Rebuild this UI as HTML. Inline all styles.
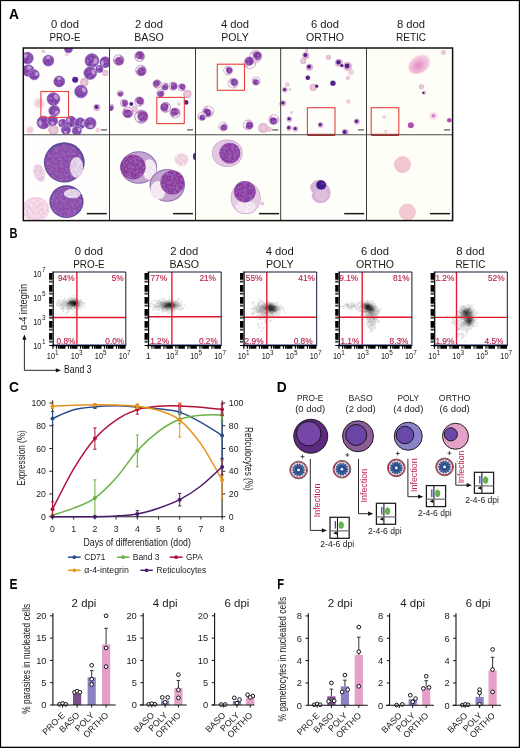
<!DOCTYPE html>
<html><head><meta charset="utf-8"><style>
html,body{margin:0;padding:0;background:#fff;}
svg{display:block;will-change:transform;}
text{font-family:"Liberation Sans",sans-serif;}
</style></head><body>
<svg width="520" height="748" viewBox="0 0 520 748">
<rect width="520" height="748" fill="#fff"/>
<text x="9.0" y="18.8" font-size="13.8" fill="#000" font-weight="bold" >A</text>
<text x="65" y="27.9" font-size="11.3" fill="#1a1a1a" text-anchor="middle" textLength="28.2" lengthAdjust="spacingAndGlyphs" >0 dod</text>
<text x="65" y="40.6" font-size="10.6" fill="#1a1a1a" text-anchor="middle" textLength="30.9" lengthAdjust="spacingAndGlyphs" >PRO-E</text>
<text x="149" y="27.9" font-size="11.3" fill="#1a1a1a" text-anchor="middle" textLength="28.2" lengthAdjust="spacingAndGlyphs" >2 dod</text>
<text x="149" y="40.6" font-size="10.6" fill="#1a1a1a" text-anchor="middle" textLength="29.5" lengthAdjust="spacingAndGlyphs" >BASO</text>
<text x="235" y="27.9" font-size="11.3" fill="#1a1a1a" text-anchor="middle" textLength="28.2" lengthAdjust="spacingAndGlyphs" >4 dod</text>
<text x="235" y="40.6" font-size="10.6" fill="#1a1a1a" text-anchor="middle" textLength="27.5" lengthAdjust="spacingAndGlyphs" >POLY</text>
<text x="325" y="27.9" font-size="11.3" fill="#1a1a1a" text-anchor="middle" textLength="28.2" lengthAdjust="spacingAndGlyphs" >6 dod</text>
<text x="325" y="40.6" font-size="10.6" fill="#1a1a1a" text-anchor="middle" textLength="38" lengthAdjust="spacingAndGlyphs" >ORTHO</text>
<text x="411" y="27.9" font-size="11.3" fill="#1a1a1a" text-anchor="middle" textLength="28.2" lengthAdjust="spacingAndGlyphs" >8 dod</text>
<text x="411" y="40.6" font-size="10.6" fill="#1a1a1a" text-anchor="middle" textLength="30" lengthAdjust="spacingAndGlyphs" >RETIC</text>
<defs>
<filter id="bl" x="-10%" y="-10%" width="120%" height="120%"><feGaussianBlur stdDeviation="0.45"/></filter>
<filter id="bl2" x="-50%" y="-50%" width="200%" height="200%"><feGaussianBlur stdDeviation="1.6"/></filter>
<filter id="bl3" x="-50%" y="-50%" width="200%" height="200%"><feGaussianBlur stdDeviation="0.8"/></filter>
<clipPath id="cp00"><rect x="23.3" y="48" width="86.2" height="86.80000000000001"/></clipPath>
<clipPath id="cp01"><rect x="23.3" y="134.8" width="86.2" height="85.79999999999998"/></clipPath>
<clipPath id="cp10"><rect x="109.5" y="48" width="86.0" height="86.80000000000001"/></clipPath>
<clipPath id="cp11"><rect x="109.5" y="134.8" width="86.0" height="85.79999999999998"/></clipPath>
<clipPath id="cp20"><rect x="195.5" y="48" width="85.19999999999999" height="86.80000000000001"/></clipPath>
<clipPath id="cp21"><rect x="195.5" y="134.8" width="85.19999999999999" height="85.79999999999998"/></clipPath>
<clipPath id="cp30"><rect x="280.7" y="48" width="85.80000000000001" height="86.80000000000001"/></clipPath>
<clipPath id="cp31"><rect x="280.7" y="134.8" width="85.80000000000001" height="85.79999999999998"/></clipPath>
<clipPath id="cp40"><rect x="366.5" y="48" width="86.10000000000002" height="86.80000000000001"/></clipPath>
<clipPath id="cp41"><rect x="366.5" y="134.8" width="86.10000000000002" height="85.79999999999998"/></clipPath>
<radialGradient id="gP" cx="45%" cy="45%" r="55%"><stop offset="0" stop-color="#9a5cb6"/><stop offset="0.75" stop-color="#8048a8"/><stop offset="1" stop-color="#5c3c94"/></radialGradient>
<radialGradient id="gQ" cx="50%" cy="50%" r="50%"><stop offset="0" stop-color="#7a3aa0"/><stop offset="1" stop-color="#5a2a8c"/></radialGradient>
<radialGradient id="gK" cx="50%" cy="50%" r="50%"><stop offset="0" stop-color="#eed0de"/><stop offset="0.75" stop-color="#e6bcd2"/><stop offset="1" stop-color="#d8a4c2"/></radialGradient>
<radialGradient id="gKL" cx="50%" cy="50%" r="50%"><stop offset="0" stop-color="#f0c4dc"/><stop offset="0.6" stop-color="#f4d6e4"/><stop offset="1" stop-color="#fbf0f2" stop-opacity="0"/></radialGradient>
<radialGradient id="gBig" cx="40%" cy="55%" r="55%"><stop offset="0" stop-color="#e488c4"/><stop offset="0.45" stop-color="#eeb0d6"/><stop offset="0.8" stop-color="#f5cfe3"/><stop offset="1" stop-color="#fbeef2" stop-opacity="0"/></radialGradient>
<filter id="mot" x="-10%" y="-10%" width="120%" height="120%"><feTurbulence type="fractalNoise" baseFrequency="0.38" numOctaves="2" seed="4" result="n0"/><feGaussianBlur in="n0" stdDeviation="0.35" result="n"/><feColorMatrix in="n" type="matrix" values="0 0 0 0 0.36  0 0 0 0 0.16  0 0 0 0 0.56  2.2 0 0 0 -0.9" result="dk"/><feComposite in="dk" in2="SourceGraphic" operator="in" result="dk2"/><feMerge><feMergeNode in="SourceGraphic"/><feMergeNode in="dk2"/></feMerge></filter>
<filter id="motl" x="-10%" y="-10%" width="120%" height="120%"><feTurbulence type="fractalNoise" baseFrequency="0.45" numOctaves="2" seed="9" result="n0"/><feGaussianBlur in="n0" stdDeviation="0.4" result="n"/><feColorMatrix in="n" type="matrix" values="0 0 0 0 1  0 0 0 0 1  0 0 0 0 1  1.6 0 0 0 -0.65" result="dk"/><feComposite in="dk" in2="SourceGraphic" operator="in" result="dk2"/><feMerge><feMergeNode in="SourceGraphic"/><feMergeNode in="dk2"/></feMerge></filter>
</defs>
<rect x="23.30" y="48.00" width="86.20" height="86.80" fill="#fffefd" />
<rect x="23.30" y="134.80" width="86.20" height="85.80" fill="#fffefd" />
<rect x="109.50" y="48.00" width="86.00" height="86.80" fill="#fefefb" />
<rect x="109.50" y="134.80" width="86.00" height="85.80" fill="#fefefb" />
<rect x="195.50" y="48.00" width="85.20" height="86.80" fill="#fefef8" />
<rect x="195.50" y="134.80" width="85.20" height="85.80" fill="#fefef8" />
<rect x="280.70" y="48.00" width="85.80" height="86.80" fill="#fefefa" />
<rect x="280.70" y="134.80" width="85.80" height="85.80" fill="#fefefa" />
<rect x="366.50" y="48.00" width="86.10" height="86.80" fill="#fffef6" />
<rect x="366.50" y="134.80" width="86.10" height="85.80" fill="#fffef6" />
<g clip-path="url(#cp00)"><g filter="url(#bl)">
<circle cx="39.19" cy="103.21" r="6.69" fill="url(#gKL)" />
<circle cx="29.99" cy="129.98" r="5.02" fill="url(#gKL)" />
<circle cx="66.80" cy="54.69" r="2.51" fill="url(#gKL)" />
<circle cx="97.75" cy="129.98" r="3.35" fill="url(#gKL)" />
<circle cx="53.42" cy="129.98" r="5.02" fill="url(#gK)" />
<circle cx="43.38" cy="51.35" r="1.67" fill="url(#gK)" />
<circle cx="84.37" cy="82.30" r="4.18" fill="url(#gK)" />
<circle cx="105.28" cy="73.10" r="3.01" fill="url(#gK)" />
<circle cx="96.92" cy="107.39" r="3.37" fill="#e0b4d2" stroke="#cc9cc4" stroke-width="0.4" />
<circle cx="96.51" cy="106.99" r="2.02" fill="#54248c" />
<circle cx="27.48" cy="58.04" r="6.28" fill="#fdf8fc" />
<circle cx="27.48" cy="58.04" r="5.78" fill="#9254b6" stroke="#5e4aa8" stroke-width="0.6" />
<circle cx="27.19" cy="58.27" r="4.63" fill="#803ca6" filter="url(#mot)"/>
<ellipse cx="25.33" cy="55.94" rx="1.73" ry="2.43" transform="rotate(224 25.33 55.94)" fill="#ecd8ee" opacity="0.55"/>
<circle cx="48.40" cy="60.55" r="5.92" fill="#fdf8fc" />
<circle cx="48.40" cy="60.55" r="5.42" fill="#9254b6" stroke="#5e4aa8" stroke-width="0.6" />
<circle cx="48.13" cy="60.76" r="4.34" fill="#803ca6" filter="url(#mot)"/>
<ellipse cx="48.25" cy="57.73" rx="1.63" ry="2.28" transform="rotate(267 48.25 57.73)" fill="#ecd8ee" opacity="0.55"/>
<circle cx="28.32" cy="70.59" r="6.28" fill="#fdf8fc" />
<circle cx="28.32" cy="70.59" r="5.78" fill="#9254b6" stroke="#5e4aa8" stroke-width="0.6" />
<circle cx="28.03" cy="70.82" r="4.63" fill="#803ca6" filter="url(#mot)"/>
<ellipse cx="29.16" cy="67.70" rx="1.73" ry="2.43" transform="rotate(286 29.16 67.70)" fill="#ecd8ee" opacity="0.55"/>
<circle cx="34.18" cy="74.77" r="5.56" fill="#fdf8fc" />
<circle cx="34.18" cy="74.77" r="5.06" fill="#9254b6" stroke="#5e4aa8" stroke-width="0.6" />
<circle cx="33.92" cy="74.97" r="4.05" fill="#803ca6" filter="url(#mot)"/>
<ellipse cx="36.64" cy="73.84" rx="1.52" ry="2.12" transform="rotate(339 36.64 73.84)" fill="#ecd8ee" opacity="0.55"/>
<circle cx="59.27" cy="81.46" r="5.92" fill="#fdf8fc" />
<circle cx="59.27" cy="81.46" r="5.42" fill="#9254b6" stroke="#5e4aa8" stroke-width="0.6" />
<circle cx="59.00" cy="81.68" r="4.34" fill="#803ca6" filter="url(#mot)"/>
<ellipse cx="59.09" cy="78.65" rx="1.63" ry="2.28" transform="rotate(266 59.09 78.65)" fill="#ecd8ee" opacity="0.55"/>
<circle cx="75.17" cy="79.79" r="3.01" fill="#52248c" />
<circle cx="81.02" cy="91.50" r="6.82" fill="#fdf8fc" />
<circle cx="81.02" cy="91.50" r="6.32" fill="#9254b6" stroke="#5e4aa8" stroke-width="0.6" />
<circle cx="80.71" cy="91.75" r="5.06" fill="#803ca6" filter="url(#mot)"/>
<ellipse cx="83.93" cy="89.96" rx="1.90" ry="2.66" transform="rotate(332 83.93 89.96)" fill="#ecd8ee" opacity="0.55"/>
<circle cx="91.90" cy="60.55" r="7.37" fill="#fdf8fc" />
<circle cx="91.90" cy="60.55" r="6.87" fill="#9254b6" stroke="#5e4aa8" stroke-width="0.6" />
<circle cx="91.55" cy="60.82" r="5.49" fill="#803ca6" filter="url(#mot)"/>
<ellipse cx="95.41" cy="61.20" rx="2.06" ry="2.88" transform="rotate(10 95.41 61.20)" fill="#ecd8ee" opacity="0.55"/>
<circle cx="105.28" cy="62.22" r="5.92" fill="#fdf8fc" />
<circle cx="105.28" cy="62.22" r="5.42" fill="#9254b6" stroke="#5e4aa8" stroke-width="0.6" />
<circle cx="105.01" cy="62.44" r="4.34" fill="#803ca6" filter="url(#mot)"/>
<ellipse cx="102.53" cy="62.83" rx="1.63" ry="2.28" transform="rotate(168 102.53 62.83)" fill="#ecd8ee" opacity="0.55"/>
<circle cx="90.22" cy="73.10" r="6.82" fill="#fdf8fc" />
<circle cx="90.22" cy="73.10" r="6.32" fill="#9254b6" stroke="#5e4aa8" stroke-width="0.6" />
<circle cx="89.91" cy="73.35" r="5.06" fill="#803ca6" filter="url(#mot)"/>
<ellipse cx="93.31" cy="71.95" rx="1.90" ry="2.66" transform="rotate(340 93.31 71.95)" fill="#ecd8ee" opacity="0.55"/>
<circle cx="99.43" cy="68.91" r="4.11" fill="#fdf8fc" />
<circle cx="99.43" cy="68.91" r="3.61" fill="#9254b6" stroke="#5e4aa8" stroke-width="0.6" />
<circle cx="99.24" cy="69.06" r="2.89" fill="#803ca6" filter="url(#mot)"/>
<ellipse cx="98.31" cy="67.40" rx="1.08" ry="1.52" transform="rotate(234 98.31 67.40)" fill="#ecd8ee" opacity="0.55"/>
<circle cx="53.42" cy="99.03" r="6.82" fill="#fdf8fc" />
<circle cx="53.42" cy="99.03" r="6.32" fill="#9254b6" stroke="#5e4aa8" stroke-width="0.6" />
<circle cx="53.10" cy="99.28" r="5.06" fill="#803ca6" filter="url(#mot)"/>
<ellipse cx="56.09" cy="97.11" rx="1.90" ry="2.66" transform="rotate(324 56.09 97.11)" fill="#ecd8ee" opacity="0.55"/>
<circle cx="54.25" cy="110.74" r="5.92" fill="#fdf8fc" />
<circle cx="54.25" cy="110.74" r="5.42" fill="#9254b6" stroke="#5e4aa8" stroke-width="0.6" />
<circle cx="53.98" cy="110.96" r="4.34" fill="#803ca6" filter="url(#mot)"/>
<ellipse cx="56.39" cy="112.58" rx="1.63" ry="2.28" transform="rotate(41 56.39 112.58)" fill="#ecd8ee" opacity="0.55"/>
<circle cx="43.38" cy="122.45" r="6.82" fill="#fdf8fc" />
<circle cx="43.38" cy="122.45" r="6.32" fill="#9254b6" stroke="#5e4aa8" stroke-width="0.6" />
<circle cx="43.06" cy="122.71" r="5.06" fill="#803ca6" filter="url(#mot)"/>
<ellipse cx="40.15" cy="123.09" rx="1.90" ry="2.66" transform="rotate(169 40.15 123.09)" fill="#ecd8ee" opacity="0.55"/>
<circle cx="52.58" cy="120.78" r="5.56" fill="#fdf8fc" />
<circle cx="52.58" cy="120.78" r="5.06" fill="#9254b6" stroke="#5e4aa8" stroke-width="0.6" />
<circle cx="52.33" cy="120.98" r="4.05" fill="#803ca6" filter="url(#mot)"/>
<ellipse cx="52.64" cy="123.41" rx="1.52" ry="2.12" transform="rotate(89 52.64 123.41)" fill="#ecd8ee" opacity="0.55"/>
<circle cx="62.62" cy="123.29" r="4.48" fill="#fdf8fc" />
<circle cx="62.62" cy="123.29" r="3.98" fill="#9254b6" stroke="#5e4aa8" stroke-width="0.6" />
<circle cx="62.42" cy="123.45" r="3.18" fill="#803ca6" filter="url(#mot)"/>
<ellipse cx="60.63" cy="122.73" rx="1.19" ry="1.67" transform="rotate(196 60.63 122.73)" fill="#ecd8ee" opacity="0.55"/>
<circle cx="70.98" cy="121.62" r="5.92" fill="#fdf8fc" />
<circle cx="70.98" cy="121.62" r="5.42" fill="#9254b6" stroke="#5e4aa8" stroke-width="0.6" />
<circle cx="70.71" cy="121.83" r="4.34" fill="#803ca6" filter="url(#mot)"/>
<ellipse cx="68.46" cy="120.35" rx="1.63" ry="2.28" transform="rotate(207 68.46 120.35)" fill="#ecd8ee" opacity="0.55"/>
<circle cx="80.18" cy="123.29" r="5.92" fill="#fdf8fc" />
<circle cx="80.18" cy="123.29" r="5.42" fill="#9254b6" stroke="#5e4aa8" stroke-width="0.6" />
<circle cx="79.91" cy="123.51" r="4.34" fill="#803ca6" filter="url(#mot)"/>
<ellipse cx="82.99" cy="123.52" rx="1.63" ry="2.28" transform="rotate(5 82.99 123.52)" fill="#ecd8ee" opacity="0.55"/>
<circle cx="90.22" cy="123.29" r="6.28" fill="#fdf8fc" />
<circle cx="90.22" cy="123.29" r="5.78" fill="#9254b6" stroke="#5e4aa8" stroke-width="0.6" />
<circle cx="89.93" cy="123.52" r="4.63" fill="#803ca6" filter="url(#mot)"/>
<ellipse cx="90.85" cy="126.23" rx="1.73" ry="2.43" transform="rotate(78 90.85 126.23)" fill="#ecd8ee" opacity="0.55"/>
<circle cx="65.96" cy="129.98" r="5.02" fill="#fdf8fc" />
<circle cx="65.96" cy="129.98" r="4.52" fill="#9254b6" stroke="#5e4aa8" stroke-width="0.6" />
<circle cx="65.74" cy="130.16" r="3.61" fill="#803ca6" filter="url(#mot)"/>
<ellipse cx="65.53" cy="132.29" rx="1.36" ry="1.90" transform="rotate(101 65.53 132.29)" fill="#ecd8ee" opacity="0.55"/>
<circle cx="76.84" cy="130.82" r="5.02" fill="#fdf8fc" />
<circle cx="76.84" cy="130.82" r="4.52" fill="#9254b6" stroke="#5e4aa8" stroke-width="0.6" />
<circle cx="76.61" cy="131.00" r="3.61" fill="#803ca6" filter="url(#mot)"/>
<ellipse cx="78.87" cy="129.64" rx="1.36" ry="1.90" transform="rotate(330 78.87 129.64)" fill="#ecd8ee" opacity="0.55"/>
<circle cx="68.47" cy="48.84" r="4.48" fill="#fdf8fc" />
<circle cx="68.47" cy="48.84" r="3.98" fill="#9254b6" stroke="#5e4aa8" stroke-width="0.6" />
<circle cx="68.27" cy="49.00" r="3.18" fill="#803ca6" filter="url(#mot)"/>
<ellipse cx="68.68" cy="46.78" rx="1.19" ry="1.67" transform="rotate(276 68.68 46.78)" fill="#ecd8ee" opacity="0.55"/>
</g></g>
<g clip-path="url(#cp10)"><g filter="url(#bl)">
<circle cx="187.30" cy="94.01" r="4.18" fill="url(#gK)" />
<circle cx="134.60" cy="109.07" r="3.01" fill="url(#gK)" />
<circle cx="178.93" cy="104.05" r="1.67" fill="url(#gK)" />
<circle cx="118.70" cy="60.05" r="5.85" fill="#fdf8fc" />
<circle cx="118.70" cy="60.05" r="5.35" fill="#c690ca" stroke="#9a78b8" stroke-width="0.5" />
<ellipse cx="116.97" cy="57.34" rx="1.61" ry="3.21" transform="rotate(57 116.97 57.34)" fill="#f6ecf4"/>
<circle cx="119.28" cy="60.95" r="4.07" fill="#8a3c9c" filter="url(#mot)"/>
<circle cx="139.62" cy="56.37" r="5.52" fill="#fdf8fc" />
<circle cx="139.62" cy="56.37" r="5.02" fill="#c690ca" stroke="#9a78b8" stroke-width="0.5" />
<ellipse cx="138.74" cy="59.25" rx="1.51" ry="3.01" transform="rotate(287 138.74 59.25)" fill="#f6ecf4"/>
<circle cx="139.91" cy="55.41" r="3.81" fill="#8a3c9c" filter="url(#mot)"/>
<circle cx="140.95" cy="70.59" r="5.85" fill="#fdf8fc" />
<circle cx="140.95" cy="70.59" r="5.35" fill="#c690ca" stroke="#9a78b8" stroke-width="0.5" />
<ellipse cx="138.89" cy="68.13" rx="1.61" ry="3.21" transform="rotate(50 138.89 68.13)" fill="#f6ecf4"/>
<circle cx="141.64" cy="71.41" r="4.07" fill="#8a3c9c" filter="url(#mot)"/>
<circle cx="157.18" cy="83.97" r="4.68" fill="#fdf8fc" />
<circle cx="157.18" cy="83.97" r="4.18" fill="#c690ca" stroke="#9a78b8" stroke-width="0.5" />
<ellipse cx="159.04" cy="85.66" rx="1.25" ry="2.51" transform="rotate(222 159.04 85.66)" fill="#f6ecf4"/>
<circle cx="156.56" cy="83.41" r="3.18" fill="#8a3c9c" filter="url(#mot)"/>
<circle cx="164.71" cy="86.48" r="4.18" fill="#fdf8fc" />
<circle cx="164.71" cy="86.48" r="3.68" fill="#c690ca" stroke="#9a78b8" stroke-width="0.5" />
<ellipse cx="163.17" cy="84.90" rx="1.10" ry="2.21" transform="rotate(46 163.17 84.90)" fill="#f6ecf4"/>
<circle cx="165.23" cy="87.01" r="2.80" fill="#8a3c9c" filter="url(#mot)"/>
<circle cx="173.08" cy="86.15" r="4.68" fill="#fdf8fc" />
<circle cx="173.08" cy="86.15" r="4.18" fill="#c690ca" stroke="#9a78b8" stroke-width="0.5" />
<ellipse cx="170.57" cy="86.12" rx="1.25" ry="2.51" transform="rotate(1 170.57 86.12)" fill="#f6ecf4"/>
<circle cx="173.91" cy="86.16" r="3.18" fill="#8a3c9c" filter="url(#mot)"/>
<circle cx="181.78" cy="87.32" r="4.18" fill="#fdf8fc" />
<circle cx="181.78" cy="87.32" r="3.68" fill="#c690ca" stroke="#9a78b8" stroke-width="0.5" />
<ellipse cx="180.25" cy="88.91" rx="1.10" ry="2.21" transform="rotate(314 180.25 88.91)" fill="#f6ecf4"/>
<circle cx="182.29" cy="86.79" r="2.80" fill="#8a3c9c" filter="url(#mot)"/>
<circle cx="160.53" cy="93.17" r="4.18" fill="#fdf8fc" />
<circle cx="160.53" cy="93.17" r="3.68" fill="#c690ca" stroke="#9a78b8" stroke-width="0.5" />
<ellipse cx="159.97" cy="91.04" rx="1.10" ry="2.21" transform="rotate(75 159.97 91.04)" fill="#f6ecf4"/>
<circle cx="160.71" cy="93.89" r="2.80" fill="#8a3c9c" filter="url(#mot)"/>
<circle cx="186.13" cy="102.38" r="2.34" fill="#52248c" />
<circle cx="120.38" cy="93.51" r="3.51" fill="#fdf8fc" />
<circle cx="120.38" cy="93.51" r="3.01" fill="#c690ca" stroke="#9a78b8" stroke-width="0.5" />
<ellipse cx="119.99" cy="91.74" rx="0.90" ry="1.81" transform="rotate(78 119.99 91.74)" fill="#f6ecf4"/>
<circle cx="120.50" cy="94.10" r="2.29" fill="#8a3c9c" filter="url(#mot)"/>
<circle cx="124.22" cy="103.21" r="4.18" fill="#fdf8fc" />
<circle cx="124.22" cy="103.21" r="3.68" fill="#c690ca" stroke="#9a78b8" stroke-width="0.5" />
<ellipse cx="122.03" cy="103.46" rx="1.10" ry="2.21" transform="rotate(354 122.03 103.46)" fill="#f6ecf4"/>
<circle cx="124.95" cy="103.13" r="2.80" fill="#8a3c9c" filter="url(#mot)"/>
<circle cx="131.25" cy="104.05" r="2.01" fill="#52248c" />
<circle cx="139.28" cy="101.54" r="5.18" fill="#fdf8fc" />
<circle cx="139.28" cy="101.54" r="4.68" fill="#c690ca" stroke="#9a78b8" stroke-width="0.5" />
<ellipse cx="137.33" cy="103.56" rx="1.41" ry="2.81" transform="rotate(314 137.33 103.56)" fill="#f6ecf4"/>
<circle cx="139.93" cy="100.87" r="3.56" fill="#8a3c9c" filter="url(#mot)"/>
<circle cx="127.90" cy="112.41" r="5.85" fill="#fdf8fc" />
<circle cx="127.90" cy="112.41" r="5.35" fill="#c690ca" stroke="#9a78b8" stroke-width="0.5" />
<ellipse cx="128.69" cy="109.30" rx="1.61" ry="3.21" transform="rotate(104 128.69 109.30)" fill="#f6ecf4"/>
<circle cx="127.64" cy="113.45" r="4.07" fill="#8a3c9c" filter="url(#mot)"/>
<circle cx="141.29" cy="116.60" r="7.19" fill="#fdf8fc" />
<circle cx="141.29" cy="116.60" r="6.69" fill="#c690ca" stroke="#9a78b8" stroke-width="0.5" />
<ellipse cx="137.39" cy="117.56" rx="2.01" ry="4.02" transform="rotate(346 137.39 117.56)" fill="#f6ecf4"/>
<circle cx="142.59" cy="116.28" r="5.09" fill="#8a3c9c" filter="url(#mot)"/>
<circle cx="165.55" cy="107.39" r="5.52" fill="#fdf8fc" />
<circle cx="165.55" cy="107.39" r="5.02" fill="#c690ca" stroke="#9a78b8" stroke-width="0.5" />
<ellipse cx="168.47" cy="108.13" rx="1.51" ry="3.01" transform="rotate(194 168.47 108.13)" fill="#f6ecf4"/>
<circle cx="164.57" cy="107.15" r="3.81" fill="#8a3c9c" filter="url(#mot)"/>
<circle cx="175.08" cy="112.92" r="5.52" fill="#fdf8fc" />
<circle cx="175.08" cy="112.92" r="5.02" fill="#c690ca" stroke="#9a78b8" stroke-width="0.5" />
<ellipse cx="176.40" cy="115.62" rx="1.51" ry="3.01" transform="rotate(244 176.40 115.62)" fill="#f6ecf4"/>
<circle cx="174.64" cy="112.01" r="3.81" fill="#8a3c9c" filter="url(#mot)"/>
<circle cx="110.34" cy="107.39" r="3.85" fill="#fdf8fc" />
<circle cx="110.34" cy="107.39" r="3.35" fill="#c690ca" stroke="#9a78b8" stroke-width="0.5" />
<ellipse cx="109.77" cy="105.47" rx="1.00" ry="2.01" transform="rotate(74 109.77 105.47)" fill="#f6ecf4"/>
<circle cx="110.52" cy="108.04" r="2.54" fill="#8a3c9c" filter="url(#mot)"/>
</g></g>
<g clip-path="url(#cp20)"><g filter="url(#bl)">
<circle cx="263.26" cy="127.97" r="5.02" fill="url(#gK)" />
<circle cx="269.12" cy="129.14" r="2.51" fill="url(#gK)" />
<circle cx="255.73" cy="56.37" r="6.52" fill="#fdf8fb" />
<circle cx="255.73" cy="56.37" r="6.12" fill="#dcbcdc" stroke="#c09cc8" stroke-width="0.5" />
<ellipse cx="252.42" cy="57.65" rx="1.84" ry="3.67" transform="rotate(339 252.42 57.65)" fill="#faf2f6"/>
<circle cx="257.21" cy="55.79" r="4.16" fill="#7e349e" filter="url(#mot)"/>
<circle cx="249.88" cy="62.72" r="6.52" fill="#fdf8fb" />
<circle cx="249.88" cy="62.72" r="6.12" fill="#dcbcdc" stroke="#c09cc8" stroke-width="0.5" />
<ellipse cx="251.17" cy="66.03" rx="1.84" ry="3.67" transform="rotate(249 251.17 66.03)" fill="#faf2f6"/>
<circle cx="249.29" cy="61.24" r="4.16" fill="#7e349e" filter="url(#mot)"/>
<circle cx="228.13" cy="70.59" r="4.89" fill="#fdf8fb" />
<circle cx="228.13" cy="70.59" r="4.49" fill="#dcbcdc" stroke="#c09cc8" stroke-width="0.5" />
<ellipse cx="225.58" cy="71.13" rx="1.35" ry="2.69" transform="rotate(348 225.58 71.13)" fill="#faf2f6"/>
<circle cx="229.27" cy="70.34" r="3.05" fill="#7e349e" filter="url(#mot)"/>
<circle cx="233.14" cy="83.13" r="5.50" fill="#fdf8fb" />
<circle cx="233.14" cy="83.13" r="5.10" fill="#dcbcdc" stroke="#c09cc8" stroke-width="0.5" />
<ellipse cx="230.82" cy="84.97" rx="1.53" ry="3.06" transform="rotate(322 230.82 84.97)" fill="#faf2f6"/>
<circle cx="234.19" cy="82.31" r="3.47" fill="#7e349e" filter="url(#mot)"/>
<circle cx="256.07" cy="81.13" r="4.48" fill="#fdf8fb" />
<circle cx="256.07" cy="81.13" r="4.08" fill="#dcbcdc" stroke="#c09cc8" stroke-width="0.5" />
<ellipse cx="256.78" cy="78.87" rx="1.22" ry="2.45" transform="rotate(108 256.78 78.87)" fill="#faf2f6"/>
<circle cx="255.75" cy="82.14" r="2.78" fill="#7e349e" filter="url(#mot)"/>
<circle cx="208.05" cy="111.58" r="6.12" fill="#fdf8fb" />
<circle cx="208.05" cy="111.58" r="5.72" fill="#dcbcdc" stroke="#c09cc8" stroke-width="0.5" />
<ellipse cx="210.18" cy="109.04" rx="1.71" ry="3.43" transform="rotate(130 210.18 109.04)" fill="#faf2f6"/>
<circle cx="207.09" cy="112.71" r="3.89" fill="#7e349e" filter="url(#mot)"/>
<circle cx="201.86" cy="116.60" r="4.48" fill="#fdf8fb" />
<circle cx="201.86" cy="116.60" r="4.08" fill="#dcbcdc" stroke="#c09cc8" stroke-width="0.5" />
<ellipse cx="200.66" cy="114.55" rx="1.22" ry="2.45" transform="rotate(60 200.66 114.55)" fill="#faf2f6"/>
<circle cx="202.39" cy="117.51" r="2.78" fill="#7e349e" filter="url(#mot)"/>
<circle cx="223.11" cy="126.63" r="4.89" fill="#fdf8fb" />
<circle cx="223.11" cy="126.63" r="4.49" fill="#dcbcdc" stroke="#c09cc8" stroke-width="0.5" />
<ellipse cx="221.52" cy="124.57" rx="1.35" ry="2.69" transform="rotate(52 221.52 124.57)" fill="#faf2f6"/>
<circle cx="223.82" cy="127.56" r="3.05" fill="#7e349e" filter="url(#mot)"/>
<circle cx="248.20" cy="124.96" r="5.50" fill="#fdf8fb" />
<circle cx="248.20" cy="124.96" r="5.10" fill="#dcbcdc" stroke="#c09cc8" stroke-width="0.5" />
<ellipse cx="245.49" cy="123.78" rx="1.53" ry="3.06" transform="rotate(23 245.49 123.78)" fill="#faf2f6"/>
<circle cx="249.42" cy="125.49" r="3.47" fill="#7e349e" filter="url(#mot)"/>
<circle cx="273.80" cy="119.61" r="5.50" fill="#fdf8fb" />
<circle cx="273.80" cy="119.61" r="5.10" fill="#dcbcdc" stroke="#c09cc8" stroke-width="0.5" />
<ellipse cx="274.74" cy="116.80" rx="1.53" ry="3.06" transform="rotate(108 274.74 116.80)" fill="#faf2f6"/>
<circle cx="273.38" cy="120.87" r="3.47" fill="#7e349e" filter="url(#mot)"/>
<circle cx="281.66" cy="104.05" r="2.44" fill="#fdf8fb" />
<circle cx="281.66" cy="104.05" r="2.04" fill="#dcbcdc" stroke="#c09cc8" stroke-width="0.5" />
<ellipse cx="282.61" cy="104.76" rx="0.61" ry="1.22" transform="rotate(217 282.61 104.76)" fill="#faf2f6"/>
<circle cx="281.24" cy="103.73" r="1.39" fill="#7e349e" filter="url(#mot)"/>
</g></g>
<g clip-path="url(#cp30)"><g filter="url(#bl)">
<circle cx="350.97" cy="72.26" r="4.18" fill="url(#gKL)" />
<circle cx="348.46" cy="101.54" r="3.35" fill="url(#gKL)" />
<circle cx="303.29" cy="61.05" r="3.01" fill="url(#gK)" />
<circle cx="328.38" cy="57.20" r="2.51" fill="url(#gK)" />
<circle cx="347.96" cy="78.12" r="2.01" fill="url(#gK)" />
<circle cx="313.33" cy="87.32" r="3.68" fill="url(#gK)" />
<circle cx="287.39" cy="84.47" r="2.01" fill="url(#gK)" />
<circle cx="289.90" cy="89.49" r="1.34" fill="url(#gK)" />
<circle cx="291.58" cy="112.41" r="1.34" fill="url(#gK)" />
<circle cx="306.63" cy="50.51" r="1.67" fill="url(#gK)" />
<circle cx="305.80" cy="55.53" r="3.37" fill="#e0b4d2" stroke="#cc9cc4" stroke-width="0.4" />
<circle cx="305.39" cy="55.12" r="2.02" fill="#54248c" />
<circle cx="309.48" cy="67.24" r="3.37" fill="#e0b4d2" stroke="#cc9cc4" stroke-width="0.4" />
<circle cx="309.07" cy="66.84" r="2.02" fill="#54248c" />
<circle cx="338.92" cy="62.72" r="3.75" fill="#e0b4d2" stroke="#cc9cc4" stroke-width="0.4" />
<circle cx="338.47" cy="62.27" r="2.25" fill="#54248c" />
<circle cx="347.62" cy="66.40" r="4.12" fill="#e0b4d2" stroke="#cc9cc4" stroke-width="0.4" />
<circle cx="347.13" cy="65.91" r="2.47" fill="#54248c" />
<circle cx="307.80" cy="77.78" r="2.34" fill="#52248c" />
<circle cx="332.90" cy="83.13" r="2.68" fill="#52248c" />
<circle cx="316.67" cy="86.15" r="1.67" fill="#52248c" />
<circle cx="284.88" cy="89.83" r="2.62" fill="#e0b4d2" stroke="#cc9cc4" stroke-width="0.4" />
<circle cx="284.57" cy="89.51" r="1.57" fill="#54248c" />
<circle cx="283.21" cy="103.21" r="2.81" fill="#e0b4d2" stroke="#cc9cc4" stroke-width="0.4" />
<circle cx="282.87" cy="102.87" r="1.69" fill="#54248c" />
<circle cx="289.40" cy="119.11" r="2.62" fill="#e0b4d2" stroke="#cc9cc4" stroke-width="0.4" />
<circle cx="289.09" cy="118.79" r="1.57" fill="#54248c" />
<circle cx="289.07" cy="127.97" r="2.62" fill="#e0b4d2" stroke="#cc9cc4" stroke-width="0.4" />
<circle cx="288.75" cy="127.66" r="1.57" fill="#54248c" />
<circle cx="295.42" cy="128.81" r="2.62" fill="#e0b4d2" stroke="#cc9cc4" stroke-width="0.4" />
<circle cx="295.11" cy="128.49" r="1.57" fill="#54248c" />
<circle cx="320.52" cy="124.96" r="2.62" fill="#e0b4d2" stroke="#cc9cc4" stroke-width="0.4" />
<circle cx="320.20" cy="124.65" r="1.57" fill="#54248c" />
<circle cx="356.83" cy="121.62" r="2.81" fill="#e0b4d2" stroke="#cc9cc4" stroke-width="0.4" />
<circle cx="356.49" cy="121.28" r="1.69" fill="#54248c" />
<circle cx="345.11" cy="132.49" r="3.37" fill="#e0b4d2" stroke="#cc9cc4" stroke-width="0.4" />
<circle cx="344.71" cy="132.09" r="2.02" fill="#54248c" />
<circle cx="341.77" cy="65.57" r="1.67" fill="#52248c" />
</g></g>
<g clip-path="url(#cp40)"><g filter="url(#bl)">
<ellipse cx="420.04" cy="63.06" rx="13.05" ry="9.37" transform="rotate(-40 420.04 63.06)" fill="url(#gBig)"/>
<circle cx="443.46" cy="52.52" r="2.34" fill="url(#gK)" />
<circle cx="421.38" cy="86.82" r="2.51" fill="url(#gK)" />
<circle cx="424.22" cy="92.84" r="2.01" fill="url(#gK)" />
<circle cx="423.38" cy="92.84" r="1.17" fill="#52248c" />
<circle cx="433.42" cy="115.76" r="5.02" fill="url(#gKL)" />
<circle cx="384.07" cy="116.93" r="2.51" fill="url(#gKL)" />
<circle cx="385.74" cy="131.32" r="2.34" fill="url(#gKL)" />
<circle cx="449.32" cy="120.28" r="2.34" fill="#b050b0" />
<circle cx="410.84" cy="125.30" r="3.01" fill="#b050b0" />
<circle cx="433.42" cy="115.76" r="1.34" fill="#c060b8" />
</g></g>
<g clip-path="url(#cp01)"><g filter="url(#bl)">
<ellipse cx="35.85" cy="209.25" rx="13.38" ry="12.55" fill="#f0cce0" filter="url(#motl)"/>
<ellipse cx="39.19" cy="172.95" rx="5.35" ry="9.20" fill="#e6c2dc" transform="rotate(-20 39.19 172.95)" filter="url(#motl)"/>
<ellipse cx="64.29" cy="162.41" rx="20.41" ry="20.08" fill="#5e4c9e" />
<ellipse cx="63.96" cy="162.91" rx="18.74" ry="18.40" fill="#8a4ca6" filter="url(#mot)"/>
<ellipse cx="76.50" cy="167.43" rx="6.69" ry="10.37" fill="#dcc6e2" filter="url(#motl)"/>
<ellipse cx="66.47" cy="201.72" rx="17.07" ry="16.40" fill="#5a4a9c" />
<ellipse cx="66.30" cy="202.06" rx="15.73" ry="15.06" fill="#8a4ca6" filter="url(#mot)"/>
<ellipse cx="72.15" cy="193.69" rx="8.37" ry="4.68" fill="#dcc8e4" filter="url(#motl)"/>
</g></g>
<g clip-path="url(#cp11)"><g filter="url(#bl)">
<ellipse cx="181.44" cy="159.56" rx="7.03" ry="6.36" fill="#ecccdc" filter="url(#motl)"/>
<ellipse cx="195.66" cy="156.55" rx="2.68" ry="3.68" fill="#4a2a88" />
<ellipse cx="138.78" cy="167.43" rx="18.40" ry="16.23" fill="#8a6cb0" />
<ellipse cx="138.78" cy="167.43" rx="17.40" ry="15.23" fill="#c4a4d0" />
<ellipse cx="149.32" cy="169.60" rx="7.03" ry="10.37" fill="#f2e4ee" filter="url(#motl)"/>
<ellipse cx="132.92" cy="167.09" rx="12.72" ry="12.38" fill="#8a3a98" filter="url(#mot)"/>
<ellipse cx="167.22" cy="185.33" rx="17.73" ry="16.40" fill="#8a6cb0" />
<ellipse cx="167.22" cy="185.33" rx="16.73" ry="15.39" fill="#c4a4d0" />
<ellipse cx="158.02" cy="190.35" rx="7.70" ry="9.37" fill="#f2e4ee" filter="url(#motl)"/>
<ellipse cx="172.41" cy="182.48" rx="12.05" ry="12.05" fill="#8a3a98" filter="url(#mot)"/>
</g></g>
<g clip-path="url(#cp21)"><g filter="url(#bl)">
<ellipse cx="227.29" cy="153.20" rx="15.39" ry="13.72" fill="#c8a0cc" />
<ellipse cx="227.29" cy="153.20" rx="14.72" ry="13.05" fill="#e2c8e2" />
<ellipse cx="229.80" cy="153.20" rx="10.54" ry="10.37" fill="#8c3a9e" filter="url(#mot)"/>
<ellipse cx="245.69" cy="198.04" rx="15.06" ry="16.06" fill="#c8a0cc" />
<ellipse cx="245.69" cy="198.04" rx="14.39" ry="15.39" fill="#e4cce2" />
<ellipse cx="245.69" cy="206.74" rx="10.04" ry="6.36" fill="#f0e2ee" filter="url(#motl)"/>
<ellipse cx="244.86" cy="191.68" rx="10.88" ry="10.71" fill="#8c3a9e" filter="url(#mot)"/>
<circle cx="262.42" cy="203.40" r="2.01" fill="#e0c8e0" />
</g></g>
<g clip-path="url(#cp31)"><g filter="url(#bl)">
<path d="M314.16 181.65 C309.14 184.99 309.98 190.01 313.33 192.52 C309.98 196.70 314.16 203.40 321.69 202.56 C330.89 201.72 332.57 190.01 326.71 184.99 C324.20 179.97 318.34 179.14 314.16 181.65 Z" fill="#d8b2d8" stroke="#c898c4" stroke-width="0.6"/>
<ellipse cx="321.69" cy="195.03" rx="6.69" ry="5.86" fill="#dfc0dc" />
<ellipse cx="321.19" cy="184.99" rx="5.02" ry="4.68" fill="#3c1c8a" />
<ellipse cx="322.53" cy="183.32" rx="2.01" ry="1.67" fill="#5a2a98" />
<rect x="307.47" y="134.8" width="27.61" height="1.2" fill="#c02020"/>
</g></g>
<g clip-path="url(#cp41)"><g filter="url(#bl)">
<circle cx="402.47" cy="164.58" r="8.03" fill="#f2c6d2" stroke="#eab0c0" stroke-width="0.6" />
<circle cx="407.49" cy="212.10" r="8.03" fill="#f4cad2" stroke="#eab0c0" stroke-width="0.6" />
<rect x="371.18" y="134.8" width="27.61" height="1.2" fill="#c02020"/>
</g></g>
<rect x="40.90" y="91.50" width="27.60" height="25.90" fill="none" stroke="#e8403e" stroke-width="1.1" />
<rect x="156.80" y="97.40" width="27.50" height="26.20" fill="none" stroke="#e8403e" stroke-width="1.1" />
<rect x="217.30" y="64.20" width="27.20" height="26.10" fill="none" stroke="#e8403e" stroke-width="1.1" />
<rect x="307.40" y="107.70" width="27.60" height="26.60" fill="none" stroke="#e8403e" stroke-width="1.1" />
<rect x="371.20" y="107.70" width="27.60" height="26.60" fill="none" stroke="#e8403e" stroke-width="1.1" />
<rect x="101.00" y="129.30" width="6.00" height="1.20" fill="#555" />
<rect x="86.80" y="212.90" width="20.00" height="1.50" fill="#1a1a1a" />
<rect x="187.00" y="129.30" width="6.00" height="1.20" fill="#555" />
<rect x="173.00" y="212.90" width="20.00" height="1.50" fill="#1a1a1a" />
<rect x="272.20" y="129.30" width="6.00" height="1.20" fill="#555" />
<rect x="259.00" y="212.90" width="20.00" height="1.50" fill="#1a1a1a" />
<rect x="358.00" y="129.30" width="6.00" height="1.20" fill="#555" />
<rect x="344.20" y="212.90" width="20.00" height="1.50" fill="#1a1a1a" />
<rect x="444.10" y="129.30" width="6.00" height="1.20" fill="#555" />
<rect x="430.00" y="212.90" width="20.00" height="1.50" fill="#1a1a1a" />
<line x1="109.50" y1="48.00" x2="109.50" y2="220.60" stroke="#3a3a3a" stroke-width="1" />
<line x1="195.50" y1="48.00" x2="195.50" y2="220.60" stroke="#3a3a3a" stroke-width="1" />
<line x1="280.70" y1="48.00" x2="280.70" y2="220.60" stroke="#3a3a3a" stroke-width="1" />
<line x1="366.50" y1="48.00" x2="366.50" y2="220.60" stroke="#3a3a3a" stroke-width="1" />
<line x1="23.30" y1="134.80" x2="452.60" y2="134.80" stroke="#4a4a4a" stroke-width="1.1" />
<rect x="23.30" y="48.00" width="429.30" height="172.60" fill="none" stroke="#111" stroke-width="1.5" />
<text x="9.4" y="237.9" font-size="13.8" fill="#000" font-weight="bold" textLength="8.0" lengthAdjust="spacingAndGlyphs" >B</text>
<defs><radialGradient id="gD"><stop offset="0" stop-color="#000" stop-opacity="0.95"/><stop offset="0.35" stop-color="#000" stop-opacity="0.55"/><stop offset="0.7" stop-color="#000" stop-opacity="0.18"/><stop offset="1" stop-color="#000" stop-opacity="0"/></radialGradient></defs>
<text x="88.9" y="254.6" font-size="11.3" fill="#1a1a1a" text-anchor="middle" textLength="28.2" lengthAdjust="spacingAndGlyphs" >0 dod</text>
<text x="88.9" y="267.6" font-size="10.6" fill="#1a1a1a" text-anchor="middle" textLength="31.5" lengthAdjust="spacingAndGlyphs" >PRO-E</text>
<rect x="52.00" y="272.00" width="73.80" height="74.00" fill="#fff" />
<path d="M73 295h1v1h-1zM74 295h1v1h-1zM60 296h1v1h-1zM61 296h1v1h-1zM73 296h1v1h-1zM64 297h1v1h-1zM70 297h1v1h-1zM71 297h1v1h-1zM72 297h1v1h-1zM73 297h1v1h-1zM74 297h1v1h-1zM75 297h1v1h-1zM64 298h1v1h-1zM67 298h1v1h-1zM68 298h1v1h-1zM69 298h1v1h-1zM76 298h1v1h-1zM89 298h1v1h-1zM58 299h1v1h-1zM59 299h1v1h-1zM62 299h1v1h-1zM63 299h1v1h-1zM64 299h1v1h-1zM65 299h1v1h-1zM66 299h1v1h-1zM67 299h1v1h-1zM78 299h1v1h-1zM79 299h1v1h-1zM80 299h1v1h-1zM81 299h1v1h-1zM57 300h1v1h-1zM58 300h1v1h-1zM60 300h1v1h-1zM61 300h1v1h-1zM62 300h1v1h-1zM63 300h1v1h-1zM64 300h1v1h-1zM65 300h1v1h-1zM66 300h1v1h-1zM81 300h1v1h-1zM57 301h1v1h-1zM58 301h1v1h-1zM59 301h1v1h-1zM60 301h1v1h-1zM61 301h1v1h-1zM62 301h1v1h-1zM81 301h1v1h-1zM82 301h1v1h-1zM56 302h1v1h-1zM57 302h1v1h-1zM58 302h1v1h-1zM59 302h1v1h-1zM60 302h1v1h-1zM61 302h1v1h-1zM83 302h1v1h-1zM84 302h1v1h-1zM56 303h1v1h-1zM57 303h1v1h-1zM58 303h1v1h-1zM59 303h1v1h-1zM60 303h1v1h-1zM81 303h1v1h-1zM82 303h1v1h-1zM83 303h1v1h-1zM84 303h1v1h-1zM56 304h1v1h-1zM57 304h1v1h-1zM58 304h1v1h-1zM59 304h1v1h-1zM81 304h1v1h-1zM82 304h1v1h-1zM83 304h1v1h-1zM84 304h1v1h-1zM56 305h1v1h-1zM57 305h1v1h-1zM58 305h1v1h-1zM59 305h1v1h-1zM81 305h1v1h-1zM82 305h1v1h-1zM83 305h1v1h-1zM57 306h1v1h-1zM58 306h1v1h-1zM59 306h1v1h-1zM60 306h1v1h-1zM61 306h1v1h-1zM63 306h1v1h-1zM64 306h1v1h-1zM80 306h1v1h-1zM81 306h1v1h-1zM82 306h1v1h-1zM85 306h1v1h-1zM60 307h1v1h-1zM61 307h1v1h-1zM64 307h1v1h-1zM65 307h1v1h-1zM66 307h1v1h-1zM79 307h1v1h-1zM80 307h1v1h-1zM81 307h1v1h-1zM82 307h1v1h-1zM84 307h1v1h-1zM85 307h1v1h-1zM60 308h1v1h-1zM61 308h1v1h-1zM64 308h1v1h-1zM65 308h1v1h-1zM66 308h1v1h-1zM72 308h1v1h-1zM73 308h1v1h-1zM76 308h1v1h-1zM77 308h1v1h-1zM78 308h1v1h-1zM79 308h1v1h-1zM80 308h1v1h-1zM60 309h1v1h-1zM61 309h1v1h-1zM62 309h1v1h-1zM63 309h1v1h-1zM64 309h1v1h-1zM66 309h1v1h-1zM67 309h1v1h-1zM69 309h1v1h-1zM70 309h1v1h-1zM71 309h1v1h-1zM72 309h1v1h-1zM73 309h1v1h-1zM74 309h1v1h-1zM75 309h1v1h-1zM76 309h1v1h-1zM77 309h1v1h-1zM78 309h1v1h-1zM82 309h1v1h-1zM63 310h1v1h-1zM67 310h1v1h-1zM68 310h1v1h-1zM69 310h1v1h-1zM72 310h1v1h-1zM77 310h1v1h-1zM62 311h1v1h-1zM63 311h1v1h-1zM67 311h1v1h-1zM68 311h1v1h-1zM69 311h1v1h-1zM74 311h1v1h-1zM75 311h1v1h-1zM66 312h1v1h-1zM67 312h1v1h-1zM68 312h1v1h-1zM74 312h1v1h-1zM75 312h1v1h-1zM65 313h1v1h-1zM66 313h1v1h-1zM75 313h1v1h-1zM72 314h1v1h-1zM73 314h1v1h-1zM74 314h1v1h-1zM75 314h1v1h-1z" fill="#000" fill-opacity="0.1"/>
<path d="M70 298h1v1h-1zM71 298h1v1h-1zM72 298h1v1h-1zM73 298h1v1h-1zM74 298h1v1h-1zM75 298h1v1h-1zM68 299h1v1h-1zM69 299h1v1h-1zM70 299h1v1h-1zM71 299h1v1h-1zM76 299h1v1h-1zM77 299h1v1h-1zM67 300h1v1h-1zM68 300h1v1h-1zM79 300h1v1h-1zM80 300h1v1h-1zM63 301h1v1h-1zM64 301h1v1h-1zM66 301h1v1h-1zM67 301h1v1h-1zM79 301h1v1h-1zM80 301h1v1h-1zM62 302h1v1h-1zM63 302h1v1h-1zM64 302h1v1h-1zM65 302h1v1h-1zM80 302h1v1h-1zM81 302h1v1h-1zM82 302h1v1h-1zM61 303h1v1h-1zM62 303h1v1h-1zM63 303h1v1h-1zM64 303h1v1h-1zM65 303h1v1h-1zM80 303h1v1h-1zM60 304h1v1h-1zM61 304h1v1h-1zM62 304h1v1h-1zM63 304h1v1h-1zM64 304h1v1h-1zM65 304h1v1h-1zM80 304h1v1h-1zM60 305h1v1h-1zM61 305h1v1h-1zM62 305h1v1h-1zM63 305h1v1h-1zM64 305h1v1h-1zM80 305h1v1h-1zM62 306h1v1h-1zM65 306h1v1h-1zM66 306h1v1h-1zM79 306h1v1h-1zM62 307h1v1h-1zM63 307h1v1h-1zM67 307h1v1h-1zM72 307h1v1h-1zM73 307h1v1h-1zM76 307h1v1h-1zM77 307h1v1h-1zM78 307h1v1h-1zM62 308h1v1h-1zM63 308h1v1h-1zM67 308h1v1h-1zM68 308h1v1h-1zM69 308h1v1h-1zM70 308h1v1h-1zM71 308h1v1h-1zM74 308h1v1h-1zM75 308h1v1h-1zM68 309h1v1h-1z" fill="#000" fill-opacity="0.2"/>
<path d="M72 299h1v1h-1zM73 299h1v1h-1zM74 299h1v1h-1zM75 299h1v1h-1zM69 300h1v1h-1zM77 300h1v1h-1zM78 300h1v1h-1zM65 301h1v1h-1zM68 301h1v1h-1zM78 301h1v1h-1zM66 302h1v1h-1zM79 302h1v1h-1zM66 303h1v1h-1zM79 303h1v1h-1zM66 304h1v1h-1zM79 304h1v1h-1zM65 305h1v1h-1zM66 305h1v1h-1zM67 305h1v1h-1zM79 305h1v1h-1zM67 306h1v1h-1zM68 306h1v1h-1zM69 306h1v1h-1zM70 306h1v1h-1zM76 306h1v1h-1zM77 306h1v1h-1zM78 306h1v1h-1zM68 307h1v1h-1zM69 307h1v1h-1zM70 307h1v1h-1zM71 307h1v1h-1zM74 307h1v1h-1zM75 307h1v1h-1z" fill="#000" fill-opacity="0.3"/>
<path d="M70 300h1v1h-1zM67 302h1v1h-1zM78 302h1v1h-1zM78 303h1v1h-1zM67 304h1v1h-1zM78 304h1v1h-1zM68 305h1v1h-1zM69 305h1v1h-1zM77 305h1v1h-1zM78 305h1v1h-1zM71 306h1v1h-1zM72 306h1v1h-1zM73 306h1v1h-1zM74 306h1v1h-1zM75 306h1v1h-1z" fill="#000" fill-opacity="0.4"/>
<path d="M71 300h1v1h-1zM72 300h1v1h-1zM73 300h1v1h-1zM74 300h1v1h-1zM75 300h1v1h-1zM76 300h1v1h-1zM69 301h1v1h-1zM77 301h1v1h-1zM68 302h1v1h-1zM67 303h1v1h-1zM68 304h1v1h-1zM69 304h1v1h-1zM77 304h1v1h-1zM70 305h1v1h-1zM76 305h1v1h-1z" fill="#000" fill-opacity="0.5"/>
<path d="M76 301h1v1h-1zM77 302h1v1h-1zM68 303h1v1h-1zM77 303h1v1h-1zM70 304h1v1h-1zM71 305h1v1h-1zM75 305h1v1h-1z" fill="#000" fill-opacity="0.6"/>
<path d="M70 301h1v1h-1zM71 301h1v1h-1zM74 301h1v1h-1zM75 301h1v1h-1zM69 302h1v1h-1zM76 302h1v1h-1zM69 303h1v1h-1zM70 303h1v1h-1zM71 304h1v1h-1zM72 304h1v1h-1zM76 304h1v1h-1zM72 305h1v1h-1zM73 305h1v1h-1zM74 305h1v1h-1z" fill="#000" fill-opacity="0.7"/>
<path d="M72 301h1v1h-1zM73 301h1v1h-1zM70 302h1v1h-1zM71 302h1v1h-1zM72 302h1v1h-1zM75 302h1v1h-1zM71 303h1v1h-1zM72 303h1v1h-1zM76 303h1v1h-1zM73 304h1v1h-1zM75 304h1v1h-1z" fill="#000" fill-opacity="0.8"/>
<path d="M73 302h1v1h-1zM74 302h1v1h-1zM73 303h1v1h-1zM74 303h1v1h-1zM75 303h1v1h-1zM74 304h1v1h-1z" fill="#000" fill-opacity="0.9"/>
<line x1="76.90" y1="272.00" x2="76.90" y2="346.00" stroke="#e5142f" stroke-width="1.35" />
<line x1="52.00" y1="317.50" x2="125.80" y2="317.50" stroke="#e5142f" stroke-width="1.35" />
<line x1="52.00" y1="272.00" x2="125.80" y2="272.00" stroke="#151535" stroke-width="1" />
<line x1="125.80" y1="272.00" x2="125.80" y2="346.00" stroke="#151535" stroke-width="1" />
<line x1="52.00" y1="344.70" x2="125.80" y2="344.70" stroke="#5a68a8" stroke-width="0.9" />
<line x1="53.20" y1="272.00" x2="53.20" y2="346.00" stroke="#000" stroke-width="1.2" />
<line x1="51.50" y1="345.70" x2="125.80" y2="345.70" stroke="#000" stroke-width="1.2" />
<path d="M49.10 344.90h3.4v1.2h-3.4zM52.30 346.00h1.2v2.8h-1.2zM49.10 341.29h3.4v1.2h-3.4zM55.91 346.00h1.2v2.8h-1.2zM49.10 339.17h3.4v1.2h-3.4zM58.03 346.00h1.2v2.8h-1.2zM49.10 337.68h3.4v1.2h-3.4zM59.52 346.00h1.2v2.8h-1.2zM49.10 336.51h3.4v1.2h-3.4zM60.69 346.00h1.2v2.8h-1.2zM49.10 335.56h3.4v1.2h-3.4zM61.64 346.00h1.2v2.8h-1.2zM49.10 334.76h3.4v1.2h-3.4zM62.44 346.00h1.2v2.8h-1.2zM49.10 334.06h3.4v1.2h-3.4zM63.14 346.00h1.2v2.8h-1.2zM49.10 333.45h3.4v1.2h-3.4zM63.75 346.00h1.2v2.8h-1.2zM49.10 332.90h3.4v1.2h-3.4zM64.30 346.00h1.2v2.8h-1.2zM49.10 329.29h3.4v1.2h-3.4zM67.91 346.00h1.2v2.8h-1.2zM49.10 327.17h3.4v1.2h-3.4zM70.03 346.00h1.2v2.8h-1.2zM49.10 325.68h3.4v1.2h-3.4zM71.52 346.00h1.2v2.8h-1.2zM49.10 324.51h3.4v1.2h-3.4zM72.69 346.00h1.2v2.8h-1.2zM49.10 323.56h3.4v1.2h-3.4zM73.64 346.00h1.2v2.8h-1.2zM49.10 322.76h3.4v1.2h-3.4zM74.44 346.00h1.2v2.8h-1.2zM49.10 322.06h3.4v1.2h-3.4zM75.14 346.00h1.2v2.8h-1.2zM49.10 321.45h3.4v1.2h-3.4zM75.75 346.00h1.2v2.8h-1.2zM49.10 320.90h3.4v1.2h-3.4zM76.30 346.00h1.2v2.8h-1.2zM49.10 317.29h3.4v1.2h-3.4zM79.91 346.00h1.2v2.8h-1.2zM49.10 315.17h3.4v1.2h-3.4zM82.03 346.00h1.2v2.8h-1.2zM49.10 313.68h3.4v1.2h-3.4zM83.52 346.00h1.2v2.8h-1.2zM49.10 312.51h3.4v1.2h-3.4zM84.69 346.00h1.2v2.8h-1.2zM49.10 311.56h3.4v1.2h-3.4zM85.64 346.00h1.2v2.8h-1.2zM49.10 310.76h3.4v1.2h-3.4zM86.44 346.00h1.2v2.8h-1.2zM49.10 310.06h3.4v1.2h-3.4zM87.14 346.00h1.2v2.8h-1.2zM49.10 309.45h3.4v1.2h-3.4zM87.75 346.00h1.2v2.8h-1.2zM49.10 308.90h3.4v1.2h-3.4zM88.30 346.00h1.2v2.8h-1.2zM49.10 305.29h3.4v1.2h-3.4zM91.91 346.00h1.2v2.8h-1.2zM49.10 303.17h3.4v1.2h-3.4zM94.03 346.00h1.2v2.8h-1.2zM49.10 301.68h3.4v1.2h-3.4zM95.52 346.00h1.2v2.8h-1.2zM49.10 300.51h3.4v1.2h-3.4zM96.69 346.00h1.2v2.8h-1.2zM49.10 299.56h3.4v1.2h-3.4zM97.64 346.00h1.2v2.8h-1.2zM49.10 298.76h3.4v1.2h-3.4zM98.44 346.00h1.2v2.8h-1.2zM49.10 298.06h3.4v1.2h-3.4zM99.14 346.00h1.2v2.8h-1.2zM49.10 297.45h3.4v1.2h-3.4zM99.75 346.00h1.2v2.8h-1.2zM49.10 296.90h3.4v1.2h-3.4zM100.30 346.00h1.2v2.8h-1.2zM49.10 293.29h3.4v1.2h-3.4zM103.91 346.00h1.2v2.8h-1.2zM49.10 291.17h3.4v1.2h-3.4zM106.03 346.00h1.2v2.8h-1.2zM49.10 289.68h3.4v1.2h-3.4zM107.52 346.00h1.2v2.8h-1.2zM49.10 288.51h3.4v1.2h-3.4zM108.69 346.00h1.2v2.8h-1.2zM49.10 287.56h3.4v1.2h-3.4zM109.64 346.00h1.2v2.8h-1.2zM49.10 286.76h3.4v1.2h-3.4zM110.44 346.00h1.2v2.8h-1.2zM49.10 286.06h3.4v1.2h-3.4zM111.14 346.00h1.2v2.8h-1.2zM49.10 285.45h3.4v1.2h-3.4zM111.75 346.00h1.2v2.8h-1.2zM49.10 284.90h3.4v1.2h-3.4zM112.30 346.00h1.2v2.8h-1.2zM49.10 281.29h3.4v1.2h-3.4zM115.91 346.00h1.2v2.8h-1.2zM49.10 279.17h3.4v1.2h-3.4zM118.03 346.00h1.2v2.8h-1.2zM49.10 277.68h3.4v1.2h-3.4zM119.52 346.00h1.2v2.8h-1.2zM49.10 276.51h3.4v1.2h-3.4zM120.69 346.00h1.2v2.8h-1.2zM49.10 275.56h3.4v1.2h-3.4zM121.64 346.00h1.2v2.8h-1.2zM49.10 274.76h3.4v1.2h-3.4zM122.44 346.00h1.2v2.8h-1.2zM49.10 274.06h3.4v1.2h-3.4zM123.14 346.00h1.2v2.8h-1.2zM49.10 273.45h3.4v1.2h-3.4zM123.75 346.00h1.2v2.8h-1.2zM49.10 272.90h3.4v1.2h-3.4zM124.30 346.00h1.2v2.8h-1.2z" fill="#000"/>
<text x="58.0" y="281.4" font-size="8.3" fill="#b8284e" stroke="#b8284e" stroke-width="0.15">94%</text>
<text x="123.7" y="281.4" font-size="8.3" fill="#b8284e" text-anchor="end" stroke="#b8284e" stroke-width="0.15">5%</text>
<text x="56.5" y="343.5" font-size="8.3" fill="#b8284e" stroke="#b8284e" stroke-width="0.15">0.8%</text>
<text x="124.2" y="343.5" font-size="8.3" fill="#b8284e" text-anchor="end" stroke="#b8284e" stroke-width="0.15">0.0%</text>
<text x="50.90" y="358.9" font-size="9.0" fill="#1a1a1a" text-anchor="middle" textLength="8.2" lengthAdjust="spacingAndGlyphs">10</text><text x="55.10" y="354.5" font-size="6.4" fill="#1a1a1a">1</text>
<text x="74.90" y="358.9" font-size="9.0" fill="#1a1a1a" text-anchor="middle" textLength="8.2" lengthAdjust="spacingAndGlyphs">10</text><text x="79.10" y="354.5" font-size="6.4" fill="#1a1a1a">3</text>
<text x="98.90" y="358.9" font-size="9.0" fill="#1a1a1a" text-anchor="middle" textLength="8.2" lengthAdjust="spacingAndGlyphs">10</text><text x="103.10" y="354.5" font-size="6.4" fill="#1a1a1a">5</text>
<text x="122.90" y="358.9" font-size="9.0" fill="#1a1a1a" text-anchor="middle" textLength="8.2" lengthAdjust="spacingAndGlyphs">10</text><text x="127.10" y="354.5" font-size="6.4" fill="#1a1a1a">7</text>
<text x="184.3" y="254.6" font-size="11.3" fill="#1a1a1a" text-anchor="middle" textLength="28.2" lengthAdjust="spacingAndGlyphs" >2 dod</text>
<text x="184.3" y="267.6" font-size="10.6" fill="#1a1a1a" text-anchor="middle" textLength="29.5" lengthAdjust="spacingAndGlyphs" >BASO</text>
<rect x="147.40" y="272.00" width="73.80" height="74.00" fill="#fff" />
<path d="M161 298h1v1h-1zM162 298h1v1h-1zM163 298h1v1h-1zM164 298h1v1h-1zM169 298h1v1h-1zM178 298h1v1h-1zM159 299h1v1h-1zM160 299h1v1h-1zM162 299h1v1h-1zM163 299h1v1h-1zM164 299h1v1h-1zM165 299h1v1h-1zM168 299h1v1h-1zM169 299h1v1h-1zM170 299h1v1h-1zM171 299h1v1h-1zM172 299h1v1h-1zM177 299h1v1h-1zM178 299h1v1h-1zM179 299h1v1h-1zM153 300h1v1h-1zM154 300h1v1h-1zM156 300h1v1h-1zM157 300h1v1h-1zM158 300h1v1h-1zM159 300h1v1h-1zM160 300h1v1h-1zM162 300h1v1h-1zM163 300h1v1h-1zM164 300h1v1h-1zM165 300h1v1h-1zM166 300h1v1h-1zM167 300h1v1h-1zM168 300h1v1h-1zM170 300h1v1h-1zM171 300h1v1h-1zM172 300h1v1h-1zM173 300h1v1h-1zM174 300h1v1h-1zM175 300h1v1h-1zM176 300h1v1h-1zM177 300h1v1h-1zM178 300h1v1h-1zM151 301h1v1h-1zM153 301h1v1h-1zM154 301h1v1h-1zM156 301h1v1h-1zM157 301h1v1h-1zM177 301h1v1h-1zM178 301h1v1h-1zM181 301h1v1h-1zM182 301h1v1h-1zM151 302h1v1h-1zM156 302h1v1h-1zM157 302h1v1h-1zM158 302h1v1h-1zM179 302h1v1h-1zM180 302h1v1h-1zM149 303h1v1h-1zM150 303h1v1h-1zM151 303h1v1h-1zM152 303h1v1h-1zM155 303h1v1h-1zM180 303h1v1h-1zM181 303h1v1h-1zM148 304h1v1h-1zM149 304h1v1h-1zM150 304h1v1h-1zM152 304h1v1h-1zM153 304h1v1h-1zM154 304h1v1h-1zM155 304h1v1h-1zM156 304h1v1h-1zM157 304h1v1h-1zM180 304h1v1h-1zM181 304h1v1h-1zM182 304h1v1h-1zM184 304h1v1h-1zM149 305h1v1h-1zM150 305h1v1h-1zM153 305h1v1h-1zM157 305h1v1h-1zM181 305h1v1h-1zM184 305h1v1h-1zM149 306h1v1h-1zM150 306h1v1h-1zM151 306h1v1h-1zM153 306h1v1h-1zM180 306h1v1h-1zM181 306h1v1h-1zM186 306h1v1h-1zM152 307h1v1h-1zM153 307h1v1h-1zM154 307h1v1h-1zM155 307h1v1h-1zM178 307h1v1h-1zM179 307h1v1h-1zM180 307h1v1h-1zM181 307h1v1h-1zM182 307h1v1h-1zM183 307h1v1h-1zM153 308h1v1h-1zM154 308h1v1h-1zM155 308h1v1h-1zM156 308h1v1h-1zM157 308h1v1h-1zM158 308h1v1h-1zM159 308h1v1h-1zM160 308h1v1h-1zM177 308h1v1h-1zM178 308h1v1h-1zM179 308h1v1h-1zM180 308h1v1h-1zM181 308h1v1h-1zM182 308h1v1h-1zM183 308h1v1h-1zM152 309h1v1h-1zM153 309h1v1h-1zM155 309h1v1h-1zM156 309h1v1h-1zM157 309h1v1h-1zM158 309h1v1h-1zM159 309h1v1h-1zM160 309h1v1h-1zM161 309h1v1h-1zM175 309h1v1h-1zM176 309h1v1h-1zM177 309h1v1h-1zM178 309h1v1h-1zM179 309h1v1h-1zM180 309h1v1h-1zM181 309h1v1h-1zM182 309h1v1h-1zM152 310h1v1h-1zM156 310h1v1h-1zM158 310h1v1h-1zM159 310h1v1h-1zM161 310h1v1h-1zM164 310h1v1h-1zM169 310h1v1h-1zM170 310h1v1h-1zM173 310h1v1h-1zM174 310h1v1h-1zM175 310h1v1h-1zM179 310h1v1h-1zM180 310h1v1h-1zM161 311h1v1h-1zM162 311h1v1h-1zM163 311h1v1h-1zM164 311h1v1h-1zM165 311h1v1h-1zM166 311h1v1h-1zM167 311h1v1h-1zM168 311h1v1h-1zM169 311h1v1h-1zM170 311h1v1h-1zM171 311h1v1h-1zM172 311h1v1h-1zM173 311h1v1h-1zM174 311h1v1h-1zM161 312h1v1h-1zM162 312h1v1h-1zM167 312h1v1h-1zM168 312h1v1h-1zM169 312h1v1h-1zM170 312h1v1h-1zM174 312h1v1h-1zM168 313h1v1h-1zM169 313h1v1h-1zM168 318h1v1h-1z" fill="#000" fill-opacity="0.1"/>
<path d="M169 300h1v1h-1zM158 301h1v1h-1zM159 301h1v1h-1zM160 301h1v1h-1zM161 301h1v1h-1zM162 301h1v1h-1zM163 301h1v1h-1zM164 301h1v1h-1zM165 301h1v1h-1zM170 301h1v1h-1zM173 301h1v1h-1zM174 301h1v1h-1zM175 301h1v1h-1zM176 301h1v1h-1zM159 302h1v1h-1zM176 302h1v1h-1zM177 302h1v1h-1zM178 302h1v1h-1zM156 303h1v1h-1zM157 303h1v1h-1zM158 303h1v1h-1zM159 303h1v1h-1zM177 303h1v1h-1zM178 303h1v1h-1zM179 303h1v1h-1zM158 304h1v1h-1zM159 304h1v1h-1zM178 304h1v1h-1zM179 304h1v1h-1zM154 305h1v1h-1zM155 305h1v1h-1zM156 305h1v1h-1zM158 305h1v1h-1zM159 305h1v1h-1zM180 305h1v1h-1zM154 306h1v1h-1zM155 306h1v1h-1zM156 306h1v1h-1zM157 306h1v1h-1zM160 306h1v1h-1zM178 306h1v1h-1zM179 306h1v1h-1zM156 307h1v1h-1zM157 307h1v1h-1zM158 307h1v1h-1zM159 307h1v1h-1zM160 307h1v1h-1zM177 307h1v1h-1zM161 308h1v1h-1zM175 308h1v1h-1zM176 308h1v1h-1zM162 309h1v1h-1zM163 309h1v1h-1zM164 309h1v1h-1zM165 309h1v1h-1zM169 309h1v1h-1zM170 309h1v1h-1zM171 309h1v1h-1zM172 309h1v1h-1zM173 309h1v1h-1zM174 309h1v1h-1zM162 310h1v1h-1zM163 310h1v1h-1zM165 310h1v1h-1zM166 310h1v1h-1zM167 310h1v1h-1zM168 310h1v1h-1zM171 310h1v1h-1zM172 310h1v1h-1z" fill="#000" fill-opacity="0.2"/>
<path d="M166 301h1v1h-1zM167 301h1v1h-1zM168 301h1v1h-1zM169 301h1v1h-1zM171 301h1v1h-1zM172 301h1v1h-1zM160 302h1v1h-1zM161 302h1v1h-1zM162 302h1v1h-1zM163 302h1v1h-1zM174 302h1v1h-1zM175 302h1v1h-1zM160 303h1v1h-1zM161 303h1v1h-1zM176 303h1v1h-1zM160 304h1v1h-1zM176 304h1v1h-1zM177 304h1v1h-1zM160 305h1v1h-1zM178 305h1v1h-1zM179 305h1v1h-1zM158 306h1v1h-1zM159 306h1v1h-1zM161 306h1v1h-1zM176 306h1v1h-1zM177 306h1v1h-1zM161 307h1v1h-1zM176 307h1v1h-1zM162 308h1v1h-1zM163 308h1v1h-1zM164 308h1v1h-1zM165 308h1v1h-1zM173 308h1v1h-1zM174 308h1v1h-1zM166 309h1v1h-1zM167 309h1v1h-1zM168 309h1v1h-1z" fill="#000" fill-opacity="0.3"/>
<path d="M164 302h1v1h-1zM165 302h1v1h-1zM166 302h1v1h-1zM167 302h1v1h-1zM171 302h1v1h-1zM173 302h1v1h-1zM162 303h1v1h-1zM163 303h1v1h-1zM174 303h1v1h-1zM175 303h1v1h-1zM161 304h1v1h-1zM162 304h1v1h-1zM161 305h1v1h-1zM162 305h1v1h-1zM175 305h1v1h-1zM176 305h1v1h-1zM177 305h1v1h-1zM162 306h1v1h-1zM175 306h1v1h-1zM162 307h1v1h-1zM163 307h1v1h-1zM173 307h1v1h-1zM174 307h1v1h-1zM175 307h1v1h-1zM166 308h1v1h-1zM167 308h1v1h-1zM168 308h1v1h-1zM169 308h1v1h-1zM170 308h1v1h-1zM171 308h1v1h-1zM172 308h1v1h-1z" fill="#000" fill-opacity="0.4"/>
<path d="M168 302h1v1h-1zM169 302h1v1h-1zM170 302h1v1h-1zM172 302h1v1h-1zM164 303h1v1h-1zM165 303h1v1h-1zM173 303h1v1h-1zM163 304h1v1h-1zM164 304h1v1h-1zM175 304h1v1h-1zM163 305h1v1h-1zM163 306h1v1h-1zM174 306h1v1h-1zM164 307h1v1h-1zM165 307h1v1h-1zM168 307h1v1h-1zM172 307h1v1h-1z" fill="#000" fill-opacity="0.5"/>
<path d="M166 303h1v1h-1zM165 304h1v1h-1zM173 304h1v1h-1zM174 304h1v1h-1zM164 305h1v1h-1zM174 305h1v1h-1zM164 306h1v1h-1zM172 306h1v1h-1zM173 306h1v1h-1zM166 307h1v1h-1zM167 307h1v1h-1zM169 307h1v1h-1zM170 307h1v1h-1zM171 307h1v1h-1z" fill="#000" fill-opacity="0.6"/>
<path d="M167 303h1v1h-1zM168 303h1v1h-1zM169 303h1v1h-1zM170 303h1v1h-1zM171 303h1v1h-1zM172 303h1v1h-1zM166 304h1v1h-1zM172 304h1v1h-1zM165 305h1v1h-1zM166 305h1v1h-1zM172 305h1v1h-1zM173 305h1v1h-1zM165 306h1v1h-1zM166 306h1v1h-1zM167 306h1v1h-1zM168 306h1v1h-1zM169 306h1v1h-1zM171 306h1v1h-1z" fill="#000" fill-opacity="0.7"/>
<path d="M167 304h1v1h-1zM168 304h1v1h-1zM169 304h1v1h-1zM170 304h1v1h-1zM171 304h1v1h-1zM167 305h1v1h-1zM168 305h1v1h-1zM171 305h1v1h-1zM170 306h1v1h-1z" fill="#000" fill-opacity="0.8"/>
<path d="M169 305h1v1h-1zM170 305h1v1h-1z" fill="#000" fill-opacity="0.9"/>
<line x1="171.90" y1="272.00" x2="171.90" y2="346.00" stroke="#e5142f" stroke-width="1.35" />
<line x1="147.40" y1="316.70" x2="221.20" y2="316.70" stroke="#e5142f" stroke-width="1.35" />
<line x1="147.40" y1="272.00" x2="221.20" y2="272.00" stroke="#151535" stroke-width="1" />
<line x1="221.20" y1="272.00" x2="221.20" y2="346.00" stroke="#151535" stroke-width="1" />
<line x1="147.40" y1="344.70" x2="221.20" y2="344.70" stroke="#5a68a8" stroke-width="0.9" />
<line x1="148.60" y1="272.00" x2="148.60" y2="346.00" stroke="#000" stroke-width="1.2" />
<line x1="146.90" y1="345.70" x2="221.20" y2="345.70" stroke="#000" stroke-width="1.2" />
<path d="M144.50 344.90h3.4v1.2h-3.4zM147.70 346.00h1.2v2.8h-1.2zM144.50 341.29h3.4v1.2h-3.4zM151.31 346.00h1.2v2.8h-1.2zM144.50 339.17h3.4v1.2h-3.4zM153.43 346.00h1.2v2.8h-1.2zM144.50 337.68h3.4v1.2h-3.4zM154.92 346.00h1.2v2.8h-1.2zM144.50 336.51h3.4v1.2h-3.4zM156.09 346.00h1.2v2.8h-1.2zM144.50 335.56h3.4v1.2h-3.4zM157.04 346.00h1.2v2.8h-1.2zM144.50 334.76h3.4v1.2h-3.4zM157.84 346.00h1.2v2.8h-1.2zM144.50 334.06h3.4v1.2h-3.4zM158.54 346.00h1.2v2.8h-1.2zM144.50 333.45h3.4v1.2h-3.4zM159.15 346.00h1.2v2.8h-1.2zM144.50 332.90h3.4v1.2h-3.4zM159.70 346.00h1.2v2.8h-1.2zM144.50 329.29h3.4v1.2h-3.4zM163.31 346.00h1.2v2.8h-1.2zM144.50 327.17h3.4v1.2h-3.4zM165.43 346.00h1.2v2.8h-1.2zM144.50 325.68h3.4v1.2h-3.4zM166.92 346.00h1.2v2.8h-1.2zM144.50 324.51h3.4v1.2h-3.4zM168.09 346.00h1.2v2.8h-1.2zM144.50 323.56h3.4v1.2h-3.4zM169.04 346.00h1.2v2.8h-1.2zM144.50 322.76h3.4v1.2h-3.4zM169.84 346.00h1.2v2.8h-1.2zM144.50 322.06h3.4v1.2h-3.4zM170.54 346.00h1.2v2.8h-1.2zM144.50 321.45h3.4v1.2h-3.4zM171.15 346.00h1.2v2.8h-1.2zM144.50 320.90h3.4v1.2h-3.4zM171.70 346.00h1.2v2.8h-1.2zM144.50 317.29h3.4v1.2h-3.4zM175.31 346.00h1.2v2.8h-1.2zM144.50 315.17h3.4v1.2h-3.4zM177.43 346.00h1.2v2.8h-1.2zM144.50 313.68h3.4v1.2h-3.4zM178.92 346.00h1.2v2.8h-1.2zM144.50 312.51h3.4v1.2h-3.4zM180.09 346.00h1.2v2.8h-1.2zM144.50 311.56h3.4v1.2h-3.4zM181.04 346.00h1.2v2.8h-1.2zM144.50 310.76h3.4v1.2h-3.4zM181.84 346.00h1.2v2.8h-1.2zM144.50 310.06h3.4v1.2h-3.4zM182.54 346.00h1.2v2.8h-1.2zM144.50 309.45h3.4v1.2h-3.4zM183.15 346.00h1.2v2.8h-1.2zM144.50 308.90h3.4v1.2h-3.4zM183.70 346.00h1.2v2.8h-1.2zM144.50 305.29h3.4v1.2h-3.4zM187.31 346.00h1.2v2.8h-1.2zM144.50 303.17h3.4v1.2h-3.4zM189.43 346.00h1.2v2.8h-1.2zM144.50 301.68h3.4v1.2h-3.4zM190.92 346.00h1.2v2.8h-1.2zM144.50 300.51h3.4v1.2h-3.4zM192.09 346.00h1.2v2.8h-1.2zM144.50 299.56h3.4v1.2h-3.4zM193.04 346.00h1.2v2.8h-1.2zM144.50 298.76h3.4v1.2h-3.4zM193.84 346.00h1.2v2.8h-1.2zM144.50 298.06h3.4v1.2h-3.4zM194.54 346.00h1.2v2.8h-1.2zM144.50 297.45h3.4v1.2h-3.4zM195.15 346.00h1.2v2.8h-1.2zM144.50 296.90h3.4v1.2h-3.4zM195.70 346.00h1.2v2.8h-1.2zM144.50 293.29h3.4v1.2h-3.4zM199.31 346.00h1.2v2.8h-1.2zM144.50 291.17h3.4v1.2h-3.4zM201.43 346.00h1.2v2.8h-1.2zM144.50 289.68h3.4v1.2h-3.4zM202.92 346.00h1.2v2.8h-1.2zM144.50 288.51h3.4v1.2h-3.4zM204.09 346.00h1.2v2.8h-1.2zM144.50 287.56h3.4v1.2h-3.4zM205.04 346.00h1.2v2.8h-1.2zM144.50 286.76h3.4v1.2h-3.4zM205.84 346.00h1.2v2.8h-1.2zM144.50 286.06h3.4v1.2h-3.4zM206.54 346.00h1.2v2.8h-1.2zM144.50 285.45h3.4v1.2h-3.4zM207.15 346.00h1.2v2.8h-1.2zM144.50 284.90h3.4v1.2h-3.4zM207.70 346.00h1.2v2.8h-1.2zM144.50 281.29h3.4v1.2h-3.4zM211.31 346.00h1.2v2.8h-1.2zM144.50 279.17h3.4v1.2h-3.4zM213.43 346.00h1.2v2.8h-1.2zM144.50 277.68h3.4v1.2h-3.4zM214.92 346.00h1.2v2.8h-1.2zM144.50 276.51h3.4v1.2h-3.4zM216.09 346.00h1.2v2.8h-1.2zM144.50 275.56h3.4v1.2h-3.4zM217.04 346.00h1.2v2.8h-1.2zM144.50 274.76h3.4v1.2h-3.4zM217.84 346.00h1.2v2.8h-1.2zM144.50 274.06h3.4v1.2h-3.4zM218.54 346.00h1.2v2.8h-1.2zM144.50 273.45h3.4v1.2h-3.4zM219.15 346.00h1.2v2.8h-1.2zM144.50 272.90h3.4v1.2h-3.4zM219.70 346.00h1.2v2.8h-1.2z" fill="#000"/>
<text x="150.5" y="281.4" font-size="8.3" fill="#b8284e" stroke="#b8284e" stroke-width="0.15">77%</text>
<text x="216.0" y="281.4" font-size="8.3" fill="#b8284e" text-anchor="end" stroke="#b8284e" stroke-width="0.15">21%</text>
<text x="150.2" y="343.5" font-size="8.3" fill="#b8284e" stroke="#b8284e" stroke-width="0.15">1.2%</text>
<text x="217.8" y="343.5" font-size="8.3" fill="#b8284e" text-anchor="end" stroke="#b8284e" stroke-width="0.15">0.2%</text>
<text x="148.3" y="358.9" font-size="9.0" fill="#1a1a1a" text-anchor="middle" >1</text>
<text x="170.30" y="358.9" font-size="9.0" fill="#1a1a1a" text-anchor="middle" textLength="8.2" lengthAdjust="spacingAndGlyphs">10</text><text x="174.50" y="354.5" font-size="6.4" fill="#1a1a1a">3</text>
<text x="194.30" y="358.9" font-size="9.0" fill="#1a1a1a" text-anchor="middle" textLength="8.2" lengthAdjust="spacingAndGlyphs">10</text><text x="198.50" y="354.5" font-size="6.4" fill="#1a1a1a">5</text>
<text x="218.30" y="358.9" font-size="9.0" fill="#1a1a1a" text-anchor="middle" textLength="8.2" lengthAdjust="spacingAndGlyphs">10</text><text x="222.50" y="354.5" font-size="6.4" fill="#1a1a1a">7</text>
<text x="279.8" y="254.6" font-size="11.3" fill="#1a1a1a" text-anchor="middle" textLength="28.2" lengthAdjust="spacingAndGlyphs" >4 dod</text>
<text x="279.8" y="267.6" font-size="10.6" fill="#1a1a1a" text-anchor="middle" textLength="27.5" lengthAdjust="spacingAndGlyphs" >POLY</text>
<rect x="242.90" y="272.00" width="73.80" height="74.00" fill="#fff" />
<path d="M259 298h1v1h-1zM259 299h1v1h-1zM259 300h1v1h-1zM260 300h1v1h-1zM261 300h1v1h-1zM262 300h1v1h-1zM263 300h1v1h-1zM253 301h1v1h-1zM254 301h1v1h-1zM258 301h1v1h-1zM259 301h1v1h-1zM260 301h1v1h-1zM261 301h1v1h-1zM262 301h1v1h-1zM263 301h1v1h-1zM265 301h1v1h-1zM266 301h1v1h-1zM267 301h1v1h-1zM268 301h1v1h-1zM269 301h1v1h-1zM252 302h1v1h-1zM253 302h1v1h-1zM254 302h1v1h-1zM257 302h1v1h-1zM258 302h1v1h-1zM259 302h1v1h-1zM260 302h1v1h-1zM261 302h1v1h-1zM262 302h1v1h-1zM263 302h1v1h-1zM264 302h1v1h-1zM265 302h1v1h-1zM267 302h1v1h-1zM272 302h1v1h-1zM273 302h1v1h-1zM274 302h1v1h-1zM275 302h1v1h-1zM276 302h1v1h-1zM277 302h1v1h-1zM278 302h1v1h-1zM252 303h1v1h-1zM253 303h1v1h-1zM257 303h1v1h-1zM259 303h1v1h-1zM260 303h1v1h-1zM261 303h1v1h-1zM262 303h1v1h-1zM274 303h1v1h-1zM275 303h1v1h-1zM276 303h1v1h-1zM252 304h1v1h-1zM257 304h1v1h-1zM259 304h1v1h-1zM260 304h1v1h-1zM275 304h1v1h-1zM276 304h1v1h-1zM277 304h1v1h-1zM278 304h1v1h-1zM254 305h1v1h-1zM255 305h1v1h-1zM256 305h1v1h-1zM257 305h1v1h-1zM277 305h1v1h-1zM278 305h1v1h-1zM279 305h1v1h-1zM280 305h1v1h-1zM281 305h1v1h-1zM253 306h1v1h-1zM254 306h1v1h-1zM255 306h1v1h-1zM256 306h1v1h-1zM279 306h1v1h-1zM280 306h1v1h-1zM281 306h1v1h-1zM252 307h1v1h-1zM253 307h1v1h-1zM254 307h1v1h-1zM280 307h1v1h-1zM281 307h1v1h-1zM282 307h1v1h-1zM283 307h1v1h-1zM250 308h1v1h-1zM251 308h1v1h-1zM252 308h1v1h-1zM253 308h1v1h-1zM254 308h1v1h-1zM280 308h1v1h-1zM281 308h1v1h-1zM282 308h1v1h-1zM283 308h1v1h-1zM251 309h1v1h-1zM252 309h1v1h-1zM253 309h1v1h-1zM254 309h1v1h-1zM280 309h1v1h-1zM282 309h1v1h-1zM283 309h1v1h-1zM253 310h1v1h-1zM254 310h1v1h-1zM255 310h1v1h-1zM279 310h1v1h-1zM280 310h1v1h-1zM283 310h1v1h-1zM251 311h1v1h-1zM253 311h1v1h-1zM254 311h1v1h-1zM255 311h1v1h-1zM278 311h1v1h-1zM279 311h1v1h-1zM280 311h1v1h-1zM283 311h1v1h-1zM284 311h1v1h-1zM251 312h1v1h-1zM252 312h1v1h-1zM253 312h1v1h-1zM254 312h1v1h-1zM255 312h1v1h-1zM277 312h1v1h-1zM278 312h1v1h-1zM279 312h1v1h-1zM280 312h1v1h-1zM284 312h1v1h-1zM251 313h1v1h-1zM252 313h1v1h-1zM253 313h1v1h-1zM254 313h1v1h-1zM257 313h1v1h-1zM258 313h1v1h-1zM259 313h1v1h-1zM274 313h1v1h-1zM275 313h1v1h-1zM276 313h1v1h-1zM277 313h1v1h-1zM278 313h1v1h-1zM279 313h1v1h-1zM284 313h1v1h-1zM251 314h1v1h-1zM252 314h1v1h-1zM253 314h1v1h-1zM258 314h1v1h-1zM259 314h1v1h-1zM260 314h1v1h-1zM274 314h1v1h-1zM275 314h1v1h-1zM276 314h1v1h-1zM277 314h1v1h-1zM278 314h1v1h-1zM279 314h1v1h-1zM252 315h1v1h-1zM256 315h1v1h-1zM257 315h1v1h-1zM258 315h1v1h-1zM259 315h1v1h-1zM260 315h1v1h-1zM270 315h1v1h-1zM274 315h1v1h-1zM275 315h1v1h-1zM276 315h1v1h-1zM277 315h1v1h-1zM278 315h1v1h-1zM279 315h1v1h-1zM257 316h1v1h-1zM258 316h1v1h-1zM259 316h1v1h-1zM260 316h1v1h-1zM261 316h1v1h-1zM262 316h1v1h-1zM263 316h1v1h-1zM267 316h1v1h-1zM268 316h1v1h-1zM269 316h1v1h-1zM270 316h1v1h-1zM271 316h1v1h-1zM272 316h1v1h-1zM273 316h1v1h-1zM274 316h1v1h-1zM275 316h1v1h-1zM278 316h1v1h-1zM279 316h1v1h-1zM259 317h1v1h-1zM260 317h1v1h-1zM261 317h1v1h-1zM263 317h1v1h-1zM264 317h1v1h-1zM267 317h1v1h-1zM268 317h1v1h-1zM269 317h1v1h-1zM270 317h1v1h-1zM272 317h1v1h-1zM273 317h1v1h-1zM259 318h1v1h-1zM261 318h1v1h-1zM262 318h1v1h-1zM263 318h1v1h-1zM264 318h1v1h-1zM265 318h1v1h-1zM266 318h1v1h-1zM267 318h1v1h-1zM268 318h1v1h-1zM257 319h1v1h-1zM258 319h1v1h-1zM259 319h1v1h-1zM260 319h1v1h-1zM261 319h1v1h-1zM263 319h1v1h-1zM264 319h1v1h-1zM265 319h1v1h-1zM266 319h1v1h-1zM267 319h1v1h-1zM270 319h1v1h-1zM264 320h1v1h-1zM265 320h1v1h-1zM266 320h1v1h-1zM267 320h1v1h-1zM270 320h1v1h-1zM271 320h1v1h-1zM265 321h1v1h-1zM266 321h1v1h-1zM267 321h1v1h-1zM268 321h1v1h-1zM269 321h1v1h-1zM270 321h1v1h-1zM261 322h1v1h-1zM262 322h1v1h-1zM264 322h1v1h-1zM265 322h1v1h-1zM266 322h1v1h-1zM257 323h1v1h-1zM258 323h1v1h-1zM261 323h1v1h-1zM265 323h1v1h-1zM266 323h1v1h-1zM267 323h1v1h-1zM257 324h1v1h-1zM258 324h1v1h-1zM261 324h1v1h-1zM266 324h1v1h-1zM251 325h1v1h-1zM257 325h1v1h-1zM258 325h1v1h-1zM267 325h1v1h-1zM258 326h1v1h-1zM258 327h1v1h-1zM259 327h1v1h-1zM260 327h1v1h-1zM262 327h1v1h-1zM263 327h1v1h-1zM264 327h1v1h-1zM268 327h1v1h-1zM259 328h1v1h-1zM262 328h1v1h-1zM263 328h1v1h-1zM261 329h1v1h-1zM261 330h1v1h-1zM261 331h1v1h-1zM262 331h1v1h-1zM263 333h1v1h-1zM264 333h1v1h-1zM259 334h1v1h-1z" fill="#000" fill-opacity="0.1"/>
<path d="M266 302h1v1h-1zM268 302h1v1h-1zM269 302h1v1h-1zM270 302h1v1h-1zM271 302h1v1h-1zM258 303h1v1h-1zM263 303h1v1h-1zM264 303h1v1h-1zM265 303h1v1h-1zM266 303h1v1h-1zM273 303h1v1h-1zM258 304h1v1h-1zM261 304h1v1h-1zM262 304h1v1h-1zM263 304h1v1h-1zM274 304h1v1h-1zM258 305h1v1h-1zM259 305h1v1h-1zM260 305h1v1h-1zM261 305h1v1h-1zM276 305h1v1h-1zM257 306h1v1h-1zM258 306h1v1h-1zM259 306h1v1h-1zM277 306h1v1h-1zM278 306h1v1h-1zM255 307h1v1h-1zM256 307h1v1h-1zM257 307h1v1h-1zM258 307h1v1h-1zM279 307h1v1h-1zM255 308h1v1h-1zM256 308h1v1h-1zM257 308h1v1h-1zM258 308h1v1h-1zM259 308h1v1h-1zM278 308h1v1h-1zM279 308h1v1h-1zM255 309h1v1h-1zM256 309h1v1h-1zM257 309h1v1h-1zM258 309h1v1h-1zM279 309h1v1h-1zM256 310h1v1h-1zM257 310h1v1h-1zM278 310h1v1h-1zM256 311h1v1h-1zM257 311h1v1h-1zM277 311h1v1h-1zM256 312h1v1h-1zM257 312h1v1h-1zM258 312h1v1h-1zM259 312h1v1h-1zM260 312h1v1h-1zM274 312h1v1h-1zM276 312h1v1h-1zM260 313h1v1h-1zM261 313h1v1h-1zM262 313h1v1h-1zM263 313h1v1h-1zM268 313h1v1h-1zM269 313h1v1h-1zM273 313h1v1h-1zM261 314h1v1h-1zM262 314h1v1h-1zM263 314h1v1h-1zM264 314h1v1h-1zM265 314h1v1h-1zM266 314h1v1h-1zM267 314h1v1h-1zM268 314h1v1h-1zM269 314h1v1h-1zM270 314h1v1h-1zM271 314h1v1h-1zM272 314h1v1h-1zM273 314h1v1h-1zM261 315h1v1h-1zM262 315h1v1h-1zM263 315h1v1h-1zM264 315h1v1h-1zM265 315h1v1h-1zM266 315h1v1h-1zM267 315h1v1h-1zM268 315h1v1h-1zM269 315h1v1h-1zM271 315h1v1h-1zM272 315h1v1h-1zM273 315h1v1h-1zM264 316h1v1h-1zM265 316h1v1h-1zM266 316h1v1h-1zM265 317h1v1h-1zM266 317h1v1h-1zM260 318h1v1h-1z" fill="#000" fill-opacity="0.2"/>
<path d="M267 303h1v1h-1zM268 303h1v1h-1zM269 303h1v1h-1zM270 303h1v1h-1zM271 303h1v1h-1zM272 303h1v1h-1zM264 304h1v1h-1zM265 304h1v1h-1zM266 304h1v1h-1zM273 304h1v1h-1zM262 305h1v1h-1zM263 305h1v1h-1zM264 305h1v1h-1zM275 305h1v1h-1zM260 306h1v1h-1zM261 306h1v1h-1zM259 307h1v1h-1zM260 307h1v1h-1zM261 307h1v1h-1zM277 307h1v1h-1zM278 307h1v1h-1zM260 308h1v1h-1zM261 308h1v1h-1zM277 308h1v1h-1zM259 309h1v1h-1zM261 309h1v1h-1zM262 309h1v1h-1zM278 309h1v1h-1zM258 310h1v1h-1zM259 310h1v1h-1zM260 310h1v1h-1zM261 310h1v1h-1zM262 310h1v1h-1zM263 310h1v1h-1zM264 310h1v1h-1zM277 310h1v1h-1zM258 311h1v1h-1zM259 311h1v1h-1zM260 311h1v1h-1zM261 311h1v1h-1zM263 311h1v1h-1zM264 311h1v1h-1zM265 311h1v1h-1zM276 311h1v1h-1zM261 312h1v1h-1zM262 312h1v1h-1zM263 312h1v1h-1zM264 312h1v1h-1zM268 312h1v1h-1zM269 312h1v1h-1zM273 312h1v1h-1zM275 312h1v1h-1zM264 313h1v1h-1zM265 313h1v1h-1zM266 313h1v1h-1zM267 313h1v1h-1zM270 313h1v1h-1zM271 313h1v1h-1zM272 313h1v1h-1z" fill="#000" fill-opacity="0.3"/>
<path d="M267 304h1v1h-1zM268 304h1v1h-1zM272 304h1v1h-1zM265 305h1v1h-1zM274 305h1v1h-1zM262 306h1v1h-1zM263 306h1v1h-1zM264 306h1v1h-1zM276 306h1v1h-1zM262 307h1v1h-1zM263 307h1v1h-1zM276 307h1v1h-1zM262 308h1v1h-1zM263 308h1v1h-1zM276 308h1v1h-1zM260 309h1v1h-1zM263 309h1v1h-1zM264 309h1v1h-1zM276 309h1v1h-1zM277 309h1v1h-1zM265 310h1v1h-1zM276 310h1v1h-1zM262 311h1v1h-1zM266 311h1v1h-1zM267 311h1v1h-1zM268 311h1v1h-1zM275 311h1v1h-1zM265 312h1v1h-1zM266 312h1v1h-1zM267 312h1v1h-1zM270 312h1v1h-1zM271 312h1v1h-1zM272 312h1v1h-1z" fill="#000" fill-opacity="0.4"/>
<path d="M269 304h1v1h-1zM270 304h1v1h-1zM271 304h1v1h-1zM266 305h1v1h-1zM267 305h1v1h-1zM273 305h1v1h-1zM265 306h1v1h-1zM275 306h1v1h-1zM264 307h1v1h-1zM264 308h1v1h-1zM265 309h1v1h-1zM275 309h1v1h-1zM266 310h1v1h-1zM267 310h1v1h-1zM268 310h1v1h-1zM275 310h1v1h-1zM269 311h1v1h-1zM270 311h1v1h-1zM271 311h1v1h-1zM272 311h1v1h-1zM273 311h1v1h-1zM274 311h1v1h-1z" fill="#000" fill-opacity="0.5"/>
<path d="M268 305h1v1h-1zM271 305h1v1h-1zM272 305h1v1h-1zM266 306h1v1h-1zM267 306h1v1h-1zM274 306h1v1h-1zM265 307h1v1h-1zM274 307h1v1h-1zM275 307h1v1h-1zM265 308h1v1h-1zM274 308h1v1h-1zM275 308h1v1h-1zM266 309h1v1h-1zM267 309h1v1h-1zM268 309h1v1h-1zM273 310h1v1h-1zM274 310h1v1h-1z" fill="#000" fill-opacity="0.6"/>
<path d="M269 305h1v1h-1zM270 305h1v1h-1zM268 306h1v1h-1zM272 306h1v1h-1zM273 306h1v1h-1zM266 307h1v1h-1zM267 307h1v1h-1zM273 307h1v1h-1zM266 308h1v1h-1zM267 308h1v1h-1zM268 308h1v1h-1zM273 308h1v1h-1zM274 309h1v1h-1zM269 310h1v1h-1zM271 310h1v1h-1zM272 310h1v1h-1z" fill="#000" fill-opacity="0.7"/>
<path d="M269 306h1v1h-1zM270 306h1v1h-1zM271 306h1v1h-1zM268 307h1v1h-1zM269 307h1v1h-1zM270 307h1v1h-1zM271 307h1v1h-1zM272 307h1v1h-1zM269 308h1v1h-1zM270 308h1v1h-1zM271 308h1v1h-1zM272 308h1v1h-1zM269 309h1v1h-1zM271 309h1v1h-1zM272 309h1v1h-1zM273 309h1v1h-1zM270 310h1v1h-1z" fill="#000" fill-opacity="0.8"/>
<path d="M270 309h1v1h-1z" fill="#000" fill-opacity="0.9"/>
<line x1="266.80" y1="272.00" x2="266.80" y2="346.00" stroke="#e5142f" stroke-width="1.35" />
<line x1="242.90" y1="317.20" x2="316.70" y2="317.20" stroke="#e5142f" stroke-width="1.35" />
<line x1="242.90" y1="272.00" x2="316.70" y2="272.00" stroke="#151535" stroke-width="1" />
<line x1="316.70" y1="272.00" x2="316.70" y2="346.00" stroke="#151535" stroke-width="1" />
<line x1="242.90" y1="344.70" x2="316.70" y2="344.70" stroke="#5a68a8" stroke-width="0.9" />
<line x1="244.10" y1="272.00" x2="244.10" y2="346.00" stroke="#000" stroke-width="1.2" />
<line x1="242.40" y1="345.70" x2="316.70" y2="345.70" stroke="#000" stroke-width="1.2" />
<path d="M240.00 344.90h3.4v1.2h-3.4zM243.20 346.00h1.2v2.8h-1.2zM240.00 341.29h3.4v1.2h-3.4zM246.81 346.00h1.2v2.8h-1.2zM240.00 339.17h3.4v1.2h-3.4zM248.93 346.00h1.2v2.8h-1.2zM240.00 337.68h3.4v1.2h-3.4zM250.42 346.00h1.2v2.8h-1.2zM240.00 336.51h3.4v1.2h-3.4zM251.59 346.00h1.2v2.8h-1.2zM240.00 335.56h3.4v1.2h-3.4zM252.54 346.00h1.2v2.8h-1.2zM240.00 334.76h3.4v1.2h-3.4zM253.34 346.00h1.2v2.8h-1.2zM240.00 334.06h3.4v1.2h-3.4zM254.04 346.00h1.2v2.8h-1.2zM240.00 333.45h3.4v1.2h-3.4zM254.65 346.00h1.2v2.8h-1.2zM240.00 332.90h3.4v1.2h-3.4zM255.20 346.00h1.2v2.8h-1.2zM240.00 329.29h3.4v1.2h-3.4zM258.81 346.00h1.2v2.8h-1.2zM240.00 327.17h3.4v1.2h-3.4zM260.93 346.00h1.2v2.8h-1.2zM240.00 325.68h3.4v1.2h-3.4zM262.42 346.00h1.2v2.8h-1.2zM240.00 324.51h3.4v1.2h-3.4zM263.59 346.00h1.2v2.8h-1.2zM240.00 323.56h3.4v1.2h-3.4zM264.54 346.00h1.2v2.8h-1.2zM240.00 322.76h3.4v1.2h-3.4zM265.34 346.00h1.2v2.8h-1.2zM240.00 322.06h3.4v1.2h-3.4zM266.04 346.00h1.2v2.8h-1.2zM240.00 321.45h3.4v1.2h-3.4zM266.65 346.00h1.2v2.8h-1.2zM240.00 320.90h3.4v1.2h-3.4zM267.20 346.00h1.2v2.8h-1.2zM240.00 317.29h3.4v1.2h-3.4zM270.81 346.00h1.2v2.8h-1.2zM240.00 315.17h3.4v1.2h-3.4zM272.93 346.00h1.2v2.8h-1.2zM240.00 313.68h3.4v1.2h-3.4zM274.42 346.00h1.2v2.8h-1.2zM240.00 312.51h3.4v1.2h-3.4zM275.59 346.00h1.2v2.8h-1.2zM240.00 311.56h3.4v1.2h-3.4zM276.54 346.00h1.2v2.8h-1.2zM240.00 310.76h3.4v1.2h-3.4zM277.34 346.00h1.2v2.8h-1.2zM240.00 310.06h3.4v1.2h-3.4zM278.04 346.00h1.2v2.8h-1.2zM240.00 309.45h3.4v1.2h-3.4zM278.65 346.00h1.2v2.8h-1.2zM240.00 308.90h3.4v1.2h-3.4zM279.20 346.00h1.2v2.8h-1.2zM240.00 305.29h3.4v1.2h-3.4zM282.81 346.00h1.2v2.8h-1.2zM240.00 303.17h3.4v1.2h-3.4zM284.93 346.00h1.2v2.8h-1.2zM240.00 301.68h3.4v1.2h-3.4zM286.42 346.00h1.2v2.8h-1.2zM240.00 300.51h3.4v1.2h-3.4zM287.59 346.00h1.2v2.8h-1.2zM240.00 299.56h3.4v1.2h-3.4zM288.54 346.00h1.2v2.8h-1.2zM240.00 298.76h3.4v1.2h-3.4zM289.34 346.00h1.2v2.8h-1.2zM240.00 298.06h3.4v1.2h-3.4zM290.04 346.00h1.2v2.8h-1.2zM240.00 297.45h3.4v1.2h-3.4zM290.65 346.00h1.2v2.8h-1.2zM240.00 296.90h3.4v1.2h-3.4zM291.20 346.00h1.2v2.8h-1.2zM240.00 293.29h3.4v1.2h-3.4zM294.81 346.00h1.2v2.8h-1.2zM240.00 291.17h3.4v1.2h-3.4zM296.93 346.00h1.2v2.8h-1.2zM240.00 289.68h3.4v1.2h-3.4zM298.42 346.00h1.2v2.8h-1.2zM240.00 288.51h3.4v1.2h-3.4zM299.59 346.00h1.2v2.8h-1.2zM240.00 287.56h3.4v1.2h-3.4zM300.54 346.00h1.2v2.8h-1.2zM240.00 286.76h3.4v1.2h-3.4zM301.34 346.00h1.2v2.8h-1.2zM240.00 286.06h3.4v1.2h-3.4zM302.04 346.00h1.2v2.8h-1.2zM240.00 285.45h3.4v1.2h-3.4zM302.65 346.00h1.2v2.8h-1.2zM240.00 284.90h3.4v1.2h-3.4zM303.20 346.00h1.2v2.8h-1.2zM240.00 281.29h3.4v1.2h-3.4zM306.81 346.00h1.2v2.8h-1.2zM240.00 279.17h3.4v1.2h-3.4zM308.93 346.00h1.2v2.8h-1.2zM240.00 277.68h3.4v1.2h-3.4zM310.42 346.00h1.2v2.8h-1.2zM240.00 276.51h3.4v1.2h-3.4zM311.59 346.00h1.2v2.8h-1.2zM240.00 275.56h3.4v1.2h-3.4zM312.54 346.00h1.2v2.8h-1.2zM240.00 274.76h3.4v1.2h-3.4zM313.34 346.00h1.2v2.8h-1.2zM240.00 274.06h3.4v1.2h-3.4zM314.04 346.00h1.2v2.8h-1.2zM240.00 273.45h3.4v1.2h-3.4zM314.65 346.00h1.2v2.8h-1.2zM240.00 272.90h3.4v1.2h-3.4zM315.20 346.00h1.2v2.8h-1.2z" fill="#000"/>
<text x="245.8" y="281.4" font-size="8.3" fill="#b8284e" stroke="#b8284e" stroke-width="0.15">55%</text>
<text x="314.9" y="281.4" font-size="8.3" fill="#b8284e" text-anchor="end" stroke="#b8284e" stroke-width="0.15">41%</text>
<text x="244.6" y="343.5" font-size="8.3" fill="#b8284e" stroke="#b8284e" stroke-width="0.15">2.9%</text>
<text x="312.6" y="343.5" font-size="8.3" fill="#b8284e" text-anchor="end" stroke="#b8284e" stroke-width="0.15">0.8%</text>
<text x="241.80" y="358.9" font-size="9.0" fill="#1a1a1a" text-anchor="middle" textLength="8.2" lengthAdjust="spacingAndGlyphs">10</text><text x="246.00" y="354.5" font-size="6.4" fill="#1a1a1a">1</text>
<text x="265.80" y="358.9" font-size="9.0" fill="#1a1a1a" text-anchor="middle" textLength="8.2" lengthAdjust="spacingAndGlyphs">10</text><text x="270.00" y="354.5" font-size="6.4" fill="#1a1a1a">3</text>
<text x="289.80" y="358.9" font-size="9.0" fill="#1a1a1a" text-anchor="middle" textLength="8.2" lengthAdjust="spacingAndGlyphs">10</text><text x="294.00" y="354.5" font-size="6.4" fill="#1a1a1a">5</text>
<text x="313.80" y="358.9" font-size="9.0" fill="#1a1a1a" text-anchor="middle" textLength="8.2" lengthAdjust="spacingAndGlyphs">10</text><text x="318.00" y="354.5" font-size="6.4" fill="#1a1a1a">7</text>
<text x="375.0" y="254.6" font-size="11.3" fill="#1a1a1a" text-anchor="middle" textLength="28.2" lengthAdjust="spacingAndGlyphs" >6 dod</text>
<text x="375.0" y="267.6" font-size="10.6" fill="#1a1a1a" text-anchor="middle" textLength="38" lengthAdjust="spacingAndGlyphs" >ORTHO</text>
<rect x="338.10" y="272.00" width="73.80" height="74.00" fill="#fff" />
<path d="M362 300h1v1h-1zM363 300h1v1h-1zM365 300h1v1h-1zM366 300h1v1h-1zM367 300h1v1h-1zM368 300h1v1h-1zM372 300h1v1h-1zM373 300h1v1h-1zM359 301h1v1h-1zM360 301h1v1h-1zM361 301h1v1h-1zM362 301h1v1h-1zM363 301h1v1h-1zM364 301h1v1h-1zM365 301h1v1h-1zM366 301h1v1h-1zM368 301h1v1h-1zM369 301h1v1h-1zM370 301h1v1h-1zM371 301h1v1h-1zM372 301h1v1h-1zM347 302h1v1h-1zM350 302h1v1h-1zM351 302h1v1h-1zM352 302h1v1h-1zM354 302h1v1h-1zM357 302h1v1h-1zM358 302h1v1h-1zM360 302h1v1h-1zM361 302h1v1h-1zM371 302h1v1h-1zM372 302h1v1h-1zM373 302h1v1h-1zM345 303h1v1h-1zM346 303h1v1h-1zM347 303h1v1h-1zM348 303h1v1h-1zM349 303h1v1h-1zM351 303h1v1h-1zM352 303h1v1h-1zM353 303h1v1h-1zM354 303h1v1h-1zM356 303h1v1h-1zM357 303h1v1h-1zM358 303h1v1h-1zM359 303h1v1h-1zM360 303h1v1h-1zM373 303h1v1h-1zM374 303h1v1h-1zM375 303h1v1h-1zM344 304h1v1h-1zM345 304h1v1h-1zM349 304h1v1h-1zM350 304h1v1h-1zM351 304h1v1h-1zM352 304h1v1h-1zM354 304h1v1h-1zM355 304h1v1h-1zM356 304h1v1h-1zM357 304h1v1h-1zM358 304h1v1h-1zM360 304h1v1h-1zM373 304h1v1h-1zM374 304h1v1h-1zM375 304h1v1h-1zM341 305h1v1h-1zM342 305h1v1h-1zM343 305h1v1h-1zM344 305h1v1h-1zM345 305h1v1h-1zM349 305h1v1h-1zM350 305h1v1h-1zM355 305h1v1h-1zM356 305h1v1h-1zM357 305h1v1h-1zM358 305h1v1h-1zM360 305h1v1h-1zM376 305h1v1h-1zM340 306h1v1h-1zM341 306h1v1h-1zM342 306h1v1h-1zM343 306h1v1h-1zM344 306h1v1h-1zM345 306h1v1h-1zM346 306h1v1h-1zM349 306h1v1h-1zM356 306h1v1h-1zM357 306h1v1h-1zM358 306h1v1h-1zM359 306h1v1h-1zM376 306h1v1h-1zM377 306h1v1h-1zM346 307h1v1h-1zM347 307h1v1h-1zM348 307h1v1h-1zM352 307h1v1h-1zM353 307h1v1h-1zM354 307h1v1h-1zM355 307h1v1h-1zM356 307h1v1h-1zM357 307h1v1h-1zM358 307h1v1h-1zM360 307h1v1h-1zM377 307h1v1h-1zM343 308h1v1h-1zM344 308h1v1h-1zM347 308h1v1h-1zM348 308h1v1h-1zM349 308h1v1h-1zM350 308h1v1h-1zM351 308h1v1h-1zM352 308h1v1h-1zM354 308h1v1h-1zM355 308h1v1h-1zM356 308h1v1h-1zM357 308h1v1h-1zM358 308h1v1h-1zM359 308h1v1h-1zM360 308h1v1h-1zM361 308h1v1h-1zM377 308h1v1h-1zM378 308h1v1h-1zM380 308h1v1h-1zM381 308h1v1h-1zM348 309h1v1h-1zM349 309h1v1h-1zM350 309h1v1h-1zM351 309h1v1h-1zM355 309h1v1h-1zM356 309h1v1h-1zM357 309h1v1h-1zM358 309h1v1h-1zM359 309h1v1h-1zM360 309h1v1h-1zM361 309h1v1h-1zM377 309h1v1h-1zM379 309h1v1h-1zM380 309h1v1h-1zM357 310h1v1h-1zM358 310h1v1h-1zM359 310h1v1h-1zM360 310h1v1h-1zM379 310h1v1h-1zM380 310h1v1h-1zM358 311h1v1h-1zM359 311h1v1h-1zM360 311h1v1h-1zM379 311h1v1h-1zM358 312h1v1h-1zM361 312h1v1h-1zM362 312h1v1h-1zM379 312h1v1h-1zM361 313h1v1h-1zM362 313h1v1h-1zM363 313h1v1h-1zM364 313h1v1h-1zM379 313h1v1h-1zM361 314h1v1h-1zM362 314h1v1h-1zM363 314h1v1h-1zM364 314h1v1h-1zM365 314h1v1h-1zM377 314h1v1h-1zM378 314h1v1h-1zM360 315h1v1h-1zM361 315h1v1h-1zM362 315h1v1h-1zM363 315h1v1h-1zM364 315h1v1h-1zM377 315h1v1h-1zM362 316h1v1h-1zM363 316h1v1h-1zM364 316h1v1h-1zM376 316h1v1h-1zM378 316h1v1h-1zM381 316h1v1h-1zM382 316h1v1h-1zM364 317h1v1h-1zM365 317h1v1h-1zM376 317h1v1h-1zM378 317h1v1h-1zM379 317h1v1h-1zM382 317h1v1h-1zM366 318h1v1h-1zM377 318h1v1h-1zM366 319h1v1h-1zM377 319h1v1h-1zM366 320h1v1h-1zM367 320h1v1h-1zM375 320h1v1h-1zM376 320h1v1h-1zM377 320h1v1h-1zM378 320h1v1h-1zM379 320h1v1h-1zM367 321h1v1h-1zM376 321h1v1h-1zM377 321h1v1h-1zM378 321h1v1h-1zM379 321h1v1h-1zM366 322h1v1h-1zM367 322h1v1h-1zM373 322h1v1h-1zM374 322h1v1h-1zM376 322h1v1h-1zM377 322h1v1h-1zM378 322h1v1h-1zM364 323h1v1h-1zM366 323h1v1h-1zM367 323h1v1h-1zM368 323h1v1h-1zM369 323h1v1h-1zM375 323h1v1h-1zM366 324h1v1h-1zM367 324h1v1h-1zM368 324h1v1h-1zM369 324h1v1h-1zM375 324h1v1h-1zM367 325h1v1h-1zM368 325h1v1h-1zM369 325h1v1h-1zM373 325h1v1h-1zM374 325h1v1h-1zM367 326h1v1h-1zM370 326h1v1h-1zM371 326h1v1h-1zM372 326h1v1h-1zM373 326h1v1h-1zM374 326h1v1h-1zM375 326h1v1h-1zM368 327h1v1h-1zM369 327h1v1h-1zM370 327h1v1h-1zM371 327h1v1h-1zM372 327h1v1h-1zM373 327h1v1h-1zM374 327h1v1h-1zM375 327h1v1h-1zM369 328h1v1h-1zM370 328h1v1h-1zM371 328h1v1h-1zM372 328h1v1h-1zM373 328h1v1h-1zM374 328h1v1h-1zM375 328h1v1h-1zM369 329h1v1h-1zM370 329h1v1h-1zM371 329h1v1h-1zM372 329h1v1h-1zM373 329h1v1h-1zM366 330h1v1h-1zM370 330h1v1h-1zM371 330h1v1h-1zM372 330h1v1h-1zM370 331h1v1h-1zM371 331h1v1h-1zM372 331h1v1h-1zM368 332h1v1h-1z" fill="#000" fill-opacity="0.1"/>
<path d="M367 301h1v1h-1zM359 302h1v1h-1zM362 302h1v1h-1zM363 302h1v1h-1zM364 302h1v1h-1zM365 302h1v1h-1zM366 302h1v1h-1zM368 302h1v1h-1zM369 302h1v1h-1zM370 302h1v1h-1zM361 303h1v1h-1zM362 303h1v1h-1zM370 303h1v1h-1zM371 303h1v1h-1zM372 303h1v1h-1zM346 304h1v1h-1zM348 304h1v1h-1zM353 304h1v1h-1zM361 304h1v1h-1zM346 305h1v1h-1zM347 305h1v1h-1zM348 305h1v1h-1zM351 305h1v1h-1zM352 305h1v1h-1zM353 305h1v1h-1zM354 305h1v1h-1zM373 305h1v1h-1zM374 305h1v1h-1zM375 305h1v1h-1zM347 306h1v1h-1zM348 306h1v1h-1zM350 306h1v1h-1zM351 306h1v1h-1zM352 306h1v1h-1zM353 306h1v1h-1zM354 306h1v1h-1zM355 306h1v1h-1zM360 306h1v1h-1zM375 306h1v1h-1zM349 307h1v1h-1zM350 307h1v1h-1zM351 307h1v1h-1zM359 307h1v1h-1zM361 307h1v1h-1zM375 307h1v1h-1zM376 307h1v1h-1zM376 308h1v1h-1zM362 309h1v1h-1zM376 309h1v1h-1zM378 309h1v1h-1zM361 310h1v1h-1zM362 310h1v1h-1zM375 310h1v1h-1zM376 310h1v1h-1zM377 310h1v1h-1zM378 310h1v1h-1zM361 311h1v1h-1zM362 311h1v1h-1zM376 311h1v1h-1zM378 311h1v1h-1zM363 312h1v1h-1zM364 312h1v1h-1zM375 312h1v1h-1zM376 312h1v1h-1zM377 312h1v1h-1zM378 312h1v1h-1zM365 313h1v1h-1zM366 313h1v1h-1zM367 313h1v1h-1zM376 313h1v1h-1zM377 313h1v1h-1zM378 313h1v1h-1zM366 314h1v1h-1zM365 315h1v1h-1zM366 315h1v1h-1zM375 315h1v1h-1zM376 315h1v1h-1zM365 316h1v1h-1zM366 316h1v1h-1zM375 316h1v1h-1zM377 316h1v1h-1zM366 317h1v1h-1zM367 317h1v1h-1zM370 317h1v1h-1zM371 317h1v1h-1zM375 317h1v1h-1zM377 317h1v1h-1zM367 318h1v1h-1zM368 318h1v1h-1zM369 318h1v1h-1zM371 318h1v1h-1zM375 318h1v1h-1zM376 318h1v1h-1zM367 319h1v1h-1zM368 319h1v1h-1zM369 319h1v1h-1zM371 319h1v1h-1zM372 319h1v1h-1zM375 319h1v1h-1zM376 319h1v1h-1zM368 320h1v1h-1zM369 320h1v1h-1zM370 320h1v1h-1zM371 320h1v1h-1zM372 320h1v1h-1zM373 320h1v1h-1zM374 320h1v1h-1zM368 321h1v1h-1zM371 321h1v1h-1zM372 321h1v1h-1zM373 321h1v1h-1zM374 321h1v1h-1zM375 321h1v1h-1zM368 322h1v1h-1zM369 322h1v1h-1zM370 322h1v1h-1zM371 322h1v1h-1zM372 322h1v1h-1zM375 322h1v1h-1zM370 323h1v1h-1zM371 323h1v1h-1zM372 323h1v1h-1zM373 323h1v1h-1zM374 323h1v1h-1zM370 324h1v1h-1zM371 324h1v1h-1zM372 324h1v1h-1zM373 324h1v1h-1zM374 324h1v1h-1zM370 325h1v1h-1zM371 325h1v1h-1zM372 325h1v1h-1zM368 326h1v1h-1zM369 326h1v1h-1z" fill="#000" fill-opacity="0.2"/>
<path d="M367 302h1v1h-1zM363 303h1v1h-1zM369 303h1v1h-1zM347 304h1v1h-1zM362 304h1v1h-1zM371 304h1v1h-1zM372 304h1v1h-1zM361 305h1v1h-1zM362 305h1v1h-1zM372 305h1v1h-1zM361 306h1v1h-1zM374 306h1v1h-1zM374 307h1v1h-1zM362 308h1v1h-1zM363 308h1v1h-1zM375 308h1v1h-1zM363 309h1v1h-1zM364 309h1v1h-1zM375 309h1v1h-1zM363 310h1v1h-1zM364 310h1v1h-1zM363 311h1v1h-1zM375 311h1v1h-1zM377 311h1v1h-1zM365 312h1v1h-1zM366 312h1v1h-1zM367 312h1v1h-1zM374 312h1v1h-1zM368 313h1v1h-1zM373 313h1v1h-1zM375 313h1v1h-1zM367 314h1v1h-1zM368 314h1v1h-1zM369 314h1v1h-1zM370 314h1v1h-1zM373 314h1v1h-1zM374 314h1v1h-1zM375 314h1v1h-1zM376 314h1v1h-1zM367 315h1v1h-1zM368 315h1v1h-1zM369 315h1v1h-1zM370 315h1v1h-1zM373 315h1v1h-1zM374 315h1v1h-1zM367 316h1v1h-1zM368 316h1v1h-1zM369 316h1v1h-1zM370 316h1v1h-1zM371 316h1v1h-1zM372 316h1v1h-1zM373 316h1v1h-1zM374 316h1v1h-1zM368 317h1v1h-1zM369 317h1v1h-1zM372 317h1v1h-1zM374 317h1v1h-1zM370 318h1v1h-1zM372 318h1v1h-1zM374 318h1v1h-1zM370 319h1v1h-1zM373 319h1v1h-1zM374 319h1v1h-1zM369 321h1v1h-1zM370 321h1v1h-1z" fill="#000" fill-opacity="0.3"/>
<path d="M364 303h1v1h-1zM365 303h1v1h-1zM366 303h1v1h-1zM367 303h1v1h-1zM368 303h1v1h-1zM363 304h1v1h-1zM370 304h1v1h-1zM363 305h1v1h-1zM362 306h1v1h-1zM373 306h1v1h-1zM362 307h1v1h-1zM374 308h1v1h-1zM374 309h1v1h-1zM365 310h1v1h-1zM374 310h1v1h-1zM364 311h1v1h-1zM365 311h1v1h-1zM366 311h1v1h-1zM373 311h1v1h-1zM374 311h1v1h-1zM368 312h1v1h-1zM372 312h1v1h-1zM373 312h1v1h-1zM369 313h1v1h-1zM370 313h1v1h-1zM372 313h1v1h-1zM374 313h1v1h-1zM371 314h1v1h-1zM372 314h1v1h-1zM371 315h1v1h-1zM372 315h1v1h-1zM373 317h1v1h-1zM373 318h1v1h-1z" fill="#000" fill-opacity="0.4"/>
<path d="M364 304h1v1h-1zM369 304h1v1h-1zM371 305h1v1h-1zM363 306h1v1h-1zM364 306h1v1h-1zM372 306h1v1h-1zM363 307h1v1h-1zM373 307h1v1h-1zM364 308h1v1h-1zM373 308h1v1h-1zM365 309h1v1h-1zM373 309h1v1h-1zM366 310h1v1h-1zM373 310h1v1h-1zM367 311h1v1h-1zM368 311h1v1h-1zM369 311h1v1h-1zM370 311h1v1h-1zM371 311h1v1h-1zM372 311h1v1h-1zM369 312h1v1h-1zM370 312h1v1h-1zM371 312h1v1h-1zM371 313h1v1h-1z" fill="#000" fill-opacity="0.5"/>
<path d="M365 304h1v1h-1zM366 304h1v1h-1zM367 304h1v1h-1zM368 304h1v1h-1zM364 305h1v1h-1zM370 305h1v1h-1zM371 306h1v1h-1zM364 307h1v1h-1zM372 307h1v1h-1zM366 309h1v1h-1zM367 310h1v1h-1zM368 310h1v1h-1zM372 310h1v1h-1z" fill="#000" fill-opacity="0.6"/>
<path d="M365 305h1v1h-1zM369 305h1v1h-1zM365 306h1v1h-1zM370 306h1v1h-1zM365 307h1v1h-1zM371 307h1v1h-1zM365 308h1v1h-1zM371 308h1v1h-1zM372 308h1v1h-1zM367 309h1v1h-1zM372 309h1v1h-1zM369 310h1v1h-1zM370 310h1v1h-1zM371 310h1v1h-1z" fill="#000" fill-opacity="0.7"/>
<path d="M366 305h1v1h-1zM367 305h1v1h-1zM368 305h1v1h-1zM366 306h1v1h-1zM369 306h1v1h-1zM366 307h1v1h-1zM369 307h1v1h-1zM370 307h1v1h-1zM366 308h1v1h-1zM368 308h1v1h-1zM369 308h1v1h-1zM370 308h1v1h-1zM368 309h1v1h-1zM369 309h1v1h-1zM370 309h1v1h-1zM371 309h1v1h-1z" fill="#000" fill-opacity="0.8"/>
<path d="M367 306h1v1h-1zM368 306h1v1h-1zM367 307h1v1h-1zM368 307h1v1h-1zM367 308h1v1h-1z" fill="#000" fill-opacity="0.9"/>
<line x1="362.20" y1="272.00" x2="362.20" y2="346.00" stroke="#e5142f" stroke-width="1.35" />
<line x1="338.10" y1="317.20" x2="411.90" y2="317.20" stroke="#e5142f" stroke-width="1.35" />
<line x1="338.10" y1="272.00" x2="411.90" y2="272.00" stroke="#151535" stroke-width="1" />
<line x1="411.90" y1="272.00" x2="411.90" y2="346.00" stroke="#151535" stroke-width="1" />
<line x1="338.10" y1="344.70" x2="411.90" y2="344.70" stroke="#5a68a8" stroke-width="0.9" />
<line x1="339.30" y1="272.00" x2="339.30" y2="346.00" stroke="#000" stroke-width="1.2" />
<line x1="337.60" y1="345.70" x2="411.90" y2="345.70" stroke="#000" stroke-width="1.2" />
<path d="M335.20 344.90h3.4v1.2h-3.4zM338.40 346.00h1.2v2.8h-1.2zM335.20 341.29h3.4v1.2h-3.4zM342.01 346.00h1.2v2.8h-1.2zM335.20 339.17h3.4v1.2h-3.4zM344.13 346.00h1.2v2.8h-1.2zM335.20 337.68h3.4v1.2h-3.4zM345.62 346.00h1.2v2.8h-1.2zM335.20 336.51h3.4v1.2h-3.4zM346.79 346.00h1.2v2.8h-1.2zM335.20 335.56h3.4v1.2h-3.4zM347.74 346.00h1.2v2.8h-1.2zM335.20 334.76h3.4v1.2h-3.4zM348.54 346.00h1.2v2.8h-1.2zM335.20 334.06h3.4v1.2h-3.4zM349.24 346.00h1.2v2.8h-1.2zM335.20 333.45h3.4v1.2h-3.4zM349.85 346.00h1.2v2.8h-1.2zM335.20 332.90h3.4v1.2h-3.4zM350.40 346.00h1.2v2.8h-1.2zM335.20 329.29h3.4v1.2h-3.4zM354.01 346.00h1.2v2.8h-1.2zM335.20 327.17h3.4v1.2h-3.4zM356.13 346.00h1.2v2.8h-1.2zM335.20 325.68h3.4v1.2h-3.4zM357.62 346.00h1.2v2.8h-1.2zM335.20 324.51h3.4v1.2h-3.4zM358.79 346.00h1.2v2.8h-1.2zM335.20 323.56h3.4v1.2h-3.4zM359.74 346.00h1.2v2.8h-1.2zM335.20 322.76h3.4v1.2h-3.4zM360.54 346.00h1.2v2.8h-1.2zM335.20 322.06h3.4v1.2h-3.4zM361.24 346.00h1.2v2.8h-1.2zM335.20 321.45h3.4v1.2h-3.4zM361.85 346.00h1.2v2.8h-1.2zM335.20 320.90h3.4v1.2h-3.4zM362.40 346.00h1.2v2.8h-1.2zM335.20 317.29h3.4v1.2h-3.4zM366.01 346.00h1.2v2.8h-1.2zM335.20 315.17h3.4v1.2h-3.4zM368.13 346.00h1.2v2.8h-1.2zM335.20 313.68h3.4v1.2h-3.4zM369.62 346.00h1.2v2.8h-1.2zM335.20 312.51h3.4v1.2h-3.4zM370.79 346.00h1.2v2.8h-1.2zM335.20 311.56h3.4v1.2h-3.4zM371.74 346.00h1.2v2.8h-1.2zM335.20 310.76h3.4v1.2h-3.4zM372.54 346.00h1.2v2.8h-1.2zM335.20 310.06h3.4v1.2h-3.4zM373.24 346.00h1.2v2.8h-1.2zM335.20 309.45h3.4v1.2h-3.4zM373.85 346.00h1.2v2.8h-1.2zM335.20 308.90h3.4v1.2h-3.4zM374.40 346.00h1.2v2.8h-1.2zM335.20 305.29h3.4v1.2h-3.4zM378.01 346.00h1.2v2.8h-1.2zM335.20 303.17h3.4v1.2h-3.4zM380.13 346.00h1.2v2.8h-1.2zM335.20 301.68h3.4v1.2h-3.4zM381.62 346.00h1.2v2.8h-1.2zM335.20 300.51h3.4v1.2h-3.4zM382.79 346.00h1.2v2.8h-1.2zM335.20 299.56h3.4v1.2h-3.4zM383.74 346.00h1.2v2.8h-1.2zM335.20 298.76h3.4v1.2h-3.4zM384.54 346.00h1.2v2.8h-1.2zM335.20 298.06h3.4v1.2h-3.4zM385.24 346.00h1.2v2.8h-1.2zM335.20 297.45h3.4v1.2h-3.4zM385.85 346.00h1.2v2.8h-1.2zM335.20 296.90h3.4v1.2h-3.4zM386.40 346.00h1.2v2.8h-1.2zM335.20 293.29h3.4v1.2h-3.4zM390.01 346.00h1.2v2.8h-1.2zM335.20 291.17h3.4v1.2h-3.4zM392.13 346.00h1.2v2.8h-1.2zM335.20 289.68h3.4v1.2h-3.4zM393.62 346.00h1.2v2.8h-1.2zM335.20 288.51h3.4v1.2h-3.4zM394.79 346.00h1.2v2.8h-1.2zM335.20 287.56h3.4v1.2h-3.4zM395.74 346.00h1.2v2.8h-1.2zM335.20 286.76h3.4v1.2h-3.4zM396.54 346.00h1.2v2.8h-1.2zM335.20 286.06h3.4v1.2h-3.4zM397.24 346.00h1.2v2.8h-1.2zM335.20 285.45h3.4v1.2h-3.4zM397.85 346.00h1.2v2.8h-1.2zM335.20 284.90h3.4v1.2h-3.4zM398.40 346.00h1.2v2.8h-1.2zM335.20 281.29h3.4v1.2h-3.4zM402.01 346.00h1.2v2.8h-1.2zM335.20 279.17h3.4v1.2h-3.4zM404.13 346.00h1.2v2.8h-1.2zM335.20 277.68h3.4v1.2h-3.4zM405.62 346.00h1.2v2.8h-1.2zM335.20 276.51h3.4v1.2h-3.4zM406.79 346.00h1.2v2.8h-1.2zM335.20 275.56h3.4v1.2h-3.4zM407.74 346.00h1.2v2.8h-1.2zM335.20 274.76h3.4v1.2h-3.4zM408.54 346.00h1.2v2.8h-1.2zM335.20 274.06h3.4v1.2h-3.4zM409.24 346.00h1.2v2.8h-1.2zM335.20 273.45h3.4v1.2h-3.4zM409.85 346.00h1.2v2.8h-1.2zM335.20 272.90h3.4v1.2h-3.4zM410.40 346.00h1.2v2.8h-1.2z" fill="#000"/>
<text x="339.3" y="281.4" font-size="8.3" fill="#b8284e" stroke="#b8284e" stroke-width="0.15">9.1%</text>
<text x="409.6" y="281.4" font-size="8.3" fill="#b8284e" text-anchor="end" stroke="#b8284e" stroke-width="0.15">81%</text>
<text x="340.4" y="343.5" font-size="8.3" fill="#b8284e" stroke="#b8284e" stroke-width="0.15">1.1%</text>
<text x="408.5" y="343.5" font-size="8.3" fill="#b8284e" text-anchor="end" stroke="#b8284e" stroke-width="0.15">8.3%</text>
<text x="337.00" y="358.9" font-size="9.0" fill="#1a1a1a" text-anchor="middle" textLength="8.2" lengthAdjust="spacingAndGlyphs">10</text><text x="341.20" y="354.5" font-size="6.4" fill="#1a1a1a">1</text>
<text x="361.00" y="358.9" font-size="9.0" fill="#1a1a1a" text-anchor="middle" textLength="8.2" lengthAdjust="spacingAndGlyphs">10</text><text x="365.20" y="354.5" font-size="6.4" fill="#1a1a1a">3</text>
<text x="385.00" y="358.9" font-size="9.0" fill="#1a1a1a" text-anchor="middle" textLength="8.2" lengthAdjust="spacingAndGlyphs">10</text><text x="389.20" y="354.5" font-size="6.4" fill="#1a1a1a">5</text>
<text x="409.00" y="358.9" font-size="9.0" fill="#1a1a1a" text-anchor="middle" textLength="8.2" lengthAdjust="spacingAndGlyphs">10</text><text x="413.20" y="354.5" font-size="6.4" fill="#1a1a1a">7</text>
<text x="470.4" y="254.6" font-size="11.3" fill="#1a1a1a" text-anchor="middle" textLength="28.2" lengthAdjust="spacingAndGlyphs" >8 dod</text>
<text x="470.4" y="267.6" font-size="10.6" fill="#1a1a1a" text-anchor="middle" textLength="30" lengthAdjust="spacingAndGlyphs" >RETIC</text>
<rect x="433.50" y="272.00" width="73.80" height="74.00" fill="#fff" />
<path d="M467 304h1v1h-1zM468 304h1v1h-1zM469 304h1v1h-1zM471 304h1v1h-1zM473 304h1v1h-1zM460 305h1v1h-1zM461 305h1v1h-1zM462 305h1v1h-1zM463 305h1v1h-1zM464 305h1v1h-1zM465 305h1v1h-1zM466 305h1v1h-1zM467 305h1v1h-1zM468 305h1v1h-1zM469 305h1v1h-1zM470 305h1v1h-1zM471 305h1v1h-1zM472 305h1v1h-1zM460 306h1v1h-1zM461 306h1v1h-1zM464 306h1v1h-1zM465 306h1v1h-1zM466 306h1v1h-1zM467 306h1v1h-1zM468 306h1v1h-1zM469 306h1v1h-1zM470 306h1v1h-1zM471 306h1v1h-1zM472 306h1v1h-1zM459 307h1v1h-1zM460 307h1v1h-1zM461 307h1v1h-1zM466 307h1v1h-1zM471 307h1v1h-1zM459 308h1v1h-1zM460 308h1v1h-1zM471 308h1v1h-1zM472 308h1v1h-1zM473 308h1v1h-1zM459 309h1v1h-1zM472 309h1v1h-1zM474 309h1v1h-1zM458 310h1v1h-1zM459 310h1v1h-1zM473 310h1v1h-1zM474 310h1v1h-1zM476 310h1v1h-1zM457 311h1v1h-1zM473 311h1v1h-1zM474 311h1v1h-1zM476 311h1v1h-1zM457 312h1v1h-1zM458 312h1v1h-1zM473 312h1v1h-1zM474 312h1v1h-1zM475 312h1v1h-1zM476 312h1v1h-1zM477 312h1v1h-1zM457 313h1v1h-1zM458 313h1v1h-1zM474 313h1v1h-1zM475 313h1v1h-1zM476 313h1v1h-1zM477 313h1v1h-1zM478 313h1v1h-1zM457 314h1v1h-1zM458 314h1v1h-1zM459 314h1v1h-1zM474 314h1v1h-1zM475 314h1v1h-1zM476 314h1v1h-1zM446 315h1v1h-1zM455 315h1v1h-1zM456 315h1v1h-1zM457 315h1v1h-1zM474 315h1v1h-1zM475 315h1v1h-1zM446 316h1v1h-1zM447 316h1v1h-1zM454 316h1v1h-1zM455 316h1v1h-1zM456 316h1v1h-1zM457 316h1v1h-1zM474 316h1v1h-1zM446 317h1v1h-1zM453 317h1v1h-1zM454 317h1v1h-1zM456 317h1v1h-1zM457 317h1v1h-1zM458 317h1v1h-1zM459 317h1v1h-1zM474 317h1v1h-1zM452 318h1v1h-1zM453 318h1v1h-1zM454 318h1v1h-1zM455 318h1v1h-1zM457 318h1v1h-1zM458 318h1v1h-1zM459 318h1v1h-1zM474 318h1v1h-1zM475 318h1v1h-1zM478 318h1v1h-1zM442 319h1v1h-1zM449 319h1v1h-1zM452 319h1v1h-1zM453 319h1v1h-1zM454 319h1v1h-1zM456 319h1v1h-1zM457 319h1v1h-1zM458 319h1v1h-1zM459 319h1v1h-1zM460 319h1v1h-1zM475 319h1v1h-1zM476 319h1v1h-1zM477 319h1v1h-1zM453 320h1v1h-1zM454 320h1v1h-1zM456 320h1v1h-1zM457 320h1v1h-1zM459 320h1v1h-1zM460 320h1v1h-1zM461 320h1v1h-1zM462 320h1v1h-1zM475 320h1v1h-1zM476 320h1v1h-1zM451 321h1v1h-1zM452 321h1v1h-1zM453 321h1v1h-1zM454 321h1v1h-1zM455 321h1v1h-1zM456 321h1v1h-1zM458 321h1v1h-1zM459 321h1v1h-1zM460 321h1v1h-1zM475 321h1v1h-1zM451 322h1v1h-1zM452 322h1v1h-1zM453 322h1v1h-1zM454 322h1v1h-1zM456 322h1v1h-1zM457 322h1v1h-1zM458 322h1v1h-1zM459 322h1v1h-1zM460 322h1v1h-1zM474 322h1v1h-1zM475 322h1v1h-1zM476 322h1v1h-1zM477 322h1v1h-1zM451 323h1v1h-1zM452 323h1v1h-1zM453 323h1v1h-1zM454 323h1v1h-1zM455 323h1v1h-1zM456 323h1v1h-1zM457 323h1v1h-1zM458 323h1v1h-1zM459 323h1v1h-1zM460 323h1v1h-1zM474 323h1v1h-1zM477 323h1v1h-1zM454 324h1v1h-1zM455 324h1v1h-1zM457 324h1v1h-1zM458 324h1v1h-1zM459 324h1v1h-1zM473 324h1v1h-1zM474 324h1v1h-1zM454 325h1v1h-1zM455 325h1v1h-1zM456 325h1v1h-1zM457 325h1v1h-1zM458 325h1v1h-1zM459 325h1v1h-1zM473 325h1v1h-1zM474 325h1v1h-1zM476 325h1v1h-1zM457 326h1v1h-1zM458 326h1v1h-1zM459 326h1v1h-1zM460 326h1v1h-1zM465 326h1v1h-1zM466 326h1v1h-1zM470 326h1v1h-1zM471 326h1v1h-1zM472 326h1v1h-1zM473 326h1v1h-1zM474 326h1v1h-1zM475 326h1v1h-1zM476 326h1v1h-1zM456 327h1v1h-1zM458 327h1v1h-1zM459 327h1v1h-1zM460 327h1v1h-1zM462 327h1v1h-1zM463 327h1v1h-1zM464 327h1v1h-1zM465 327h1v1h-1zM466 327h1v1h-1zM467 327h1v1h-1zM468 327h1v1h-1zM469 327h1v1h-1zM470 327h1v1h-1zM471 327h1v1h-1zM472 327h1v1h-1zM456 328h1v1h-1zM460 328h1v1h-1zM461 328h1v1h-1zM462 328h1v1h-1zM463 328h1v1h-1zM464 328h1v1h-1zM465 328h1v1h-1zM466 328h1v1h-1zM467 328h1v1h-1zM468 328h1v1h-1zM469 328h1v1h-1zM470 328h1v1h-1zM471 328h1v1h-1zM452 329h1v1h-1zM456 329h1v1h-1zM457 329h1v1h-1zM458 329h1v1h-1zM460 329h1v1h-1zM461 329h1v1h-1zM462 329h1v1h-1zM463 329h1v1h-1zM464 329h1v1h-1zM465 329h1v1h-1zM466 329h1v1h-1zM467 329h1v1h-1zM468 329h1v1h-1zM469 329h1v1h-1zM470 329h1v1h-1zM457 330h1v1h-1zM458 330h1v1h-1zM459 330h1v1h-1zM462 330h1v1h-1zM463 330h1v1h-1zM464 330h1v1h-1zM465 330h1v1h-1zM467 330h1v1h-1zM468 330h1v1h-1zM465 331h1v1h-1zM466 331h1v1h-1zM467 331h1v1h-1zM455 332h1v1h-1zM456 332h1v1h-1zM462 332h1v1h-1zM466 332h1v1h-1zM467 332h1v1h-1zM456 333h1v1h-1zM457 333h1v1h-1zM458 333h1v1h-1zM459 333h1v1h-1zM460 333h1v1h-1zM461 333h1v1h-1zM462 333h1v1h-1zM463 333h1v1h-1zM466 333h1v1h-1zM457 334h1v1h-1zM458 334h1v1h-1zM459 334h1v1h-1zM461 334h1v1h-1zM462 334h1v1h-1zM463 334h1v1h-1zM466 334h1v1h-1zM455 335h1v1h-1zM457 335h1v1h-1zM458 335h1v1h-1zM459 335h1v1h-1zM461 335h1v1h-1zM462 335h1v1h-1zM463 335h1v1h-1zM464 335h1v1h-1zM466 335h1v1h-1zM456 336h1v1h-1zM457 336h1v1h-1zM458 336h1v1h-1zM462 336h1v1h-1zM463 336h1v1h-1zM464 336h1v1h-1zM461 337h1v1h-1zM462 337h1v1h-1zM463 337h1v1h-1zM461 338h1v1h-1zM462 338h1v1h-1zM465 341h1v1h-1z" fill="#000" fill-opacity="0.1"/>
<path d="M462 306h1v1h-1zM463 306h1v1h-1zM462 307h1v1h-1zM463 307h1v1h-1zM464 307h1v1h-1zM465 307h1v1h-1zM467 307h1v1h-1zM468 307h1v1h-1zM470 307h1v1h-1zM461 308h1v1h-1zM462 308h1v1h-1zM463 308h1v1h-1zM460 309h1v1h-1zM461 309h1v1h-1zM471 309h1v1h-1zM473 309h1v1h-1zM460 310h1v1h-1zM472 310h1v1h-1zM458 311h1v1h-1zM459 311h1v1h-1zM460 311h1v1h-1zM459 312h1v1h-1zM459 313h1v1h-1zM473 313h1v1h-1zM460 314h1v1h-1zM473 314h1v1h-1zM458 315h1v1h-1zM459 315h1v1h-1zM460 315h1v1h-1zM473 315h1v1h-1zM458 316h1v1h-1zM459 316h1v1h-1zM473 316h1v1h-1zM473 317h1v1h-1zM460 318h1v1h-1zM461 319h1v1h-1zM462 319h1v1h-1zM474 319h1v1h-1zM458 320h1v1h-1zM463 320h1v1h-1zM474 320h1v1h-1zM457 321h1v1h-1zM461 321h1v1h-1zM462 321h1v1h-1zM463 321h1v1h-1zM474 321h1v1h-1zM461 322h1v1h-1zM462 322h1v1h-1zM473 322h1v1h-1zM461 323h1v1h-1zM462 323h1v1h-1zM473 323h1v1h-1zM460 324h1v1h-1zM461 324h1v1h-1zM462 324h1v1h-1zM472 324h1v1h-1zM460 325h1v1h-1zM461 325h1v1h-1zM462 325h1v1h-1zM463 325h1v1h-1zM464 325h1v1h-1zM465 325h1v1h-1zM470 325h1v1h-1zM471 325h1v1h-1zM472 325h1v1h-1zM461 326h1v1h-1zM462 326h1v1h-1zM463 326h1v1h-1zM464 326h1v1h-1zM467 326h1v1h-1zM468 326h1v1h-1zM469 326h1v1h-1zM457 327h1v1h-1zM461 327h1v1h-1zM457 328h1v1h-1zM458 328h1v1h-1zM459 328h1v1h-1zM459 329h1v1h-1zM466 330h1v1h-1z" fill="#000" fill-opacity="0.2"/>
<path d="M469 307h1v1h-1zM464 308h1v1h-1zM466 308h1v1h-1zM467 308h1v1h-1zM470 308h1v1h-1zM462 309h1v1h-1zM463 309h1v1h-1zM470 309h1v1h-1zM461 310h1v1h-1zM470 310h1v1h-1zM471 310h1v1h-1zM461 311h1v1h-1zM472 311h1v1h-1zM460 312h1v1h-1zM472 312h1v1h-1zM460 313h1v1h-1zM472 313h1v1h-1zM472 314h1v1h-1zM472 315h1v1h-1zM460 316h1v1h-1zM472 316h1v1h-1zM460 317h1v1h-1zM461 317h1v1h-1zM462 317h1v1h-1zM463 317h1v1h-1zM461 318h1v1h-1zM462 318h1v1h-1zM463 318h1v1h-1zM473 318h1v1h-1zM463 319h1v1h-1zM473 319h1v1h-1zM473 320h1v1h-1zM464 321h1v1h-1zM473 321h1v1h-1zM463 322h1v1h-1zM472 322h1v1h-1zM463 323h1v1h-1zM464 323h1v1h-1zM465 323h1v1h-1zM472 323h1v1h-1zM463 324h1v1h-1zM464 324h1v1h-1zM465 324h1v1h-1zM466 324h1v1h-1zM467 324h1v1h-1zM471 324h1v1h-1zM466 325h1v1h-1zM467 325h1v1h-1z" fill="#000" fill-opacity="0.3"/>
<path d="M465 308h1v1h-1zM468 308h1v1h-1zM469 308h1v1h-1zM464 309h1v1h-1zM465 309h1v1h-1zM462 310h1v1h-1zM462 311h1v1h-1zM470 311h1v1h-1zM471 311h1v1h-1zM461 312h1v1h-1zM461 313h1v1h-1zM462 313h1v1h-1zM461 314h1v1h-1zM471 314h1v1h-1zM461 315h1v1h-1zM471 315h1v1h-1zM461 316h1v1h-1zM462 316h1v1h-1zM463 316h1v1h-1zM464 317h1v1h-1zM472 317h1v1h-1zM464 318h1v1h-1zM464 319h1v1h-1zM472 319h1v1h-1zM464 320h1v1h-1zM472 320h1v1h-1zM465 321h1v1h-1zM472 321h1v1h-1zM464 322h1v1h-1zM465 322h1v1h-1zM471 322h1v1h-1zM466 323h1v1h-1zM471 323h1v1h-1zM468 324h1v1h-1zM470 324h1v1h-1zM468 325h1v1h-1zM469 325h1v1h-1z" fill="#000" fill-opacity="0.4"/>
<path d="M466 309h1v1h-1zM467 309h1v1h-1zM468 309h1v1h-1zM469 309h1v1h-1zM463 310h1v1h-1zM469 310h1v1h-1zM469 311h1v1h-1zM462 312h1v1h-1zM470 312h1v1h-1zM471 312h1v1h-1zM470 313h1v1h-1zM471 313h1v1h-1zM462 314h1v1h-1zM463 314h1v1h-1zM462 315h1v1h-1zM463 315h1v1h-1zM470 315h1v1h-1zM464 316h1v1h-1zM465 316h1v1h-1zM471 316h1v1h-1zM465 317h1v1h-1zM466 317h1v1h-1zM465 318h1v1h-1zM466 318h1v1h-1zM472 318h1v1h-1zM465 319h1v1h-1zM466 319h1v1h-1zM465 320h1v1h-1zM466 322h1v1h-1zM467 323h1v1h-1zM469 324h1v1h-1z" fill="#000" fill-opacity="0.5"/>
<path d="M464 310h1v1h-1zM465 310h1v1h-1zM466 310h1v1h-1zM467 310h1v1h-1zM468 310h1v1h-1zM463 311h1v1h-1zM468 311h1v1h-1zM463 312h1v1h-1zM469 312h1v1h-1zM463 313h1v1h-1zM469 313h1v1h-1zM464 314h1v1h-1zM468 314h1v1h-1zM470 314h1v1h-1zM464 315h1v1h-1zM468 315h1v1h-1zM469 315h1v1h-1zM466 316h1v1h-1zM468 316h1v1h-1zM469 316h1v1h-1zM470 316h1v1h-1zM469 317h1v1h-1zM470 317h1v1h-1zM471 317h1v1h-1zM471 318h1v1h-1zM471 319h1v1h-1zM466 320h1v1h-1zM471 320h1v1h-1zM466 321h1v1h-1zM471 321h1v1h-1zM467 322h1v1h-1zM470 322h1v1h-1zM468 323h1v1h-1zM469 323h1v1h-1zM470 323h1v1h-1z" fill="#000" fill-opacity="0.6"/>
<path d="M464 311h1v1h-1zM465 311h1v1h-1zM466 311h1v1h-1zM467 311h1v1h-1zM464 312h1v1h-1zM467 312h1v1h-1zM468 312h1v1h-1zM464 313h1v1h-1zM465 313h1v1h-1zM467 313h1v1h-1zM468 313h1v1h-1zM465 314h1v1h-1zM467 314h1v1h-1zM469 314h1v1h-1zM465 315h1v1h-1zM466 315h1v1h-1zM467 315h1v1h-1zM467 316h1v1h-1zM467 317h1v1h-1zM468 317h1v1h-1zM467 318h1v1h-1zM468 318h1v1h-1zM469 318h1v1h-1zM470 318h1v1h-1zM467 319h1v1h-1zM468 319h1v1h-1zM469 319h1v1h-1zM470 319h1v1h-1zM467 320h1v1h-1zM468 320h1v1h-1zM470 320h1v1h-1zM467 321h1v1h-1zM470 321h1v1h-1zM468 322h1v1h-1zM469 322h1v1h-1z" fill="#000" fill-opacity="0.7"/>
<path d="M465 312h1v1h-1zM466 312h1v1h-1zM466 313h1v1h-1zM466 314h1v1h-1zM469 320h1v1h-1zM468 321h1v1h-1zM469 321h1v1h-1z" fill="#000" fill-opacity="0.8"/>
<line x1="456.50" y1="272.00" x2="456.50" y2="346.00" stroke="#e5142f" stroke-width="1.35" />
<line x1="433.50" y1="317.40" x2="507.30" y2="317.40" stroke="#e5142f" stroke-width="1.35" />
<line x1="433.50" y1="272.00" x2="507.30" y2="272.00" stroke="#151535" stroke-width="1" />
<line x1="507.30" y1="272.00" x2="507.30" y2="346.00" stroke="#151535" stroke-width="1" />
<line x1="433.50" y1="344.70" x2="507.30" y2="344.70" stroke="#5a68a8" stroke-width="0.9" />
<line x1="434.70" y1="272.00" x2="434.70" y2="346.00" stroke="#000" stroke-width="1.2" />
<line x1="433.00" y1="345.70" x2="507.30" y2="345.70" stroke="#000" stroke-width="1.2" />
<path d="M430.60 344.90h3.4v1.2h-3.4zM433.80 346.00h1.2v2.8h-1.2zM430.60 341.29h3.4v1.2h-3.4zM437.41 346.00h1.2v2.8h-1.2zM430.60 339.17h3.4v1.2h-3.4zM439.53 346.00h1.2v2.8h-1.2zM430.60 337.68h3.4v1.2h-3.4zM441.02 346.00h1.2v2.8h-1.2zM430.60 336.51h3.4v1.2h-3.4zM442.19 346.00h1.2v2.8h-1.2zM430.60 335.56h3.4v1.2h-3.4zM443.14 346.00h1.2v2.8h-1.2zM430.60 334.76h3.4v1.2h-3.4zM443.94 346.00h1.2v2.8h-1.2zM430.60 334.06h3.4v1.2h-3.4zM444.64 346.00h1.2v2.8h-1.2zM430.60 333.45h3.4v1.2h-3.4zM445.25 346.00h1.2v2.8h-1.2zM430.60 332.90h3.4v1.2h-3.4zM445.80 346.00h1.2v2.8h-1.2zM430.60 329.29h3.4v1.2h-3.4zM449.41 346.00h1.2v2.8h-1.2zM430.60 327.17h3.4v1.2h-3.4zM451.53 346.00h1.2v2.8h-1.2zM430.60 325.68h3.4v1.2h-3.4zM453.02 346.00h1.2v2.8h-1.2zM430.60 324.51h3.4v1.2h-3.4zM454.19 346.00h1.2v2.8h-1.2zM430.60 323.56h3.4v1.2h-3.4zM455.14 346.00h1.2v2.8h-1.2zM430.60 322.76h3.4v1.2h-3.4zM455.94 346.00h1.2v2.8h-1.2zM430.60 322.06h3.4v1.2h-3.4zM456.64 346.00h1.2v2.8h-1.2zM430.60 321.45h3.4v1.2h-3.4zM457.25 346.00h1.2v2.8h-1.2zM430.60 320.90h3.4v1.2h-3.4zM457.80 346.00h1.2v2.8h-1.2zM430.60 317.29h3.4v1.2h-3.4zM461.41 346.00h1.2v2.8h-1.2zM430.60 315.17h3.4v1.2h-3.4zM463.53 346.00h1.2v2.8h-1.2zM430.60 313.68h3.4v1.2h-3.4zM465.02 346.00h1.2v2.8h-1.2zM430.60 312.51h3.4v1.2h-3.4zM466.19 346.00h1.2v2.8h-1.2zM430.60 311.56h3.4v1.2h-3.4zM467.14 346.00h1.2v2.8h-1.2zM430.60 310.76h3.4v1.2h-3.4zM467.94 346.00h1.2v2.8h-1.2zM430.60 310.06h3.4v1.2h-3.4zM468.64 346.00h1.2v2.8h-1.2zM430.60 309.45h3.4v1.2h-3.4zM469.25 346.00h1.2v2.8h-1.2zM430.60 308.90h3.4v1.2h-3.4zM469.80 346.00h1.2v2.8h-1.2zM430.60 305.29h3.4v1.2h-3.4zM473.41 346.00h1.2v2.8h-1.2zM430.60 303.17h3.4v1.2h-3.4zM475.53 346.00h1.2v2.8h-1.2zM430.60 301.68h3.4v1.2h-3.4zM477.02 346.00h1.2v2.8h-1.2zM430.60 300.51h3.4v1.2h-3.4zM478.19 346.00h1.2v2.8h-1.2zM430.60 299.56h3.4v1.2h-3.4zM479.14 346.00h1.2v2.8h-1.2zM430.60 298.76h3.4v1.2h-3.4zM479.94 346.00h1.2v2.8h-1.2zM430.60 298.06h3.4v1.2h-3.4zM480.64 346.00h1.2v2.8h-1.2zM430.60 297.45h3.4v1.2h-3.4zM481.25 346.00h1.2v2.8h-1.2zM430.60 296.90h3.4v1.2h-3.4zM481.80 346.00h1.2v2.8h-1.2zM430.60 293.29h3.4v1.2h-3.4zM485.41 346.00h1.2v2.8h-1.2zM430.60 291.17h3.4v1.2h-3.4zM487.53 346.00h1.2v2.8h-1.2zM430.60 289.68h3.4v1.2h-3.4zM489.02 346.00h1.2v2.8h-1.2zM430.60 288.51h3.4v1.2h-3.4zM490.19 346.00h1.2v2.8h-1.2zM430.60 287.56h3.4v1.2h-3.4zM491.14 346.00h1.2v2.8h-1.2zM430.60 286.76h3.4v1.2h-3.4zM491.94 346.00h1.2v2.8h-1.2zM430.60 286.06h3.4v1.2h-3.4zM492.64 346.00h1.2v2.8h-1.2zM430.60 285.45h3.4v1.2h-3.4zM493.25 346.00h1.2v2.8h-1.2zM430.60 284.90h3.4v1.2h-3.4zM493.80 346.00h1.2v2.8h-1.2zM430.60 281.29h3.4v1.2h-3.4zM497.41 346.00h1.2v2.8h-1.2zM430.60 279.17h3.4v1.2h-3.4zM499.53 346.00h1.2v2.8h-1.2zM430.60 277.68h3.4v1.2h-3.4zM501.02 346.00h1.2v2.8h-1.2zM430.60 276.51h3.4v1.2h-3.4zM502.19 346.00h1.2v2.8h-1.2zM430.60 275.56h3.4v1.2h-3.4zM503.14 346.00h1.2v2.8h-1.2zM430.60 274.76h3.4v1.2h-3.4zM503.94 346.00h1.2v2.8h-1.2zM430.60 274.06h3.4v1.2h-3.4zM504.64 346.00h1.2v2.8h-1.2zM430.60 273.45h3.4v1.2h-3.4zM505.25 346.00h1.2v2.8h-1.2zM430.60 272.90h3.4v1.2h-3.4zM505.80 346.00h1.2v2.8h-1.2z" fill="#000"/>
<text x="435.4" y="281.4" font-size="8.3" fill="#b8284e" stroke="#b8284e" stroke-width="0.15">1.2%</text>
<text x="504.6" y="281.4" font-size="8.3" fill="#b8284e" text-anchor="end" stroke="#b8284e" stroke-width="0.15">52%</text>
<text x="435.4" y="343.5" font-size="8.3" fill="#b8284e" stroke="#b8284e" stroke-width="0.15">1.9%</text>
<text x="503.5" y="343.5" font-size="8.3" fill="#b8284e" text-anchor="end" stroke="#b8284e" stroke-width="0.15">4.5%</text>
<text x="432.40" y="358.9" font-size="9.0" fill="#1a1a1a" text-anchor="middle" textLength="8.2" lengthAdjust="spacingAndGlyphs">10</text><text x="436.60" y="354.5" font-size="6.4" fill="#1a1a1a">1</text>
<text x="456.40" y="358.9" font-size="9.0" fill="#1a1a1a" text-anchor="middle" textLength="8.2" lengthAdjust="spacingAndGlyphs">10</text><text x="460.60" y="354.5" font-size="6.4" fill="#1a1a1a">3</text>
<text x="480.40" y="358.9" font-size="9.0" fill="#1a1a1a" text-anchor="middle" textLength="8.2" lengthAdjust="spacingAndGlyphs">10</text><text x="484.60" y="354.5" font-size="6.4" fill="#1a1a1a">5</text>
<text x="504.40" y="358.9" font-size="9.0" fill="#1a1a1a" text-anchor="middle" textLength="8.2" lengthAdjust="spacingAndGlyphs">10</text><text x="508.60" y="354.5" font-size="6.4" fill="#1a1a1a">7</text>
<text x="41.5" y="348.50" font-size="9.0" fill="#1a1a1a" text-anchor="end" textLength="8.3" lengthAdjust="spacingAndGlyphs">10</text><text x="41.9" y="344.10" font-size="6.4" fill="#1a1a1a">1</text>
<text x="41.5" y="324.50" font-size="9.0" fill="#1a1a1a" text-anchor="end" textLength="8.3" lengthAdjust="spacingAndGlyphs">10</text><text x="41.9" y="320.10" font-size="6.4" fill="#1a1a1a">3</text>
<text x="41.5" y="300.50" font-size="9.0" fill="#1a1a1a" text-anchor="end" textLength="8.3" lengthAdjust="spacingAndGlyphs">10</text><text x="41.9" y="296.10" font-size="6.4" fill="#1a1a1a">5</text>
<text x="41.5" y="276.50" font-size="9.0" fill="#1a1a1a" text-anchor="end" textLength="8.3" lengthAdjust="spacingAndGlyphs">10</text><text x="41.9" y="272.10" font-size="6.4" fill="#1a1a1a">7</text>
<text transform="translate(26.8,307.1) rotate(-90)" font-size="10.4" fill="#1a1a1a" text-anchor="middle" textLength="46.2" lengthAdjust="spacingAndGlyphs" >α-4 integrin</text>
<path d="M24.4 370.3 V337.5 M24.4 370.3 H58" stroke="#111" stroke-width="0.9" fill="none"/>
<path d="M24.4 334.6 L22.3 339.8 L26.5 339.8 Z" fill="#111"/>
<path d="M61 370.3 L55.8 368.2 L55.8 372.4 Z" fill="#111"/>
<text x="64.0" y="373.2" font-size="10.8" fill="#1a1a1a" textLength="27.6" lengthAdjust="spacingAndGlyphs" >Band 3</text>
<text x="8.9" y="391.9" font-size="13.8" fill="#000" font-weight="bold" >C</text>
<line x1="52.60" y1="400.40" x2="52.60" y2="517.20" stroke="#222" stroke-width="1.1" />
<line x1="222.10" y1="400.40" x2="222.10" y2="517.20" stroke="#222" stroke-width="1.1" />
<line x1="52.60" y1="516.70" x2="222.10" y2="516.70" stroke="#222" stroke-width="1.1" />
<line x1="49.30" y1="516.70" x2="52.60" y2="516.70" stroke="#222" stroke-width="1" />
<line x1="222.10" y1="516.70" x2="225.30" y2="516.70" stroke="#222" stroke-width="1" />
<text x="45.9" y="519.8000000000001" font-size="8.7" fill="#1a1a1a" text-anchor="end" >0</text>
<text x="228.8" y="519.8000000000001" font-size="8.7" fill="#1a1a1a" >0</text>
<line x1="49.30" y1="493.96" x2="52.60" y2="493.96" stroke="#222" stroke-width="1" />
<line x1="222.10" y1="493.96" x2="225.30" y2="493.96" stroke="#222" stroke-width="1" />
<text x="45.9" y="497.06000000000006" font-size="8.7" fill="#1a1a1a" text-anchor="end" >20</text>
<text x="228.8" y="497.06000000000006" font-size="8.7" fill="#1a1a1a" >20</text>
<line x1="49.30" y1="471.22" x2="52.60" y2="471.22" stroke="#222" stroke-width="1" />
<line x1="222.10" y1="471.22" x2="225.30" y2="471.22" stroke="#222" stroke-width="1" />
<text x="45.9" y="474.32000000000005" font-size="8.7" fill="#1a1a1a" text-anchor="end" >40</text>
<text x="228.8" y="474.32000000000005" font-size="8.7" fill="#1a1a1a" >40</text>
<line x1="49.30" y1="448.48" x2="52.60" y2="448.48" stroke="#222" stroke-width="1" />
<line x1="222.10" y1="448.48" x2="225.30" y2="448.48" stroke="#222" stroke-width="1" />
<text x="45.9" y="451.58000000000004" font-size="8.7" fill="#1a1a1a" text-anchor="end" >60</text>
<text x="228.8" y="451.58000000000004" font-size="8.7" fill="#1a1a1a" >60</text>
<line x1="49.30" y1="425.74" x2="52.60" y2="425.74" stroke="#222" stroke-width="1" />
<line x1="222.10" y1="425.74" x2="225.30" y2="425.74" stroke="#222" stroke-width="1" />
<text x="45.9" y="428.84000000000003" font-size="8.7" fill="#1a1a1a" text-anchor="end" >80</text>
<text x="228.8" y="428.84000000000003" font-size="8.7" fill="#1a1a1a" >80</text>
<line x1="49.30" y1="403.00" x2="52.60" y2="403.00" stroke="#222" stroke-width="1" />
<line x1="222.10" y1="403.00" x2="225.30" y2="403.00" stroke="#222" stroke-width="1" />
<text x="45.9" y="406.1000000000001" font-size="8.7" fill="#1a1a1a" text-anchor="end" >100</text>
<text x="228.8" y="406.1000000000001" font-size="8.7" fill="#1a1a1a" >100</text>
<line x1="52.50" y1="516.70" x2="52.50" y2="519.50" stroke="#222" stroke-width="1" />
<text x="52.5" y="532.0" font-size="8.7" fill="#1a1a1a" text-anchor="middle" >0</text>
<line x1="73.70" y1="516.70" x2="73.70" y2="519.50" stroke="#222" stroke-width="1" />
<text x="73.7" y="532.0" font-size="8.7" fill="#1a1a1a" text-anchor="middle" >1</text>
<line x1="94.90" y1="516.70" x2="94.90" y2="519.50" stroke="#222" stroke-width="1" />
<text x="94.9" y="532.0" font-size="8.7" fill="#1a1a1a" text-anchor="middle" >2</text>
<line x1="116.10" y1="516.70" x2="116.10" y2="519.50" stroke="#222" stroke-width="1" />
<text x="116.1" y="532.0" font-size="8.7" fill="#1a1a1a" text-anchor="middle" >3</text>
<line x1="137.30" y1="516.70" x2="137.30" y2="519.50" stroke="#222" stroke-width="1" />
<text x="137.3" y="532.0" font-size="8.7" fill="#1a1a1a" text-anchor="middle" >4</text>
<line x1="158.50" y1="516.70" x2="158.50" y2="519.50" stroke="#222" stroke-width="1" />
<text x="158.5" y="532.0" font-size="8.7" fill="#1a1a1a" text-anchor="middle" >5</text>
<line x1="179.70" y1="516.70" x2="179.70" y2="519.50" stroke="#222" stroke-width="1" />
<text x="179.7" y="532.0" font-size="8.7" fill="#1a1a1a" text-anchor="middle" >6</text>
<line x1="200.90" y1="516.70" x2="200.90" y2="519.50" stroke="#222" stroke-width="1" />
<text x="200.9" y="532.0" font-size="8.7" fill="#1a1a1a" text-anchor="middle" >7</text>
<line x1="222.10" y1="516.70" x2="222.10" y2="519.50" stroke="#222" stroke-width="1" />
<text x="222.1" y="532.0" font-size="8.7" fill="#1a1a1a" text-anchor="middle" >8</text>
<text x="137.2" y="546.3" font-size="10.3" fill="#1a1a1a" text-anchor="middle" textLength="107.3" lengthAdjust="spacingAndGlyphs" >Days of differentiation (dod)</text>
<text transform="translate(24.6,458.0) rotate(-90)" font-size="10.6" fill="#1a1a1a" text-anchor="middle" textLength="55.6" lengthAdjust="spacingAndGlyphs" >Expression (%)</text>
<text transform="translate(244.8,458.9) rotate(90)" font-size="10.6" fill="#1a1a1a" text-anchor="middle" textLength="63.7" lengthAdjust="spacingAndGlyphs" >Reticulocytes (%)</text>
<path d="M52.50 418.46 C55.89 417.08 66.92 411.70 73.70 409.82 C80.48 407.95 88.12 407.39 94.90 406.75 C101.68 406.12 109.32 405.81 116.10 405.84 C122.88 405.88 130.52 406.52 137.30 406.98 C144.08 407.43 151.72 407.87 158.50 408.69 C165.28 409.50 172.92 409.91 179.70 412.10 C186.48 414.28 194.12 418.58 200.90 422.33 C207.68 426.08 218.71 433.41 222.10 435.52" stroke="#2b4c8c" stroke-width="1.5" fill="none"/>
<path d="M52.50 515.34 C55.89 514.19 66.92 510.94 73.70 508.17 C80.48 505.41 88.12 502.87 94.90 498.05 C101.68 493.23 109.32 485.59 116.10 478.04 C122.88 470.49 130.52 458.33 137.30 450.87 C144.08 443.41 151.72 436.48 158.50 431.43 C165.28 426.37 172.92 421.86 179.70 419.26 C186.48 416.66 194.12 415.86 200.90 415.17 C207.68 414.47 218.71 414.97 222.10 414.94" stroke="#6ab043" stroke-width="1.5" fill="none"/>
<path d="M52.50 509.20 C55.89 502.76 66.92 480.24 73.70 468.95 C80.48 457.65 88.12 446.41 94.90 438.59 C101.68 430.77 109.32 424.69 116.10 420.06 C122.88 415.42 130.52 411.81 137.30 409.59 C144.08 407.38 151.72 406.77 158.50 406.18 C165.28 405.60 172.92 405.77 179.70 405.96 C186.48 406.14 194.12 406.74 200.90 407.32 C207.68 407.90 218.71 409.23 222.10 409.59" stroke="#b3133b" stroke-width="1.5" fill="none"/>
<path d="M52.50 406.18 C55.89 406.04 66.92 405.49 73.70 405.27 C80.48 405.06 88.12 404.86 94.90 404.82 C101.68 404.78 109.32 404.83 116.10 405.05 C122.88 405.26 130.52 405.33 137.30 406.18 C144.08 407.04 151.72 408.17 158.50 410.39 C165.28 412.61 172.92 414.69 179.70 420.06 C186.48 425.42 194.12 434.34 200.90 443.93 C207.68 453.52 218.71 474.21 222.10 479.97" stroke="#e8941c" stroke-width="1.5" fill="none"/>
<path d="M52.50 516.70 C55.89 516.70 66.92 516.70 73.70 516.70 C80.48 516.70 88.12 516.81 94.90 516.70 C101.68 516.59 109.32 516.45 116.10 516.02 C122.88 515.58 130.52 515.23 137.30 513.97 C144.08 512.72 151.72 510.46 158.50 508.17 C165.28 505.88 172.92 503.19 179.70 499.65 C186.48 496.10 194.12 491.24 200.90 486.00 C207.68 480.76 218.71 469.96 222.10 466.90" stroke="#4a1a6c" stroke-width="1.5" fill="none"/>
<line x1="52.50" y1="411.64" x2="52.50" y2="425.29" stroke="#2b4c8c" stroke-width="1" />
<line x1="50.90" y1="411.64" x2="54.10" y2="411.64" stroke="#2b4c8c" stroke-width="1" />
<line x1="50.90" y1="425.29" x2="54.10" y2="425.29" stroke="#2b4c8c" stroke-width="1" />
<circle cx="52.50" cy="418.46" r="2.00" fill="#2b4c8c" />
<line x1="94.90" y1="405.05" x2="94.90" y2="408.46" stroke="#2b4c8c" stroke-width="1" />
<line x1="93.30" y1="405.05" x2="96.50" y2="405.05" stroke="#2b4c8c" stroke-width="1" />
<line x1="93.30" y1="408.46" x2="96.50" y2="408.46" stroke="#2b4c8c" stroke-width="1" />
<circle cx="94.90" cy="406.75" r="2.00" fill="#2b4c8c" />
<line x1="137.30" y1="405.27" x2="137.30" y2="408.69" stroke="#2b4c8c" stroke-width="1" />
<line x1="135.70" y1="405.27" x2="138.90" y2="405.27" stroke="#2b4c8c" stroke-width="1" />
<line x1="135.70" y1="408.69" x2="138.90" y2="408.69" stroke="#2b4c8c" stroke-width="1" />
<circle cx="137.30" cy="406.98" r="2.00" fill="#2b4c8c" />
<line x1="179.70" y1="409.82" x2="179.70" y2="414.37" stroke="#2b4c8c" stroke-width="1" />
<line x1="178.10" y1="409.82" x2="181.30" y2="409.82" stroke="#2b4c8c" stroke-width="1" />
<line x1="178.10" y1="414.37" x2="181.30" y2="414.37" stroke="#2b4c8c" stroke-width="1" />
<circle cx="179.70" cy="412.10" r="2.00" fill="#2b4c8c" />
<line x1="222.10" y1="412.78" x2="222.10" y2="458.26" stroke="#2b4c8c" stroke-width="1" />
<line x1="220.50" y1="412.78" x2="223.70" y2="412.78" stroke="#2b4c8c" stroke-width="1" />
<line x1="220.50" y1="458.26" x2="223.70" y2="458.26" stroke="#2b4c8c" stroke-width="1" />
<circle cx="222.10" cy="435.52" r="2.00" fill="#2b4c8c" />
<circle cx="52.50" cy="515.34" r="2.00" fill="#6ab043" />
<line x1="94.90" y1="479.86" x2="94.90" y2="516.25" stroke="#6ab043" stroke-width="1" />
<line x1="93.30" y1="479.86" x2="96.50" y2="479.86" stroke="#6ab043" stroke-width="1" />
<line x1="93.30" y1="516.25" x2="96.50" y2="516.25" stroke="#6ab043" stroke-width="1" />
<circle cx="94.90" cy="498.05" r="2.00" fill="#6ab043" />
<line x1="137.30" y1="434.95" x2="137.30" y2="466.79" stroke="#6ab043" stroke-width="1" />
<line x1="135.70" y1="434.95" x2="138.90" y2="434.95" stroke="#6ab043" stroke-width="1" />
<line x1="135.70" y1="466.79" x2="138.90" y2="466.79" stroke="#6ab043" stroke-width="1" />
<circle cx="137.30" cy="450.87" r="2.00" fill="#6ab043" />
<line x1="179.70" y1="414.71" x2="179.70" y2="423.81" stroke="#6ab043" stroke-width="1" />
<line x1="178.10" y1="414.71" x2="181.30" y2="414.71" stroke="#6ab043" stroke-width="1" />
<line x1="178.10" y1="423.81" x2="181.30" y2="423.81" stroke="#6ab043" stroke-width="1" />
<circle cx="179.70" cy="419.26" r="2.00" fill="#6ab043" />
<line x1="222.10" y1="409.25" x2="222.10" y2="420.62" stroke="#6ab043" stroke-width="1" />
<line x1="220.50" y1="409.25" x2="223.70" y2="409.25" stroke="#6ab043" stroke-width="1" />
<line x1="220.50" y1="420.62" x2="223.70" y2="420.62" stroke="#6ab043" stroke-width="1" />
<circle cx="222.10" cy="414.94" r="2.00" fill="#6ab043" />
<line x1="52.50" y1="501.81" x2="52.50" y2="516.59" stroke="#b3133b" stroke-width="1" />
<line x1="50.90" y1="501.81" x2="54.10" y2="501.81" stroke="#b3133b" stroke-width="1" />
<line x1="50.90" y1="516.59" x2="54.10" y2="516.59" stroke="#b3133b" stroke-width="1" />
<circle cx="52.50" cy="509.20" r="2.00" fill="#b3133b" />
<line x1="94.90" y1="427.90" x2="94.90" y2="449.28" stroke="#b3133b" stroke-width="1" />
<line x1="93.30" y1="427.90" x2="96.50" y2="427.90" stroke="#b3133b" stroke-width="1" />
<line x1="93.30" y1="449.28" x2="96.50" y2="449.28" stroke="#b3133b" stroke-width="1" />
<circle cx="94.90" cy="438.59" r="2.00" fill="#b3133b" />
<line x1="137.30" y1="405.05" x2="137.30" y2="414.14" stroke="#b3133b" stroke-width="1" />
<line x1="135.70" y1="405.05" x2="138.90" y2="405.05" stroke="#b3133b" stroke-width="1" />
<line x1="135.70" y1="414.14" x2="138.90" y2="414.14" stroke="#b3133b" stroke-width="1" />
<circle cx="137.30" cy="409.59" r="2.00" fill="#b3133b" />
<line x1="179.70" y1="403.68" x2="179.70" y2="408.23" stroke="#b3133b" stroke-width="1" />
<line x1="178.10" y1="403.68" x2="181.30" y2="403.68" stroke="#b3133b" stroke-width="1" />
<line x1="178.10" y1="408.23" x2="181.30" y2="408.23" stroke="#b3133b" stroke-width="1" />
<circle cx="179.70" cy="405.96" r="2.00" fill="#b3133b" />
<line x1="222.10" y1="403.91" x2="222.10" y2="415.28" stroke="#b3133b" stroke-width="1" />
<line x1="220.50" y1="403.91" x2="223.70" y2="403.91" stroke="#b3133b" stroke-width="1" />
<line x1="220.50" y1="415.28" x2="223.70" y2="415.28" stroke="#b3133b" stroke-width="1" />
<circle cx="222.10" cy="409.59" r="2.00" fill="#b3133b" />
<line x1="52.50" y1="403.91" x2="52.50" y2="408.46" stroke="#e8941c" stroke-width="1" />
<line x1="50.90" y1="403.91" x2="54.10" y2="403.91" stroke="#e8941c" stroke-width="1" />
<line x1="50.90" y1="408.46" x2="54.10" y2="408.46" stroke="#e8941c" stroke-width="1" />
<circle cx="52.50" cy="406.18" r="2.00" fill="#e8941c" />
<line x1="94.90" y1="403.68" x2="94.90" y2="405.96" stroke="#e8941c" stroke-width="1" />
<line x1="93.30" y1="403.68" x2="96.50" y2="403.68" stroke="#e8941c" stroke-width="1" />
<line x1="93.30" y1="405.96" x2="96.50" y2="405.96" stroke="#e8941c" stroke-width="1" />
<circle cx="94.90" cy="404.82" r="2.00" fill="#e8941c" />
<line x1="137.30" y1="403.91" x2="137.30" y2="408.46" stroke="#e8941c" stroke-width="1" />
<line x1="135.70" y1="403.91" x2="138.90" y2="403.91" stroke="#e8941c" stroke-width="1" />
<line x1="135.70" y1="408.46" x2="138.90" y2="408.46" stroke="#e8941c" stroke-width="1" />
<circle cx="137.30" cy="406.18" r="2.00" fill="#e8941c" />
<line x1="179.70" y1="403.00" x2="179.70" y2="437.11" stroke="#e8941c" stroke-width="1" />
<line x1="178.10" y1="403.00" x2="181.30" y2="403.00" stroke="#e8941c" stroke-width="1" />
<line x1="178.10" y1="437.11" x2="181.30" y2="437.11" stroke="#e8941c" stroke-width="1" />
<circle cx="179.70" cy="420.06" r="2.00" fill="#e8941c" />
<line x1="222.10" y1="460.65" x2="222.10" y2="499.30" stroke="#e8941c" stroke-width="1" />
<line x1="220.50" y1="460.65" x2="223.70" y2="460.65" stroke="#e8941c" stroke-width="1" />
<line x1="220.50" y1="499.30" x2="223.70" y2="499.30" stroke="#e8941c" stroke-width="1" />
<circle cx="222.10" cy="479.97" r="2.00" fill="#e8941c" />
<circle cx="52.50" cy="516.70" r="2.00" fill="#4a1a6c" />
<circle cx="94.90" cy="516.70" r="2.00" fill="#4a1a6c" />
<line x1="137.30" y1="510.56" x2="137.30" y2="516.70" stroke="#4a1a6c" stroke-width="1" />
<line x1="135.70" y1="510.56" x2="138.90" y2="510.56" stroke="#4a1a6c" stroke-width="1" />
<line x1="135.70" y1="516.70" x2="138.90" y2="516.70" stroke="#4a1a6c" stroke-width="1" />
<circle cx="137.30" cy="513.97" r="2.00" fill="#4a1a6c" />
<line x1="179.70" y1="493.39" x2="179.70" y2="505.90" stroke="#4a1a6c" stroke-width="1" />
<line x1="178.10" y1="493.39" x2="181.30" y2="493.39" stroke="#4a1a6c" stroke-width="1" />
<line x1="178.10" y1="505.90" x2="181.30" y2="505.90" stroke="#4a1a6c" stroke-width="1" />
<circle cx="179.70" cy="499.65" r="2.00" fill="#4a1a6c" />
<line x1="222.10" y1="458.94" x2="222.10" y2="474.86" stroke="#4a1a6c" stroke-width="1" />
<line x1="220.50" y1="458.94" x2="223.70" y2="458.94" stroke="#4a1a6c" stroke-width="1" />
<line x1="220.50" y1="474.86" x2="223.70" y2="474.86" stroke="#4a1a6c" stroke-width="1" />
<circle cx="222.10" cy="466.90" r="2.00" fill="#4a1a6c" />
<line x1="68.00" y1="557.20" x2="80.60" y2="557.20" stroke="#2b4c8c" stroke-width="1.5" />
<circle cx="74.30" cy="557.20" r="1.90" fill="#2b4c8c" />
<text x="84.2" y="560.2" font-size="8.3" fill="#1a1a1a" textLength="21.1" lengthAdjust="spacingAndGlyphs" >CD71</text>
<line x1="117.00" y1="557.20" x2="129.40" y2="557.20" stroke="#6ab043" stroke-width="1.5" />
<circle cx="123.20" cy="557.20" r="1.90" fill="#6ab043" />
<text x="132.8" y="560.2" font-size="8.3" fill="#1a1a1a" textLength="26.7" lengthAdjust="spacingAndGlyphs" >Band 3</text>
<line x1="169.70" y1="557.20" x2="182.60" y2="557.20" stroke="#b3133b" stroke-width="1.5" />
<circle cx="176.15" cy="557.20" r="1.90" fill="#b3133b" />
<text x="186" y="560.2" font-size="8.3" fill="#1a1a1a" textLength="16.7" lengthAdjust="spacingAndGlyphs" >GPA</text>
<line x1="68.00" y1="570.30" x2="80.60" y2="570.30" stroke="#e8941c" stroke-width="1.5" />
<circle cx="74.30" cy="570.30" r="1.90" fill="#e8941c" />
<text x="84.2" y="573.3" font-size="8.3" fill="#1a1a1a" textLength="44.7" lengthAdjust="spacingAndGlyphs" >α-4-integrin</text>
<line x1="140.40" y1="570.30" x2="152.80" y2="570.30" stroke="#4a1a6c" stroke-width="1.5" />
<circle cx="146.60" cy="570.30" r="1.90" fill="#4a1a6c" />
<text x="156.5" y="573.3" font-size="8.3" fill="#1a1a1a" textLength="49.7" lengthAdjust="spacingAndGlyphs" >Reticulocytes</text>
<text x="276.8" y="392.0" font-size="13.8" fill="#000" font-weight="bold" >D</text>
<text x="310.2" y="401.3" font-size="9.9" fill="#1a1a1a" text-anchor="middle" textLength="26.3" lengthAdjust="spacingAndGlyphs" >PRO-E</text>
<text x="310.2" y="412.3" font-size="9.9" fill="#1a1a1a" text-anchor="middle" textLength="30.0" lengthAdjust="spacingAndGlyphs" >(0 dod)</text>
<text x="360.6" y="401.3" font-size="9.9" fill="#1a1a1a" text-anchor="middle" textLength="24.3" lengthAdjust="spacingAndGlyphs" >BASO</text>
<text x="360.6" y="412.3" font-size="9.9" fill="#1a1a1a" text-anchor="middle" textLength="30.0" lengthAdjust="spacingAndGlyphs" >(2 dod)</text>
<text x="408.3" y="401.3" font-size="9.9" fill="#1a1a1a" text-anchor="middle" textLength="21.8" lengthAdjust="spacingAndGlyphs" >POLY</text>
<text x="408.3" y="412.3" font-size="9.9" fill="#1a1a1a" text-anchor="middle" textLength="30.0" lengthAdjust="spacingAndGlyphs" >(4 dod)</text>
<text x="454.6" y="401.3" font-size="9.9" fill="#1a1a1a" text-anchor="middle" textLength="31.5" lengthAdjust="spacingAndGlyphs" >ORTHO</text>
<text x="454.6" y="412.3" font-size="9.9" fill="#1a1a1a" text-anchor="middle" textLength="30.0" lengthAdjust="spacingAndGlyphs" >(6 dod)</text>
<circle cx="310.75" cy="436.25" r="17.00" fill="#5e2a80" stroke="#111" stroke-width="0.9" />
<circle cx="308.70" cy="433.60" r="12.20" fill="#7548a8" stroke="#111" stroke-width="0.9" />
<circle cx="358.00" cy="436.25" r="15.50" fill="#8a5c98" stroke="#111" stroke-width="0.9" />
<circle cx="356.20" cy="435.00" r="10.50" fill="#6c44a4" stroke="#111" stroke-width="0.9" />
<circle cx="408.25" cy="436.25" r="14.00" fill="#8c84c8" stroke="#111" stroke-width="0.9" />
<circle cx="405.00" cy="435.00" r="8.80" fill="#6a48a8" stroke="#111" stroke-width="0.9" />
<circle cx="455.50" cy="436.25" r="13.00" fill="#e4a2c8" stroke="#111" stroke-width="0.9" />
<circle cx="450.80" cy="434.30" r="6.60" fill="#6a48a8" stroke="#111" stroke-width="0.9" />
<line x1="300.60" y1="456.70" x2="304.40" y2="456.70" stroke="#222" stroke-width="0.8" />
<line x1="302.50" y1="454.80" x2="302.50" y2="458.60" stroke="#222" stroke-width="0.8" />
<circle cx="298.60" cy="470.00" r="8.90" fill="#e6e6ec" stroke="#3a3a3a" stroke-width="0.7" />
<circle cx="298.60" cy="470.00" r="8.00" fill="none" stroke="#a8283a" stroke-width="1.1" />
<circle cx="298.60" cy="470.00" r="7.30" fill="#d2d9ea" />
<ellipse cx="302.50" cy="470.00" rx="2.5" ry="0.85" transform="rotate(0.0 302.50 470.00)" fill="#2f62b0" stroke="#14224a" stroke-width="0.35"/>
<ellipse cx="302.11" cy="471.69" rx="2.5" ry="0.85" transform="rotate(25.7 302.11 471.69)" fill="#2f62b0" stroke="#14224a" stroke-width="0.35"/>
<ellipse cx="301.03" cy="473.05" rx="2.5" ry="0.85" transform="rotate(51.4 301.03 473.05)" fill="#2f62b0" stroke="#14224a" stroke-width="0.35"/>
<ellipse cx="299.47" cy="473.80" rx="2.5" ry="0.85" transform="rotate(77.1 299.47 473.80)" fill="#2f62b0" stroke="#14224a" stroke-width="0.35"/>
<ellipse cx="297.73" cy="473.80" rx="2.5" ry="0.85" transform="rotate(102.9 297.73 473.80)" fill="#2f62b0" stroke="#14224a" stroke-width="0.35"/>
<ellipse cx="296.17" cy="473.05" rx="2.5" ry="0.85" transform="rotate(128.6 296.17 473.05)" fill="#2f62b0" stroke="#14224a" stroke-width="0.35"/>
<ellipse cx="295.09" cy="471.69" rx="2.5" ry="0.85" transform="rotate(154.3 295.09 471.69)" fill="#2f62b0" stroke="#14224a" stroke-width="0.35"/>
<ellipse cx="294.70" cy="470.00" rx="2.5" ry="0.85" transform="rotate(180.0 294.70 470.00)" fill="#2f62b0" stroke="#14224a" stroke-width="0.35"/>
<ellipse cx="295.09" cy="468.31" rx="2.5" ry="0.85" transform="rotate(205.7 295.09 468.31)" fill="#2f62b0" stroke="#14224a" stroke-width="0.35"/>
<ellipse cx="296.17" cy="466.95" rx="2.5" ry="0.85" transform="rotate(231.4 296.17 466.95)" fill="#2f62b0" stroke="#14224a" stroke-width="0.35"/>
<ellipse cx="297.73" cy="466.20" rx="2.5" ry="0.85" transform="rotate(257.1 297.73 466.20)" fill="#2f62b0" stroke="#14224a" stroke-width="0.35"/>
<ellipse cx="299.47" cy="466.20" rx="2.5" ry="0.85" transform="rotate(282.9 299.47 466.20)" fill="#2f62b0" stroke="#14224a" stroke-width="0.35"/>
<ellipse cx="301.03" cy="466.95" rx="2.5" ry="0.85" transform="rotate(308.6 301.03 466.95)" fill="#2f62b0" stroke="#14224a" stroke-width="0.35"/>
<ellipse cx="302.11" cy="468.31" rx="2.5" ry="0.85" transform="rotate(334.3 302.11 468.31)" fill="#2f62b0" stroke="#14224a" stroke-width="0.35"/>
<circle cx="298.60" cy="470.00" r="1.30" fill="#f4f6fa" />
<path d="M310.3 459.0 V530.4 H323.0" stroke="#111" stroke-width="0.9" fill="none"/>
<path d="M327.0 530.4 L321.8 528.3 L321.8 532.5 Z" fill="#111"/>
<text transform="translate(319.7,500.45) rotate(-90)" font-size="9.6" fill="#c01f4a" text-anchor="middle" textLength="33.69999999999993" lengthAdjust="spacingAndGlyphs" >Infection</text>
<rect x="330.00" y="517.30" width="19.20" height="21.00" fill="#fff" stroke="#1a1a1a" stroke-width="1.25" />
<line x1="337.50" y1="517.30" x2="337.50" y2="538.30" stroke="#1a1a1a" stroke-width="1.1" />
<line x1="330.00" y1="530.90" x2="349.20" y2="530.90" stroke="#777" stroke-width="1.3" />
<line x1="335.40" y1="521.10" x2="335.40" y2="528.60" stroke="#2a50a0" stroke-width="1.3" />
<path d="M339.20 522.80 q1.5 -2.5 3 -0.8 q2.2 0.8 1.6 3.5 q0.2 3 -2.5 3.3 q-2.6 0.2 -2.6 -2.5 q-0.5 -2 0.5 -3.5z" fill="#62b44a"/>
<path d="M333.20 533.20 l3.4 -2.0 l0.5 3.6 z" fill="#111"/>
<text x="337.2" y="547.4" font-size="9.4" fill="#1a1a1a" text-anchor="middle" textLength="33.8" lengthAdjust="spacingAndGlyphs" >2-4-6 dpi</text>
<line x1="345.40" y1="455.00" x2="349.20" y2="455.00" stroke="#222" stroke-width="0.8" />
<line x1="347.30" y1="453.10" x2="347.30" y2="456.90" stroke="#222" stroke-width="0.8" />
<circle cx="341.90" cy="469.20" r="8.90" fill="#e6e6ec" stroke="#3a3a3a" stroke-width="0.7" />
<circle cx="341.90" cy="469.20" r="8.00" fill="none" stroke="#a8283a" stroke-width="1.1" />
<circle cx="341.90" cy="469.20" r="7.30" fill="#d2d9ea" />
<ellipse cx="345.80" cy="469.20" rx="2.5" ry="0.85" transform="rotate(0.0 345.80 469.20)" fill="#2f62b0" stroke="#14224a" stroke-width="0.35"/>
<ellipse cx="345.41" cy="470.89" rx="2.5" ry="0.85" transform="rotate(25.7 345.41 470.89)" fill="#2f62b0" stroke="#14224a" stroke-width="0.35"/>
<ellipse cx="344.33" cy="472.25" rx="2.5" ry="0.85" transform="rotate(51.4 344.33 472.25)" fill="#2f62b0" stroke="#14224a" stroke-width="0.35"/>
<ellipse cx="342.77" cy="473.00" rx="2.5" ry="0.85" transform="rotate(77.1 342.77 473.00)" fill="#2f62b0" stroke="#14224a" stroke-width="0.35"/>
<ellipse cx="341.03" cy="473.00" rx="2.5" ry="0.85" transform="rotate(102.9 341.03 473.00)" fill="#2f62b0" stroke="#14224a" stroke-width="0.35"/>
<ellipse cx="339.47" cy="472.25" rx="2.5" ry="0.85" transform="rotate(128.6 339.47 472.25)" fill="#2f62b0" stroke="#14224a" stroke-width="0.35"/>
<ellipse cx="338.39" cy="470.89" rx="2.5" ry="0.85" transform="rotate(154.3 338.39 470.89)" fill="#2f62b0" stroke="#14224a" stroke-width="0.35"/>
<ellipse cx="338.00" cy="469.20" rx="2.5" ry="0.85" transform="rotate(180.0 338.00 469.20)" fill="#2f62b0" stroke="#14224a" stroke-width="0.35"/>
<ellipse cx="338.39" cy="467.51" rx="2.5" ry="0.85" transform="rotate(205.7 338.39 467.51)" fill="#2f62b0" stroke="#14224a" stroke-width="0.35"/>
<ellipse cx="339.47" cy="466.15" rx="2.5" ry="0.85" transform="rotate(231.4 339.47 466.15)" fill="#2f62b0" stroke="#14224a" stroke-width="0.35"/>
<ellipse cx="341.03" cy="465.40" rx="2.5" ry="0.85" transform="rotate(257.1 341.03 465.40)" fill="#2f62b0" stroke="#14224a" stroke-width="0.35"/>
<ellipse cx="342.77" cy="465.40" rx="2.5" ry="0.85" transform="rotate(282.9 342.77 465.40)" fill="#2f62b0" stroke="#14224a" stroke-width="0.35"/>
<ellipse cx="344.33" cy="466.15" rx="2.5" ry="0.85" transform="rotate(308.6 344.33 466.15)" fill="#2f62b0" stroke="#14224a" stroke-width="0.35"/>
<ellipse cx="345.41" cy="467.51" rx="2.5" ry="0.85" transform="rotate(334.3 345.41 467.51)" fill="#2f62b0" stroke="#14224a" stroke-width="0.35"/>
<circle cx="341.90" cy="469.20" r="1.30" fill="#f4f6fa" />
<path d="M358.5 458.8 V513.7 H369.3" stroke="#111" stroke-width="0.9" fill="none"/>
<path d="M373.3 513.7 L368.1 511.6 L368.1 515.8000000000001 Z" fill="#111"/>
<text transform="translate(366.8,485.65) rotate(-90)" font-size="9.6" fill="#c01f4a" text-anchor="middle" textLength="33.69999999999999" lengthAdjust="spacingAndGlyphs" >Infection</text>
<rect x="376.40" y="503.30" width="19.20" height="21.00" fill="#fff" stroke="#1a1a1a" stroke-width="1.25" />
<line x1="383.90" y1="503.30" x2="383.90" y2="524.30" stroke="#1a1a1a" stroke-width="1.1" />
<line x1="376.40" y1="516.90" x2="395.60" y2="516.90" stroke="#777" stroke-width="1.3" />
<line x1="381.80" y1="507.10" x2="381.80" y2="514.60" stroke="#2a50a0" stroke-width="1.3" />
<path d="M385.60 508.80 q1.5 -2.5 3 -0.8 q2.2 0.8 1.6 3.5 q0.2 3 -2.5 3.3 q-2.6 0.2 -2.6 -2.5 q-0.5 -2 0.5 -3.5z" fill="#62b44a"/>
<path d="M379.60 519.20 l3.4 -2.0 l0.5 3.6 z" fill="#111"/>
<text x="384.8" y="534.0" font-size="9.4" fill="#1a1a1a" text-anchor="middle" textLength="33.8" lengthAdjust="spacingAndGlyphs" >2-4-6 dpi</text>
<line x1="395.80" y1="453.50" x2="399.60" y2="453.50" stroke="#222" stroke-width="0.8" />
<line x1="397.70" y1="451.60" x2="397.70" y2="455.40" stroke="#222" stroke-width="0.8" />
<circle cx="396.30" cy="467.90" r="8.90" fill="#e6e6ec" stroke="#3a3a3a" stroke-width="0.7" />
<circle cx="396.30" cy="467.90" r="8.00" fill="none" stroke="#a8283a" stroke-width="1.1" />
<circle cx="396.30" cy="467.90" r="7.30" fill="#d2d9ea" />
<ellipse cx="400.20" cy="467.90" rx="2.5" ry="0.85" transform="rotate(0.0 400.20 467.90)" fill="#2f62b0" stroke="#14224a" stroke-width="0.35"/>
<ellipse cx="399.81" cy="469.59" rx="2.5" ry="0.85" transform="rotate(25.7 399.81 469.59)" fill="#2f62b0" stroke="#14224a" stroke-width="0.35"/>
<ellipse cx="398.73" cy="470.95" rx="2.5" ry="0.85" transform="rotate(51.4 398.73 470.95)" fill="#2f62b0" stroke="#14224a" stroke-width="0.35"/>
<ellipse cx="397.17" cy="471.70" rx="2.5" ry="0.85" transform="rotate(77.1 397.17 471.70)" fill="#2f62b0" stroke="#14224a" stroke-width="0.35"/>
<ellipse cx="395.43" cy="471.70" rx="2.5" ry="0.85" transform="rotate(102.9 395.43 471.70)" fill="#2f62b0" stroke="#14224a" stroke-width="0.35"/>
<ellipse cx="393.87" cy="470.95" rx="2.5" ry="0.85" transform="rotate(128.6 393.87 470.95)" fill="#2f62b0" stroke="#14224a" stroke-width="0.35"/>
<ellipse cx="392.79" cy="469.59" rx="2.5" ry="0.85" transform="rotate(154.3 392.79 469.59)" fill="#2f62b0" stroke="#14224a" stroke-width="0.35"/>
<ellipse cx="392.40" cy="467.90" rx="2.5" ry="0.85" transform="rotate(180.0 392.40 467.90)" fill="#2f62b0" stroke="#14224a" stroke-width="0.35"/>
<ellipse cx="392.79" cy="466.21" rx="2.5" ry="0.85" transform="rotate(205.7 392.79 466.21)" fill="#2f62b0" stroke="#14224a" stroke-width="0.35"/>
<ellipse cx="393.87" cy="464.85" rx="2.5" ry="0.85" transform="rotate(231.4 393.87 464.85)" fill="#2f62b0" stroke="#14224a" stroke-width="0.35"/>
<ellipse cx="395.43" cy="464.10" rx="2.5" ry="0.85" transform="rotate(257.1 395.43 464.10)" fill="#2f62b0" stroke="#14224a" stroke-width="0.35"/>
<ellipse cx="397.17" cy="464.10" rx="2.5" ry="0.85" transform="rotate(282.9 397.17 464.10)" fill="#2f62b0" stroke="#14224a" stroke-width="0.35"/>
<ellipse cx="398.73" cy="464.85" rx="2.5" ry="0.85" transform="rotate(308.6 398.73 464.85)" fill="#2f62b0" stroke="#14224a" stroke-width="0.35"/>
<ellipse cx="399.81" cy="466.21" rx="2.5" ry="0.85" transform="rotate(334.3 399.81 466.21)" fill="#2f62b0" stroke="#14224a" stroke-width="0.35"/>
<circle cx="396.30" cy="467.90" r="1.30" fill="#f4f6fa" />
<path d="M407.9 458.8 V496.7 H419.3" stroke="#111" stroke-width="0.9" fill="none"/>
<path d="M423.3 496.7 L418.1 494.59999999999997 L418.1 498.8 Z" fill="#111"/>
<text transform="translate(416.8,475.15) rotate(-90)" font-size="9.6" fill="#c01f4a" text-anchor="middle" textLength="33.69999999999999" lengthAdjust="spacingAndGlyphs" >Infection</text>
<rect x="426.40" y="485.60" width="19.20" height="21.00" fill="#fff" stroke="#1a1a1a" stroke-width="1.25" />
<line x1="433.90" y1="485.60" x2="433.90" y2="506.60" stroke="#1a1a1a" stroke-width="1.1" />
<line x1="426.40" y1="499.20" x2="445.60" y2="499.20" stroke="#777" stroke-width="1.3" />
<line x1="431.80" y1="489.40" x2="431.80" y2="496.90" stroke="#2a50a0" stroke-width="1.3" />
<path d="M435.60 491.10 q1.5 -2.5 3 -0.8 q2.2 0.8 1.6 3.5 q0.2 3 -2.5 3.3 q-2.6 0.2 -2.6 -2.5 q-0.5 -2 0.5 -3.5z" fill="#62b44a"/>
<path d="M429.60 501.50 l3.4 -2.0 l0.5 3.6 z" fill="#111"/>
<text x="434.8" y="516.0" font-size="9.4" fill="#1a1a1a" text-anchor="middle" textLength="33.8" lengthAdjust="spacingAndGlyphs" >2-4-6 dpi</text>
<line x1="447.50" y1="453.10" x2="451.30" y2="453.10" stroke="#222" stroke-width="0.8" />
<line x1="449.40" y1="451.20" x2="449.40" y2="455.00" stroke="#222" stroke-width="0.8" />
<circle cx="444.60" cy="466.90" r="8.90" fill="#e6e6ec" stroke="#3a3a3a" stroke-width="0.7" />
<circle cx="444.60" cy="466.90" r="8.00" fill="none" stroke="#a8283a" stroke-width="1.1" />
<circle cx="444.60" cy="466.90" r="7.30" fill="#d2d9ea" />
<ellipse cx="448.50" cy="466.90" rx="2.5" ry="0.85" transform="rotate(0.0 448.50 466.90)" fill="#2f62b0" stroke="#14224a" stroke-width="0.35"/>
<ellipse cx="448.11" cy="468.59" rx="2.5" ry="0.85" transform="rotate(25.7 448.11 468.59)" fill="#2f62b0" stroke="#14224a" stroke-width="0.35"/>
<ellipse cx="447.03" cy="469.95" rx="2.5" ry="0.85" transform="rotate(51.4 447.03 469.95)" fill="#2f62b0" stroke="#14224a" stroke-width="0.35"/>
<ellipse cx="445.47" cy="470.70" rx="2.5" ry="0.85" transform="rotate(77.1 445.47 470.70)" fill="#2f62b0" stroke="#14224a" stroke-width="0.35"/>
<ellipse cx="443.73" cy="470.70" rx="2.5" ry="0.85" transform="rotate(102.9 443.73 470.70)" fill="#2f62b0" stroke="#14224a" stroke-width="0.35"/>
<ellipse cx="442.17" cy="469.95" rx="2.5" ry="0.85" transform="rotate(128.6 442.17 469.95)" fill="#2f62b0" stroke="#14224a" stroke-width="0.35"/>
<ellipse cx="441.09" cy="468.59" rx="2.5" ry="0.85" transform="rotate(154.3 441.09 468.59)" fill="#2f62b0" stroke="#14224a" stroke-width="0.35"/>
<ellipse cx="440.70" cy="466.90" rx="2.5" ry="0.85" transform="rotate(180.0 440.70 466.90)" fill="#2f62b0" stroke="#14224a" stroke-width="0.35"/>
<ellipse cx="441.09" cy="465.21" rx="2.5" ry="0.85" transform="rotate(205.7 441.09 465.21)" fill="#2f62b0" stroke="#14224a" stroke-width="0.35"/>
<ellipse cx="442.17" cy="463.85" rx="2.5" ry="0.85" transform="rotate(231.4 442.17 463.85)" fill="#2f62b0" stroke="#14224a" stroke-width="0.35"/>
<ellipse cx="443.73" cy="463.10" rx="2.5" ry="0.85" transform="rotate(257.1 443.73 463.10)" fill="#2f62b0" stroke="#14224a" stroke-width="0.35"/>
<ellipse cx="445.47" cy="463.10" rx="2.5" ry="0.85" transform="rotate(282.9 445.47 463.10)" fill="#2f62b0" stroke="#14224a" stroke-width="0.35"/>
<ellipse cx="447.03" cy="463.85" rx="2.5" ry="0.85" transform="rotate(308.6 447.03 463.85)" fill="#2f62b0" stroke="#14224a" stroke-width="0.35"/>
<ellipse cx="448.11" cy="465.21" rx="2.5" ry="0.85" transform="rotate(334.3 448.11 465.21)" fill="#2f62b0" stroke="#14224a" stroke-width="0.35"/>
<circle cx="444.60" cy="466.90" r="1.30" fill="#f4f6fa" />
<path d="M455.8 462.7 V485.2 H467.9" stroke="#111" stroke-width="0.9" fill="none"/>
<path d="M471.9 485.2 L466.7 483.09999999999997 L466.7 487.3 Z" fill="#111"/>
<text transform="translate(463.7,466.95000000000005) rotate(-90)" font-size="9.6" fill="#c01f4a" text-anchor="middle" textLength="32.69999999999999" lengthAdjust="spacingAndGlyphs" >Infection</text>
<rect x="474.40" y="472.30" width="19.20" height="21.00" fill="#fff" stroke="#1a1a1a" stroke-width="1.25" />
<line x1="481.90" y1="472.30" x2="481.90" y2="493.30" stroke="#1a1a1a" stroke-width="1.1" />
<line x1="474.40" y1="485.90" x2="493.60" y2="485.90" stroke="#777" stroke-width="1.3" />
<line x1="479.80" y1="476.10" x2="479.80" y2="483.60" stroke="#2a50a0" stroke-width="1.3" />
<path d="M483.60 477.80 q1.5 -2.5 3 -0.8 q2.2 0.8 1.6 3.5 q0.2 3 -2.5 3.3 q-2.6 0.2 -2.6 -2.5 q-0.5 -2 0.5 -3.5z" fill="#62b44a"/>
<path d="M477.60 488.20 l3.4 -2.0 l0.5 3.6 z" fill="#111"/>
<text x="482.1" y="502.6" font-size="9.4" fill="#1a1a1a" text-anchor="middle" textLength="33.8" lengthAdjust="spacingAndGlyphs" >2-4-6 dpi</text>
<text x="9.6" y="589.4" font-size="13.8" fill="#000" font-weight="bold" textLength="8.0" lengthAdjust="spacingAndGlyphs" >E</text>
<text x="277.2" y="589.4" font-size="13.8" fill="#000" font-weight="bold" textLength="6.8" lengthAdjust="spacingAndGlyphs" >F</text>
<text x="84.0" y="606.9" font-size="11.4" fill="#1a1a1a" text-anchor="middle" textLength="24.8" lengthAdjust="spacingAndGlyphs" >2 dpi</text>
<rect x="58.50" y="704.33" width="8.20" height="0.67" fill="#c8b8d8" />
<circle cx="59.40" cy="704.33" r="1.85" fill="#fff" stroke="#111" stroke-width="1.0" />
<circle cx="62.60" cy="703.44" r="1.85" fill="#fff" stroke="#111" stroke-width="1.0" />
<circle cx="65.80" cy="704.33" r="1.85" fill="#fff" stroke="#111" stroke-width="1.0" />
<rect x="73.00" y="693.40" width="8.20" height="11.60" fill="#7e4e8c" />
<circle cx="74.50" cy="692.29" r="1.85" fill="#fff" stroke="#111" stroke-width="1.0" />
<circle cx="77.10" cy="691.17" r="1.85" fill="#fff" stroke="#111" stroke-width="1.0" />
<circle cx="79.90" cy="692.29" r="1.85" fill="#fff" stroke="#111" stroke-width="1.0" />
<rect x="87.60" y="677.35" width="8.20" height="27.65" fill="#8a82c4" />
<line x1="91.70" y1="670.66" x2="91.70" y2="677.35" stroke="#333" stroke-width="1" />
<line x1="89.90" y1="670.66" x2="93.50" y2="670.66" stroke="#333" stroke-width="1" />
<circle cx="91.70" cy="665.31" r="1.85" fill="#fff" stroke="#111" stroke-width="1.0" />
<circle cx="91.70" cy="679.13" r="1.85" fill="#fff" stroke="#111" stroke-width="1.0" />
<circle cx="91.70" cy="684.48" r="1.85" fill="#fff" stroke="#111" stroke-width="1.0" />
<rect x="102.00" y="644.34" width="8.20" height="60.66" fill="#e4a0c8" />
<line x1="106.10" y1="628.29" x2="106.10" y2="644.34" stroke="#333" stroke-width="1" />
<line x1="104.30" y1="628.29" x2="107.90" y2="628.29" stroke="#333" stroke-width="1" />
<circle cx="106.10" cy="615.80" r="1.85" fill="#fff" stroke="#111" stroke-width="1.0" />
<circle cx="106.10" cy="647.91" r="1.85" fill="#fff" stroke="#111" stroke-width="1.0" />
<circle cx="106.10" cy="666.64" r="1.85" fill="#fff" stroke="#111" stroke-width="1.0" />
<line x1="52.90" y1="613.00" x2="52.90" y2="705.00" stroke="#111" stroke-width="1.1" />
<line x1="52.40" y1="705.00" x2="115.70" y2="705.00" stroke="#111" stroke-width="1.1" />
<line x1="50.10" y1="705.00" x2="52.90" y2="705.00" stroke="#111" stroke-width="1" />
<text x="46.5" y="708.3" font-size="9.3" fill="#1a1a1a" text-anchor="end" >0</text>
<line x1="50.10" y1="682.70" x2="52.90" y2="682.70" stroke="#111" stroke-width="1" />
<text x="46.5" y="686.0" font-size="9.3" fill="#1a1a1a" text-anchor="end" >5</text>
<line x1="50.10" y1="660.40" x2="52.90" y2="660.40" stroke="#111" stroke-width="1" />
<text x="46.5" y="663.6999999999999" font-size="9.3" fill="#1a1a1a" text-anchor="end" >10</text>
<line x1="50.10" y1="638.10" x2="52.90" y2="638.10" stroke="#111" stroke-width="1" />
<text x="46.5" y="641.4" font-size="9.3" fill="#1a1a1a" text-anchor="end" >15</text>
<line x1="50.10" y1="615.80" x2="52.90" y2="615.80" stroke="#111" stroke-width="1" />
<text x="46.5" y="619.0999999999999" font-size="9.3" fill="#1a1a1a" text-anchor="end" >20</text>
<line x1="62.60" y1="705.00" x2="62.60" y2="707.60" stroke="#111" stroke-width="1" />
<text transform="translate(65.6,715.8) rotate(-45)" font-size="8.8" fill="#1a1a1a" text-anchor="end" >PRO-E</text>
<line x1="77.10" y1="705.00" x2="77.10" y2="707.60" stroke="#111" stroke-width="1" />
<text transform="translate(80.1,715.8) rotate(-45)" font-size="8.8" fill="#1a1a1a" text-anchor="end" >BASO</text>
<line x1="91.70" y1="705.00" x2="91.70" y2="707.60" stroke="#111" stroke-width="1" />
<text transform="translate(94.7,715.8) rotate(-45)" font-size="8.8" fill="#1a1a1a" text-anchor="end" >POLY</text>
<line x1="106.10" y1="705.00" x2="106.10" y2="707.60" stroke="#111" stroke-width="1" />
<text transform="translate(109.1,715.8) rotate(-45)" font-size="8.8" fill="#1a1a1a" text-anchor="end" >ORTHO</text>
<text x="165.2" y="606.9" font-size="11.4" fill="#1a1a1a" text-anchor="middle" textLength="24.8" lengthAdjust="spacingAndGlyphs" >4 dpi</text>
<rect x="147.70" y="704.55" width="8.20" height="0.45" fill="#7e4e8c" />
<circle cx="148.60" cy="704.33" r="1.85" fill="#fff" stroke="#111" stroke-width="1.0" />
<circle cx="151.80" cy="703.66" r="1.85" fill="#fff" stroke="#111" stroke-width="1.0" />
<circle cx="155.00" cy="704.33" r="1.85" fill="#fff" stroke="#111" stroke-width="1.0" />
<rect x="161.00" y="700.54" width="8.20" height="4.46" fill="#8a82c4" />
<circle cx="162.30" cy="697.42" r="1.85" fill="#fff" stroke="#111" stroke-width="1.0" />
<circle cx="167.70" cy="697.42" r="1.85" fill="#fff" stroke="#111" stroke-width="1.0" />
<circle cx="165.10" cy="702.32" r="1.85" fill="#fff" stroke="#111" stroke-width="1.0" />
<rect x="174.30" y="688.05" width="8.20" height="16.95" fill="#e4a0c8" />
<line x1="178.40" y1="680.47" x2="178.40" y2="688.05" stroke="#333" stroke-width="1" />
<line x1="176.60" y1="680.47" x2="180.20" y2="680.47" stroke="#333" stroke-width="1" />
<circle cx="178.40" cy="674.67" r="1.85" fill="#fff" stroke="#111" stroke-width="1.0" />
<circle cx="178.40" cy="689.84" r="1.85" fill="#fff" stroke="#111" stroke-width="1.0" />
<circle cx="178.40" cy="697.86" r="1.85" fill="#fff" stroke="#111" stroke-width="1.0" />
<line x1="143.20" y1="613.00" x2="143.20" y2="705.00" stroke="#111" stroke-width="1.1" />
<line x1="139.70" y1="705.00" x2="186.80" y2="705.00" stroke="#111" stroke-width="1.1" />
<line x1="140.40" y1="705.00" x2="143.20" y2="705.00" stroke="#111" stroke-width="1" />
<text x="136.79999999999998" y="708.3" font-size="9.3" fill="#1a1a1a" text-anchor="end" >0</text>
<line x1="140.40" y1="682.70" x2="143.20" y2="682.70" stroke="#111" stroke-width="1" />
<text x="136.79999999999998" y="686.0" font-size="9.3" fill="#1a1a1a" text-anchor="end" >5</text>
<line x1="140.40" y1="660.40" x2="143.20" y2="660.40" stroke="#111" stroke-width="1" />
<text x="136.79999999999998" y="663.6999999999999" font-size="9.3" fill="#1a1a1a" text-anchor="end" >10</text>
<line x1="140.40" y1="638.10" x2="143.20" y2="638.10" stroke="#111" stroke-width="1" />
<text x="136.79999999999998" y="641.4" font-size="9.3" fill="#1a1a1a" text-anchor="end" >15</text>
<line x1="140.40" y1="615.80" x2="143.20" y2="615.80" stroke="#111" stroke-width="1" />
<text x="136.79999999999998" y="619.0999999999999" font-size="9.3" fill="#1a1a1a" text-anchor="end" >20</text>
<line x1="151.80" y1="705.00" x2="151.80" y2="707.60" stroke="#111" stroke-width="1" />
<text transform="translate(154.8,715.8) rotate(-45)" font-size="8.8" fill="#1a1a1a" text-anchor="end" >BASO</text>
<line x1="165.10" y1="705.00" x2="165.10" y2="707.60" stroke="#111" stroke-width="1" />
<text transform="translate(168.1,715.8) rotate(-45)" font-size="8.8" fill="#1a1a1a" text-anchor="end" >POLY</text>
<line x1="178.40" y1="705.00" x2="178.40" y2="707.60" stroke="#111" stroke-width="1" />
<text transform="translate(181.4,715.8) rotate(-45)" font-size="8.8" fill="#1a1a1a" text-anchor="end" >ORTHO</text>
<text x="236.9" y="606.9" font-size="11.4" fill="#1a1a1a" text-anchor="middle" textLength="24.8" lengthAdjust="spacingAndGlyphs" >6 dpi</text>
<circle cx="221.20" cy="704.55" r="1.85" fill="#fff" stroke="#111" stroke-width="1.0" />
<circle cx="225.20" cy="704.55" r="1.85" fill="#fff" stroke="#111" stroke-width="1.0" />
<rect x="232.80" y="700.99" width="8.20" height="4.01" fill="#8a82c4" />
<circle cx="234.30" cy="697.86" r="1.85" fill="#fff" stroke="#111" stroke-width="1.0" />
<circle cx="239.50" cy="699.65" r="1.85" fill="#fff" stroke="#111" stroke-width="1.0" />
<circle cx="236.90" cy="703.22" r="1.85" fill="#fff" stroke="#111" stroke-width="1.0" />
<rect x="246.10" y="696.53" width="8.20" height="8.47" fill="#e4a0c8" />
<circle cx="247.60" cy="694.74" r="1.85" fill="#fff" stroke="#111" stroke-width="1.0" />
<circle cx="252.80" cy="696.08" r="1.85" fill="#fff" stroke="#111" stroke-width="1.0" />
<circle cx="250.20" cy="697.42" r="1.85" fill="#fff" stroke="#111" stroke-width="1.0" />
<line x1="214.60" y1="613.00" x2="214.60" y2="705.00" stroke="#111" stroke-width="1.1" />
<line x1="211.50" y1="705.00" x2="254.40" y2="705.00" stroke="#111" stroke-width="1.1" />
<line x1="211.80" y1="705.00" x2="214.60" y2="705.00" stroke="#111" stroke-width="1" />
<text x="208.2" y="708.3" font-size="9.3" fill="#1a1a1a" text-anchor="end" >0</text>
<line x1="211.80" y1="682.70" x2="214.60" y2="682.70" stroke="#111" stroke-width="1" />
<text x="208.2" y="686.0" font-size="9.3" fill="#1a1a1a" text-anchor="end" >5</text>
<line x1="211.80" y1="660.40" x2="214.60" y2="660.40" stroke="#111" stroke-width="1" />
<text x="208.2" y="663.6999999999999" font-size="9.3" fill="#1a1a1a" text-anchor="end" >10</text>
<line x1="211.80" y1="638.10" x2="214.60" y2="638.10" stroke="#111" stroke-width="1" />
<text x="208.2" y="641.4" font-size="9.3" fill="#1a1a1a" text-anchor="end" >15</text>
<line x1="211.80" y1="615.80" x2="214.60" y2="615.80" stroke="#111" stroke-width="1" />
<text x="208.2" y="619.0999999999999" font-size="9.3" fill="#1a1a1a" text-anchor="end" >20</text>
<line x1="223.20" y1="705.00" x2="223.20" y2="707.60" stroke="#111" stroke-width="1" />
<text transform="translate(226.2,715.8) rotate(-45)" font-size="8.8" fill="#1a1a1a" text-anchor="end" >BASO</text>
<line x1="236.90" y1="705.00" x2="236.90" y2="707.60" stroke="#111" stroke-width="1" />
<text transform="translate(239.9,715.8) rotate(-45)" font-size="8.8" fill="#1a1a1a" text-anchor="end" >POLY</text>
<line x1="250.20" y1="705.00" x2="250.20" y2="707.60" stroke="#111" stroke-width="1" />
<text transform="translate(253.2,715.8) rotate(-45)" font-size="8.8" fill="#1a1a1a" text-anchor="end" >ORTHO</text>
<text x="340.1" y="606.9" font-size="11.4" fill="#1a1a1a" text-anchor="middle" textLength="24.8" lengthAdjust="spacingAndGlyphs" >2 dpi</text>
<circle cx="314.20" cy="704.74" r="1.85" fill="#fff" stroke="#111" stroke-width="1.0" />
<circle cx="317.20" cy="703.96" r="1.85" fill="#fff" stroke="#111" stroke-width="1.0" />
<circle cx="320.20" cy="704.74" r="1.85" fill="#fff" stroke="#111" stroke-width="1.0" />
<rect x="327.30" y="696.36" width="8.20" height="8.94" fill="#7e4e8c" />
<line x1="331.40" y1="689.10" x2="331.40" y2="696.36" stroke="#333" stroke-width="1" />
<line x1="329.60" y1="689.10" x2="333.20" y2="689.10" stroke="#333" stroke-width="1" />
<circle cx="331.40" cy="682.96" r="1.85" fill="#fff" stroke="#111" stroke-width="1.0" />
<circle cx="328.60" cy="701.39" r="1.85" fill="#fff" stroke="#111" stroke-width="1.0" />
<circle cx="334.20" cy="700.83" r="1.85" fill="#fff" stroke="#111" stroke-width="1.0" />
<rect x="340.80" y="686.31" width="8.20" height="18.99" fill="#8a82c4" />
<line x1="344.90" y1="680.17" x2="344.90" y2="686.31" stroke="#333" stroke-width="1" />
<line x1="343.10" y1="680.17" x2="346.70" y2="680.17" stroke="#333" stroke-width="1" />
<circle cx="344.90" cy="675.14" r="1.85" fill="#fff" stroke="#111" stroke-width="1.0" />
<circle cx="342.10" cy="691.90" r="1.85" fill="#fff" stroke="#111" stroke-width="1.0" />
<circle cx="347.70" cy="689.66" r="1.85" fill="#fff" stroke="#111" stroke-width="1.0" />
<rect x="354.70" y="655.03" width="8.20" height="50.27" fill="#e4a0c8" />
<line x1="358.80" y1="637.16" x2="358.80" y2="655.03" stroke="#333" stroke-width="1" />
<line x1="357.00" y1="637.16" x2="360.60" y2="637.16" stroke="#333" stroke-width="1" />
<circle cx="358.80" cy="627.11" r="1.85" fill="#fff" stroke="#111" stroke-width="1.0" />
<circle cx="358.80" cy="651.68" r="1.85" fill="#fff" stroke="#111" stroke-width="1.0" />
<circle cx="358.80" cy="686.31" r="1.85" fill="#fff" stroke="#111" stroke-width="1.0" />
<line x1="308.30" y1="613.14" x2="308.30" y2="705.30" stroke="#111" stroke-width="1.1" />
<line x1="307.80" y1="705.30" x2="367.80" y2="705.30" stroke="#111" stroke-width="1.1" />
<line x1="305.50" y1="705.30" x2="308.30" y2="705.30" stroke="#111" stroke-width="1" />
<text x="301.90000000000003" y="708.5999999999999" font-size="9.3" fill="#1a1a1a" text-anchor="end" >0</text>
<line x1="305.50" y1="682.96" x2="308.30" y2="682.96" stroke="#111" stroke-width="1" />
<text x="301.90000000000003" y="686.2599999999999" font-size="9.3" fill="#1a1a1a" text-anchor="end" >2</text>
<line x1="305.50" y1="660.62" x2="308.30" y2="660.62" stroke="#111" stroke-width="1" />
<text x="301.90000000000003" y="663.92" font-size="9.3" fill="#1a1a1a" text-anchor="end" >4</text>
<line x1="305.50" y1="638.28" x2="308.30" y2="638.28" stroke="#111" stroke-width="1" />
<text x="301.90000000000003" y="641.5799999999999" font-size="9.3" fill="#1a1a1a" text-anchor="end" >6</text>
<line x1="305.50" y1="615.94" x2="308.30" y2="615.94" stroke="#111" stroke-width="1" />
<text x="301.90000000000003" y="619.2399999999999" font-size="9.3" fill="#1a1a1a" text-anchor="end" >8</text>
<line x1="317.20" y1="705.30" x2="317.20" y2="707.90" stroke="#111" stroke-width="1" />
<text transform="translate(320.2,716.0999999999999) rotate(-45)" font-size="8.8" fill="#1a1a1a" text-anchor="end" >PRO-E</text>
<line x1="331.40" y1="705.30" x2="331.40" y2="707.90" stroke="#111" stroke-width="1" />
<text transform="translate(334.4,716.0999999999999) rotate(-45)" font-size="8.8" fill="#1a1a1a" text-anchor="end" >BASO</text>
<line x1="344.90" y1="705.30" x2="344.90" y2="707.90" stroke="#111" stroke-width="1" />
<text transform="translate(347.9,716.0999999999999) rotate(-45)" font-size="8.8" fill="#1a1a1a" text-anchor="end" >POLY</text>
<line x1="358.80" y1="705.30" x2="358.80" y2="707.90" stroke="#111" stroke-width="1" />
<text transform="translate(361.8,716.0999999999999) rotate(-45)" font-size="8.8" fill="#1a1a1a" text-anchor="end" >ORTHO</text>
<text x="412.7" y="606.9" font-size="11.4" fill="#1a1a1a" text-anchor="middle" textLength="24.8" lengthAdjust="spacingAndGlyphs" >4 dpi</text>
<circle cx="396.60" cy="705.08" r="1.85" fill="#fff" stroke="#111" stroke-width="1.0" />
<circle cx="402.20" cy="704.41" r="1.85" fill="#fff" stroke="#111" stroke-width="1.0" />
<rect x="408.60" y="699.16" width="8.20" height="6.14" fill="#8a82c4" />
<circle cx="410.30" cy="695.25" r="1.85" fill="#fff" stroke="#111" stroke-width="1.0" />
<circle cx="415.50" cy="698.60" r="1.85" fill="#fff" stroke="#111" stroke-width="1.0" />
<circle cx="412.70" cy="701.95" r="1.85" fill="#fff" stroke="#111" stroke-width="1.0" />
<rect x="422.10" y="686.31" width="8.20" height="18.99" fill="#e4a0c8" />
<line x1="426.20" y1="680.73" x2="426.20" y2="686.31" stroke="#333" stroke-width="1" />
<line x1="424.40" y1="680.73" x2="428.00" y2="680.73" stroke="#333" stroke-width="1" />
<circle cx="426.20" cy="676.26" r="1.85" fill="#fff" stroke="#111" stroke-width="1.0" />
<circle cx="423.40" cy="688.54" r="1.85" fill="#fff" stroke="#111" stroke-width="1.0" />
<circle cx="429.00" cy="687.43" r="1.85" fill="#fff" stroke="#111" stroke-width="1.0" />
<line x1="389.60" y1="613.14" x2="389.60" y2="705.30" stroke="#111" stroke-width="1.1" />
<line x1="386.00" y1="705.30" x2="434.00" y2="705.30" stroke="#111" stroke-width="1.1" />
<line x1="386.80" y1="705.30" x2="389.60" y2="705.30" stroke="#111" stroke-width="1" />
<text x="383.20000000000005" y="708.5999999999999" font-size="9.3" fill="#1a1a1a" text-anchor="end" >0</text>
<line x1="386.80" y1="682.96" x2="389.60" y2="682.96" stroke="#111" stroke-width="1" />
<text x="383.20000000000005" y="686.2599999999999" font-size="9.3" fill="#1a1a1a" text-anchor="end" >2</text>
<line x1="386.80" y1="660.62" x2="389.60" y2="660.62" stroke="#111" stroke-width="1" />
<text x="383.20000000000005" y="663.92" font-size="9.3" fill="#1a1a1a" text-anchor="end" >4</text>
<line x1="386.80" y1="638.28" x2="389.60" y2="638.28" stroke="#111" stroke-width="1" />
<text x="383.20000000000005" y="641.5799999999999" font-size="9.3" fill="#1a1a1a" text-anchor="end" >6</text>
<line x1="386.80" y1="615.94" x2="389.60" y2="615.94" stroke="#111" stroke-width="1" />
<text x="383.20000000000005" y="619.2399999999999" font-size="9.3" fill="#1a1a1a" text-anchor="end" >8</text>
<line x1="399.40" y1="705.30" x2="399.40" y2="707.90" stroke="#111" stroke-width="1" />
<text transform="translate(402.4,716.0999999999999) rotate(-45)" font-size="8.8" fill="#1a1a1a" text-anchor="end" >BASO</text>
<line x1="412.70" y1="705.30" x2="412.70" y2="707.90" stroke="#111" stroke-width="1" />
<text transform="translate(415.7,716.0999999999999) rotate(-45)" font-size="8.8" fill="#1a1a1a" text-anchor="end" >POLY</text>
<line x1="426.20" y1="705.30" x2="426.20" y2="707.90" stroke="#111" stroke-width="1" />
<text transform="translate(429.2,716.0999999999999) rotate(-45)" font-size="8.8" fill="#1a1a1a" text-anchor="end" >ORTHO</text>
<text x="478.2" y="606.9" font-size="11.4" fill="#1a1a1a" text-anchor="middle" textLength="24.8" lengthAdjust="spacingAndGlyphs" >6 dpi</text>
<circle cx="462.40" cy="705.08" r="1.85" fill="#fff" stroke="#111" stroke-width="1.0" />
<circle cx="465.20" cy="704.41" r="1.85" fill="#fff" stroke="#111" stroke-width="1.0" />
<circle cx="468.00" cy="704.74" r="1.85" fill="#fff" stroke="#111" stroke-width="1.0" />
<rect x="475.50" y="696.92" width="8.20" height="8.38" fill="#8a82c4" />
<line x1="479.60" y1="693.01" x2="479.60" y2="696.92" stroke="#333" stroke-width="1" />
<line x1="477.80" y1="693.01" x2="481.40" y2="693.01" stroke="#333" stroke-width="1" />
<circle cx="479.60" cy="689.66" r="1.85" fill="#fff" stroke="#111" stroke-width="1.0" />
<circle cx="479.60" cy="693.01" r="1.85" fill="#fff" stroke="#111" stroke-width="1.0" />
<circle cx="479.60" cy="704.18" r="1.85" fill="#fff" stroke="#111" stroke-width="1.0" />
<rect x="488.50" y="670.67" width="8.20" height="34.63" fill="#e4a0c8" />
<line x1="492.60" y1="657.27" x2="492.60" y2="670.67" stroke="#333" stroke-width="1" />
<line x1="490.80" y1="657.27" x2="494.40" y2="657.27" stroke="#333" stroke-width="1" />
<circle cx="492.60" cy="649.45" r="1.85" fill="#fff" stroke="#111" stroke-width="1.0" />
<circle cx="492.60" cy="669.56" r="1.85" fill="#fff" stroke="#111" stroke-width="1.0" />
<circle cx="492.60" cy="691.90" r="1.85" fill="#fff" stroke="#111" stroke-width="1.0" />
<line x1="456.00" y1="613.14" x2="456.00" y2="705.30" stroke="#111" stroke-width="1.1" />
<line x1="452.50" y1="705.30" x2="501.00" y2="705.30" stroke="#111" stroke-width="1.1" />
<line x1="453.20" y1="705.30" x2="456.00" y2="705.30" stroke="#111" stroke-width="1" />
<text x="449.6" y="708.5999999999999" font-size="9.3" fill="#1a1a1a" text-anchor="end" >0</text>
<line x1="453.20" y1="682.96" x2="456.00" y2="682.96" stroke="#111" stroke-width="1" />
<text x="449.6" y="686.2599999999999" font-size="9.3" fill="#1a1a1a" text-anchor="end" >2</text>
<line x1="453.20" y1="660.62" x2="456.00" y2="660.62" stroke="#111" stroke-width="1" />
<text x="449.6" y="663.92" font-size="9.3" fill="#1a1a1a" text-anchor="end" >4</text>
<line x1="453.20" y1="638.28" x2="456.00" y2="638.28" stroke="#111" stroke-width="1" />
<text x="449.6" y="641.5799999999999" font-size="9.3" fill="#1a1a1a" text-anchor="end" >6</text>
<line x1="453.20" y1="615.94" x2="456.00" y2="615.94" stroke="#111" stroke-width="1" />
<text x="449.6" y="619.2399999999999" font-size="9.3" fill="#1a1a1a" text-anchor="end" >8</text>
<line x1="465.20" y1="705.30" x2="465.20" y2="707.90" stroke="#111" stroke-width="1" />
<text transform="translate(468.2,716.0999999999999) rotate(-45)" font-size="8.8" fill="#1a1a1a" text-anchor="end" >BASO</text>
<line x1="479.60" y1="705.30" x2="479.60" y2="707.90" stroke="#111" stroke-width="1" />
<text transform="translate(482.6,716.0999999999999) rotate(-45)" font-size="8.8" fill="#1a1a1a" text-anchor="end" >POLY</text>
<line x1="492.60" y1="705.30" x2="492.60" y2="707.90" stroke="#111" stroke-width="1" />
<text transform="translate(495.6,716.0999999999999) rotate(-45)" font-size="8.8" fill="#1a1a1a" text-anchor="end" >ORTHO</text>
<text transform="translate(29.6,658.8) rotate(-90)" font-size="10.2" fill="#1a1a1a" text-anchor="middle" textLength="110" lengthAdjust="spacingAndGlyphs" >% parasites in nucleated cells</text>
<text transform="translate(285.8,659.1) rotate(-90)" font-size="10.2" fill="#1a1a1a" text-anchor="middle" textLength="124.6" lengthAdjust="spacingAndGlyphs" >% gametocytes in nucleated cells</text>
<rect x="0.00" y="0.00" width="1.10" height="748.00" fill="#000" />
<rect x="0.00" y="0.00" width="520.00" height="1.10" fill="#000" />
<rect x="518.80" y="0.00" width="1.20" height="748.00" fill="#000" />
<rect x="0.00" y="746.70" width="520.00" height="1.30" fill="#000" />
</svg></body></html>
